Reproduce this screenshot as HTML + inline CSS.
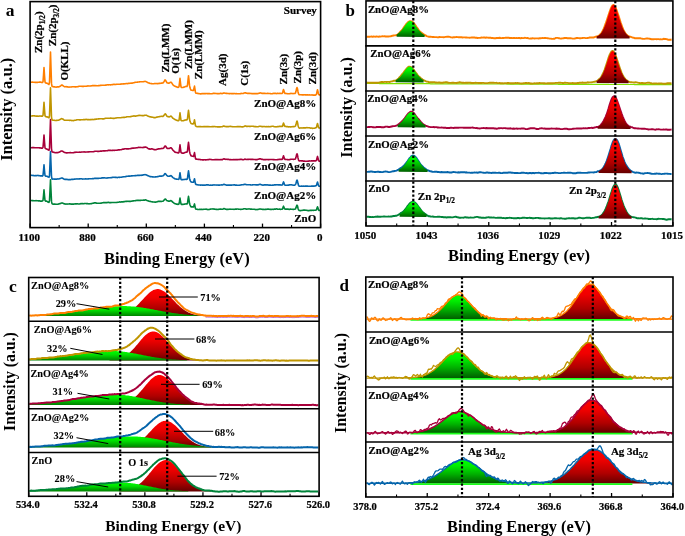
<!DOCTYPE html>
<html><head><meta charset="utf-8"><style>
html,body{margin:0;padding:0;background:#fff;}
svg{display:block;will-change:transform;}
text{font-family:"Liberation Serif", serif;font-weight:bold;fill:#000;}
</style></head><body>
<svg width="685" height="536" viewBox="0 0 685 536">
<rect width="685" height="536" fill="#fff"/>
<defs>
<linearGradient id="gG" x1="0" y1="0" x2="0" y2="1"><stop offset="0" stop-color="#00ff00"/><stop offset="0.25" stop-color="#00ee00"/><stop offset="0.6" stop-color="#00b000"/><stop offset="1" stop-color="#005c00"/></linearGradient>
<linearGradient id="gG2" x1="0" y1="0" x2="0" y2="1"><stop offset="0" stop-color="#00ff00"/><stop offset="0.4" stop-color="#00e000"/><stop offset="1" stop-color="#008000"/></linearGradient>
<linearGradient id="gR" x1="0" y1="0" x2="0" y2="1"><stop offset="0" stop-color="#ff0000"/><stop offset="0.3" stop-color="#f00000"/><stop offset="0.7" stop-color="#b00000"/><stop offset="1" stop-color="#640000"/></linearGradient>
</defs>
<path d="M30.5,200.4 L31.0,200.5 L31.5,200.5 L32.0,200.6 L32.5,200.6 L33.0,200.6 L33.5,200.7 L34.0,200.7 L34.5,200.7 L35.0,200.7 L35.5,200.7 L36.0,200.6 L36.5,200.8 L37.0,200.7 L37.5,200.7 L38.0,200.7 L38.5,200.9 L39.0,201.0 L39.5,200.8 L40.0,201.0 L40.5,201.1 L41.0,201.1 L41.5,201.1 L42.0,201.0 L42.5,201.0 L43.0,200.3 L43.5,195.5 L44.0,189.8 L44.5,195.5 L45.0,200.3 L45.5,201.1 L46.0,201.0 L46.5,201.1 L47.0,201.2 L47.5,201.7 L48.0,202.0 L48.5,202.3 L49.0,202.4 L49.5,200.6 L50.0,190.3 L50.5,179.8 L51.0,190.6 L51.5,201.4 L52.0,203.6 L52.5,204.0 L53.0,204.1 L53.5,204.2 L54.0,204.1 L54.5,204.1 L55.0,204.1 L55.5,204.2 L56.0,204.3 L56.5,204.2 L57.0,204.2 L57.5,204.2 L58.0,204.2 L58.5,204.0 L59.0,203.9 L59.5,203.8 L60.0,203.6 L60.5,203.5 L61.0,203.2 L61.5,203.0 L62.0,203.0 L62.5,203.0 L63.0,203.3 L63.5,203.5 L64.0,203.8 L64.5,203.9 L65.0,203.9 L65.5,204.1 L66.0,204.0 L66.5,204.0 L67.0,204.1 L67.5,204.0 L68.0,204.0 L68.5,204.0 L69.0,204.0 L69.5,203.9 L70.0,203.9 L70.5,204.0 L71.0,204.1 L71.5,204.0 L72.0,204.1 L72.5,204.1 L73.0,204.0 L73.5,204.1 L74.0,204.0 L74.5,204.0 L75.0,203.9 L75.5,203.9 L76.0,203.9 L76.5,203.9 L77.0,203.8 L77.5,203.8 L78.0,204.0 L78.5,204.0 L79.0,204.0 L79.5,204.0 L80.0,203.9 L80.5,203.8 L81.0,203.6 L81.5,203.7 L82.0,203.6 L82.5,203.6 L83.0,203.7 L83.5,203.7 L84.0,203.6 L84.5,203.5 L85.0,203.5 L85.5,203.5 L86.0,203.5 L86.5,203.6 L87.0,203.6 L87.5,203.6 L88.0,203.8 L88.5,203.8 L89.0,203.9 L89.5,203.8 L90.0,203.7 L90.5,203.7 L91.0,203.6 L91.5,203.6 L92.0,203.5 L92.5,203.3 L93.0,203.2 L93.5,203.1 L94.0,203.0 L94.5,202.9 L95.0,202.9 L95.5,202.8 L96.0,203.0 L96.5,203.1 L97.0,203.2 L97.5,203.2 L98.0,203.3 L98.5,203.3 L99.0,203.3 L99.5,203.3 L100.0,203.3 L100.5,203.2 L101.0,203.0 L101.5,203.1 L102.0,202.9 L102.5,202.8 L103.0,202.8 L103.5,202.6 L104.0,202.6 L104.5,202.6 L105.0,202.6 L105.5,202.7 L106.0,202.5 L106.5,202.6 L107.0,202.6 L107.5,202.5 L108.0,202.4 L108.5,202.4 L109.0,202.5 L109.5,202.6 L110.0,202.6 L110.5,202.6 L111.0,202.6 L111.5,202.5 L112.0,202.5 L112.5,202.5 L113.0,202.5 L113.5,202.5 L114.0,202.5 L114.5,202.5 L115.0,202.5 L115.5,202.5 L116.0,202.5 L116.5,202.5 L117.0,202.4 L117.5,202.2 L118.0,202.2 L118.5,202.2 L119.0,202.1 L119.5,201.9 L120.0,201.9 L120.5,202.1 L121.0,202.0 L121.5,201.8 L122.0,201.9 L122.5,201.8 L123.0,202.0 L123.5,201.7 L124.0,201.5 L124.5,201.6 L125.0,201.5 L125.5,201.5 L126.0,201.2 L126.5,201.2 L127.0,201.4 L127.5,201.2 L128.0,201.3 L128.5,201.2 L129.0,201.5 L129.5,201.4 L130.0,201.3 L130.5,201.4 L131.0,201.3 L131.5,201.3 L132.0,201.1 L132.5,201.0 L133.0,200.9 L133.5,200.9 L134.0,200.8 L134.5,200.8 L135.0,200.7 L135.5,200.6 L136.0,200.6 L136.5,200.4 L137.0,200.4 L137.5,200.4 L138.0,200.4 L138.5,200.4 L139.0,200.4 L139.5,200.5 L140.0,200.4 L140.5,200.4 L141.0,200.2 L141.5,200.3 L142.0,200.3 L142.5,200.2 L143.0,200.2 L143.5,200.1 L144.0,200.1 L144.5,200.1 L145.0,200.0 L145.5,199.9 L146.0,200.0 L146.5,200.3 L147.0,200.5 L147.5,200.7 L148.0,200.8 L148.5,201.0 L149.0,201.2 L149.5,201.3 L150.0,201.5 L150.5,201.4 L151.0,201.6 L151.5,201.7 L152.0,201.7 L152.5,201.9 L153.0,202.0 L153.5,202.0 L154.0,202.0 L154.5,202.0 L155.0,202.2 L155.5,202.1 L156.0,202.0 L156.5,202.0 L157.0,201.8 L157.5,201.7 L158.0,201.4 L158.5,201.3 L159.0,201.4 L159.5,201.3 L160.0,201.4 L160.5,201.4 L161.0,201.5 L161.5,201.5 L162.0,201.3 L162.5,201.2 L163.0,201.2 L163.5,200.8 L164.0,200.3 L164.5,199.5 L165.0,199.1 L165.5,199.1 L166.0,199.6 L166.5,200.3 L167.0,200.7 L167.5,200.8 L168.0,201.0 L168.5,201.1 L169.0,201.1 L169.5,201.1 L170.0,201.1 L170.5,200.8 L171.0,200.6 L171.5,200.9 L172.0,201.4 L172.5,202.0 L173.0,202.3 L173.5,202.8 L174.0,203.1 L174.5,203.4 L175.0,203.7 L175.5,203.8 L176.0,204.0 L176.5,204.1 L177.0,204.1 L177.5,204.2 L178.0,204.4 L178.5,204.3 L179.0,203.9 L179.5,201.2 L180.0,198.0 L180.5,201.3 L181.0,203.9 L181.5,204.4 L182.0,204.4 L182.5,204.4 L183.0,204.5 L183.5,204.3 L184.0,204.2 L184.5,204.1 L185.0,204.0 L185.5,204.0 L186.0,203.9 L186.5,203.9 L187.0,204.0 L187.5,203.1 L188.0,199.4 L188.5,196.4 L189.0,199.5 L189.5,203.3 L190.0,205.0 L190.5,206.0 L191.0,206.9 L191.5,206.9 L192.0,206.9 L192.5,206.9 L193.0,207.0 L193.5,207.0 L194.0,205.5 L194.5,203.9 L195.0,206.3 L195.5,208.6 L196.0,209.1 L196.5,209.2 L197.0,209.3 L197.5,209.4 L198.0,209.5 L198.5,209.5 L199.0,209.5 L199.5,209.4 L200.0,209.4 L200.5,209.5 L201.0,209.4 L201.5,209.4 L202.0,209.4 L202.5,209.5 L203.0,209.5 L203.5,209.3 L204.0,209.3 L204.5,209.3 L205.0,209.2 L205.5,209.2 L206.0,209.1 L206.5,209.3 L207.0,209.4 L207.5,209.5 L208.0,209.6 L208.5,209.5 L209.0,209.5 L209.5,209.4 L210.0,209.2 L210.5,209.1 L211.0,209.0 L211.5,209.0 L212.0,209.0 L212.5,209.0 L213.0,208.9 L213.5,209.0 L214.0,209.1 L214.5,209.1 L215.0,209.3 L215.5,209.3 L216.0,209.4 L216.5,209.3 L217.0,209.5 L217.5,209.5 L218.0,209.4 L218.5,209.4 L219.0,209.3 L219.5,209.3 L220.0,209.1 L220.5,209.1 L221.0,209.1 L221.5,209.2 L222.0,209.2 L222.5,209.2 L223.0,209.1 L223.5,208.8 L224.0,208.6 L224.5,208.8 L225.0,208.9 L225.5,209.2 L226.0,209.2 L226.5,209.4 L227.0,209.4 L227.5,209.4 L228.0,209.4 L228.5,209.2 L229.0,209.2 L229.5,209.2 L230.0,209.1 L230.5,209.2 L231.0,209.2 L231.5,209.3 L232.0,209.3 L232.5,209.3 L233.0,209.3 L233.5,209.3 L234.0,209.4 L234.5,209.3 L235.0,209.3 L235.5,209.1 L236.0,209.1 L236.5,209.1 L237.0,209.0 L237.5,209.0 L238.0,209.0 L238.5,209.2 L239.0,209.3 L239.5,209.2 L240.0,209.3 L240.5,209.4 L241.0,209.4 L241.5,209.3 L242.0,209.2 L242.5,209.2 L243.0,209.1 L243.5,208.9 L244.0,208.8 L244.5,208.7 L245.0,208.7 L245.5,208.9 L246.0,209.0 L246.5,209.1 L247.0,209.1 L247.5,209.0 L248.0,209.0 L248.5,209.0 L249.0,208.9 L249.5,209.0 L250.0,209.0 L250.5,209.1 L251.0,209.1 L251.5,209.1 L252.0,209.2 L252.5,209.2 L253.0,209.2 L253.5,209.3 L254.0,209.3 L254.5,209.3 L255.0,209.4 L255.5,209.6 L256.0,209.5 L256.5,209.5 L257.0,209.6 L257.5,209.5 L258.0,209.4 L258.5,209.2 L259.0,209.2 L259.5,209.0 L260.0,209.0 L260.5,209.0 L261.0,209.1 L261.5,209.2 L262.0,209.3 L262.5,209.4 L263.0,209.3 L263.5,209.4 L264.0,209.5 L264.5,209.5 L265.0,209.4 L265.5,209.3 L266.0,209.4 L266.5,209.2 L267.0,209.2 L267.5,209.1 L268.0,209.2 L268.5,209.1 L269.0,209.2 L269.5,209.3 L270.0,209.4 L270.5,209.3 L271.0,209.4 L271.5,209.5 L272.0,209.4 L272.5,209.3 L273.0,209.3 L273.5,209.4 L274.0,209.3 L274.5,209.1 L275.0,209.1 L275.5,209.1 L276.0,209.0 L276.5,208.9 L277.0,209.0 L277.5,209.1 L278.0,209.2 L278.5,209.2 L279.0,209.2 L279.5,209.1 L280.0,209.3 L280.5,209.4 L281.0,209.3 L281.5,209.3 L282.0,209.3 L282.5,208.9 L283.0,207.4 L283.5,206.2 L284.0,207.4 L284.5,208.7 L285.0,209.0 L285.5,209.1 L286.0,209.1 L286.5,209.1 L287.0,209.0 L287.5,209.1 L288.0,209.1 L288.5,209.3 L289.0,209.4 L289.5,209.4 L290.0,209.3 L290.5,209.1 L291.0,209.2 L291.5,209.2 L292.0,209.2 L292.5,209.3 L293.0,209.4 L293.5,209.4 L294.0,209.3 L294.5,209.3 L295.0,209.2 L295.5,208.8 L296.0,207.7 L296.5,206.1 L297.0,205.2 L297.5,206.0 L298.0,208.2 L298.5,209.7 L299.0,210.4 L299.5,210.5 L300.0,210.6 L300.5,210.6 L301.0,210.5 L301.5,210.5 L302.0,210.4 L302.5,210.2 L303.0,210.2 L303.5,210.1 L304.0,210.1 L304.5,210.1 L305.0,210.1 L305.5,210.2 L306.0,210.2 L306.5,210.3 L307.0,210.4 L307.5,210.5 L308.0,210.6 L308.5,210.5 L309.0,210.6 L309.5,210.5 L310.0,210.4 L310.5,210.4 L311.0,210.3 L311.5,210.4 L312.0,210.4 L312.5,210.3 L313.0,210.3 L313.5,210.4 L314.0,210.3 L314.5,210.2 L315.0,210.3 L315.5,210.2 L316.0,210.1 L316.5,209.7 L317.0,208.0 L317.5,206.8 L318.0,208.0 L318.5,209.9 L319.0,210.4 L319.5,210.4 L320.0,210.5" fill="none" stroke="#00843a" stroke-width="1.6" stroke-linejoin="round" />
<path d="M30.5,175.3 L31.0,175.3 L31.5,175.3 L32.0,175.5 L32.5,175.5 L33.0,175.4 L33.5,175.5 L34.0,175.7 L34.5,175.7 L35.0,175.6 L35.5,175.6 L36.0,175.7 L36.5,175.6 L37.0,175.5 L37.5,175.5 L38.0,175.4 L38.5,175.6 L39.0,175.6 L39.5,175.7 L40.0,175.8 L40.5,175.9 L41.0,176.0 L41.5,175.9 L42.0,175.9 L42.5,176.1 L43.0,175.4 L43.5,170.5 L44.0,164.9 L44.5,170.7 L45.0,175.5 L45.5,176.1 L46.0,176.1 L46.5,176.2 L47.0,176.2 L47.5,176.5 L48.0,176.9 L48.5,177.1 L49.0,177.3 L49.5,175.5 L50.0,163.6 L50.5,151.6 L51.0,164.1 L51.5,176.5 L52.0,179.0 L52.5,179.1 L53.0,179.0 L53.5,179.0 L54.0,179.1 L54.5,179.1 L55.0,179.1 L55.5,179.1 L56.0,179.2 L56.5,179.1 L57.0,179.1 L57.5,178.9 L58.0,179.0 L58.5,179.0 L59.0,178.9 L59.5,178.8 L60.0,178.6 L60.5,178.4 L61.0,178.2 L61.5,178.0 L62.0,178.0 L62.5,178.1 L63.0,178.5 L63.5,178.8 L64.0,179.1 L64.5,179.2 L65.0,179.4 L65.5,179.4 L66.0,179.3 L66.5,179.5 L67.0,179.4 L67.5,179.5 L68.0,179.6 L68.5,179.7 L69.0,179.6 L69.5,179.6 L70.0,179.5 L70.5,179.6 L71.0,179.5 L71.5,179.4 L72.0,179.4 L72.5,179.3 L73.0,179.4 L73.5,179.2 L74.0,179.2 L74.5,179.1 L75.0,179.1 L75.5,179.0 L76.0,179.0 L76.5,179.0 L77.0,178.9 L77.5,179.0 L78.0,179.0 L78.5,179.0 L79.0,178.9 L79.5,178.8 L80.0,178.9 L80.5,178.8 L81.0,178.8 L81.5,178.8 L82.0,178.9 L82.5,179.1 L83.0,179.0 L83.5,179.0 L84.0,179.0 L84.5,179.0 L85.0,179.0 L85.5,178.8 L86.0,178.9 L86.5,179.0 L87.0,179.0 L87.5,179.0 L88.0,178.9 L88.5,178.9 L89.0,178.8 L89.5,178.8 L90.0,178.7 L90.5,178.8 L91.0,178.7 L91.5,178.7 L92.0,178.7 L92.5,178.6 L93.0,178.7 L93.5,178.6 L94.0,178.5 L94.5,178.4 L95.0,178.3 L95.5,178.5 L96.0,178.3 L96.5,178.4 L97.0,178.4 L97.5,178.4 L98.0,178.4 L98.5,178.4 L99.0,178.3 L99.5,178.3 L100.0,178.3 L100.5,178.2 L101.0,178.2 L101.5,178.0 L102.0,177.9 L102.5,177.9 L103.0,177.9 L103.5,177.9 L104.0,177.8 L104.5,177.8 L105.0,178.0 L105.5,178.0 L106.0,178.0 L106.5,178.0 L107.0,178.1 L107.5,177.9 L108.0,177.9 L108.5,177.8 L109.0,177.7 L109.5,177.7 L110.0,177.7 L110.5,177.7 L111.0,177.6 L111.5,177.6 L112.0,177.5 L112.5,177.4 L113.0,177.4 L113.5,177.3 L114.0,177.3 L114.5,177.2 L115.0,177.4 L115.5,177.4 L116.0,177.4 L116.5,177.4 L117.0,177.6 L117.5,177.6 L118.0,177.4 L118.5,177.3 L119.0,177.3 L119.5,177.4 L120.0,177.2 L120.5,177.3 L121.0,177.2 L121.5,177.2 L122.0,177.0 L122.5,177.0 L123.0,176.9 L123.5,176.8 L124.0,176.8 L124.5,176.8 L125.0,176.8 L125.5,176.6 L126.0,176.5 L126.5,176.4 L127.0,176.3 L127.5,176.2 L128.0,176.2 L128.5,176.1 L129.0,176.1 L129.5,176.1 L130.0,176.1 L130.5,176.0 L131.0,176.0 L131.5,175.9 L132.0,176.0 L132.5,175.8 L133.0,175.7 L133.5,175.7 L134.0,175.7 L134.5,175.7 L135.0,175.6 L135.5,175.6 L136.0,175.6 L136.5,175.5 L137.0,175.5 L137.5,175.4 L138.0,175.4 L138.5,175.4 L139.0,175.4 L139.5,175.4 L140.0,175.3 L140.5,175.3 L141.0,175.4 L141.5,175.2 L142.0,175.1 L142.5,175.1 L143.0,175.1 L143.5,174.8 L144.0,174.7 L144.5,174.7 L145.0,174.6 L145.5,174.7 L146.0,174.7 L146.5,175.0 L147.0,175.2 L147.5,175.5 L148.0,175.8 L148.5,175.9 L149.0,176.1 L149.5,176.4 L150.0,176.6 L150.5,176.5 L151.0,176.6 L151.5,176.7 L152.0,176.8 L152.5,176.9 L153.0,176.9 L153.5,177.0 L154.0,177.0 L154.5,177.0 L155.0,177.0 L155.5,176.8 L156.0,176.9 L156.5,176.8 L157.0,176.7 L157.5,176.6 L158.0,176.6 L158.5,176.4 L159.0,176.2 L159.5,176.1 L160.0,176.2 L160.5,176.1 L161.0,176.0 L161.5,176.1 L162.0,176.0 L162.5,176.0 L163.0,175.8 L163.5,175.5 L164.0,175.0 L164.5,174.1 L165.0,173.6 L165.5,173.7 L166.0,174.4 L166.5,175.2 L167.0,175.6 L167.5,176.0 L168.0,176.2 L168.5,176.2 L169.0,176.2 L169.5,176.1 L170.0,176.0 L170.5,175.7 L171.0,175.6 L171.5,175.9 L172.0,176.5 L172.5,177.2 L173.0,177.6 L173.5,177.9 L174.0,178.2 L174.5,178.5 L175.0,178.9 L175.5,179.0 L176.0,179.0 L176.5,179.1 L177.0,179.3 L177.5,179.2 L178.0,179.3 L178.5,179.4 L179.0,179.1 L179.5,176.2 L180.0,172.7 L180.5,176.3 L181.0,179.4 L181.5,179.7 L182.0,179.7 L182.5,179.6 L183.0,179.6 L183.5,179.5 L184.0,179.5 L184.5,179.5 L185.0,179.4 L185.5,179.3 L186.0,179.2 L186.5,179.4 L187.0,179.3 L187.5,178.3 L188.0,174.2 L188.5,170.9 L189.0,174.2 L189.5,178.2 L190.0,180.1 L190.5,181.1 L191.0,181.9 L191.5,182.0 L192.0,182.2 L192.5,182.3 L193.0,182.3 L193.5,182.2 L194.0,180.5 L194.5,178.7 L195.0,181.3 L195.5,183.9 L196.0,184.4 L196.5,184.5 L197.0,184.8 L197.5,184.8 L198.0,184.9 L198.5,185.0 L199.0,185.0 L199.5,185.0 L200.0,185.0 L200.5,185.2 L201.0,185.0 L201.5,185.0 L202.0,185.1 L202.5,185.1 L203.0,185.2 L203.5,185.1 L204.0,185.2 L204.5,185.1 L205.0,185.2 L205.5,185.1 L206.0,184.9 L206.5,184.9 L207.0,184.8 L207.5,185.0 L208.0,184.9 L208.5,184.9 L209.0,185.1 L209.5,185.2 L210.0,185.2 L210.5,185.1 L211.0,185.2 L211.5,185.2 L212.0,185.1 L212.5,185.1 L213.0,185.0 L213.5,185.0 L214.0,184.9 L214.5,185.0 L215.0,185.0 L215.5,185.0 L216.0,185.0 L216.5,185.0 L217.0,185.1 L217.5,185.0 L218.0,185.0 L218.5,185.1 L219.0,185.1 L219.5,185.1 L220.0,185.0 L220.5,185.0 L221.0,185.0 L221.5,184.9 L222.0,185.0 L222.5,184.9 L223.0,184.7 L223.5,184.4 L224.0,184.2 L224.5,184.4 L225.0,184.7 L225.5,184.8 L226.0,185.0 L226.5,185.1 L227.0,185.2 L227.5,185.1 L228.0,185.1 L228.5,185.0 L229.0,185.1 L229.5,185.1 L230.0,185.1 L230.5,185.1 L231.0,185.1 L231.5,185.1 L232.0,185.0 L232.5,185.0 L233.0,185.0 L233.5,185.0 L234.0,184.8 L234.5,184.9 L235.0,185.0 L235.5,185.1 L236.0,185.1 L236.5,185.1 L237.0,185.2 L237.5,185.2 L238.0,185.2 L238.5,185.3 L239.0,185.2 L239.5,185.2 L240.0,185.1 L240.5,185.0 L241.0,185.0 L241.5,184.7 L242.0,184.8 L242.5,184.7 L243.0,184.7 L243.5,184.6 L244.0,184.5 L244.5,184.4 L245.0,184.3 L245.5,184.4 L246.0,184.6 L246.5,184.8 L247.0,184.8 L247.5,184.8 L248.0,184.8 L248.5,184.7 L249.0,184.8 L249.5,184.8 L250.0,184.8 L250.5,184.9 L251.0,185.0 L251.5,185.0 L252.0,185.0 L252.5,184.9 L253.0,184.8 L253.5,184.8 L254.0,184.7 L254.5,184.7 L255.0,184.8 L255.5,184.8 L256.0,185.0 L256.5,184.9 L257.0,185.0 L257.5,184.9 L258.0,185.0 L258.5,184.8 L259.0,184.6 L259.5,184.4 L260.0,184.3 L260.5,184.4 L261.0,184.6 L261.5,184.7 L262.0,184.9 L262.5,185.1 L263.0,185.1 L263.5,185.1 L264.0,184.9 L264.5,184.9 L265.0,185.0 L265.5,184.8 L266.0,184.9 L266.5,185.0 L267.0,184.9 L267.5,185.0 L268.0,184.9 L268.5,185.1 L269.0,185.1 L269.5,185.1 L270.0,185.0 L270.5,185.1 L271.0,185.2 L271.5,185.2 L272.0,185.2 L272.5,185.1 L273.0,185.2 L273.5,185.1 L274.0,184.9 L274.5,184.9 L275.0,184.8 L275.5,184.9 L276.0,184.8 L276.5,184.8 L277.0,184.9 L277.5,184.8 L278.0,184.8 L278.5,184.9 L279.0,184.9 L279.5,184.9 L280.0,184.8 L280.5,184.9 L281.0,185.1 L281.5,185.0 L282.0,185.0 L282.5,184.7 L283.0,183.3 L283.5,181.9 L284.0,183.1 L284.5,184.7 L285.0,185.1 L285.5,185.2 L286.0,185.2 L286.5,185.3 L287.0,185.2 L287.5,185.2 L288.0,185.1 L288.5,185.1 L289.0,185.0 L289.5,184.9 L290.0,184.9 L290.5,184.8 L291.0,184.7 L291.5,184.8 L292.0,185.0 L292.5,185.0 L293.0,185.1 L293.5,185.2 L294.0,185.2 L294.5,185.2 L295.0,184.9 L295.5,184.4 L296.0,183.2 L296.5,181.2 L297.0,180.1 L297.5,181.2 L298.0,183.6 L298.5,185.3 L299.0,186.1 L299.5,186.1 L300.0,186.2 L300.5,186.2 L301.0,186.2 L301.5,186.1 L302.0,186.1 L302.5,186.2 L303.0,186.2 L303.5,186.1 L304.0,186.2 L304.5,186.2 L305.0,186.1 L305.5,186.1 L306.0,186.0 L306.5,186.1 L307.0,186.1 L307.5,186.1 L308.0,186.2 L308.5,186.2 L309.0,186.2 L309.5,186.2 L310.0,186.2 L310.5,186.3 L311.0,186.2 L311.5,186.1 L312.0,186.1 L312.5,186.0 L313.0,186.1 L313.5,186.0 L314.0,186.1 L314.5,186.1 L315.0,185.9 L315.5,185.9 L316.0,185.8 L316.5,185.3 L317.0,183.5 L317.5,182.0 L318.0,183.8 L318.5,185.6 L319.0,186.2 L319.5,186.2 L320.0,186.1" fill="none" stroke="#0565ab" stroke-width="1.6" stroke-linejoin="round" />
<path d="M30.5,147.8 L31.0,147.7 L31.5,147.7 L32.0,147.6 L32.5,147.6 L33.0,147.6 L33.5,147.6 L34.0,147.6 L34.5,147.7 L35.0,147.8 L35.5,147.8 L36.0,147.8 L36.5,147.8 L37.0,147.7 L37.5,147.8 L38.0,147.7 L38.5,147.7 L39.0,147.8 L39.5,147.9 L40.0,147.9 L40.5,147.9 L41.0,148.1 L41.5,148.1 L42.0,148.1 L42.5,148.1 L43.0,147.4 L43.5,141.7 L44.0,135.0 L44.5,141.8 L45.0,147.8 L45.5,148.6 L46.0,148.8 L46.5,149.0 L47.0,149.1 L47.5,149.4 L48.0,149.7 L48.5,150.0 L49.0,150.2 L49.5,147.9 L50.0,133.8 L50.5,119.5 L51.0,134.4 L51.5,149.0 L52.0,151.8 L52.5,152.0 L53.0,152.1 L53.5,152.3 L54.0,152.4 L54.5,152.5 L55.0,152.6 L55.5,152.7 L56.0,152.7 L56.5,152.6 L57.0,152.7 L57.5,152.6 L58.0,152.5 L58.5,152.4 L59.0,152.2 L59.5,152.0 L60.0,151.7 L60.5,151.5 L61.0,151.1 L61.5,151.0 L62.0,151.0 L62.5,151.2 L63.0,151.4 L63.5,151.8 L64.0,152.2 L64.5,152.4 L65.0,152.5 L65.5,152.7 L66.0,152.8 L66.5,152.9 L67.0,153.0 L67.5,152.8 L68.0,152.8 L68.5,152.7 L69.0,152.7 L69.5,152.7 L70.0,152.6 L70.5,152.6 L71.0,152.7 L71.5,152.7 L72.0,152.7 L72.5,152.7 L73.0,152.7 L73.5,152.8 L74.0,152.5 L74.5,152.4 L75.0,152.4 L75.5,152.2 L76.0,152.1 L76.5,152.2 L77.0,152.3 L77.5,152.2 L78.0,152.3 L78.5,152.3 L79.0,152.2 L79.5,152.1 L80.0,152.2 L80.5,152.2 L81.0,152.1 L81.5,152.0 L82.0,152.0 L82.5,152.0 L83.0,152.0 L83.5,152.0 L84.0,151.9 L84.5,151.9 L85.0,152.1 L85.5,152.0 L86.0,152.0 L86.5,152.0 L87.0,152.0 L87.5,152.0 L88.0,151.9 L88.5,152.0 L89.0,151.9 L89.5,151.8 L90.0,151.8 L90.5,151.7 L91.0,151.7 L91.5,151.7 L92.0,151.7 L92.5,151.7 L93.0,151.8 L93.5,151.8 L94.0,151.6 L94.5,151.4 L95.0,151.3 L95.5,151.3 L96.0,151.2 L96.5,151.2 L97.0,151.3 L97.5,151.4 L98.0,151.5 L98.5,151.4 L99.0,151.4 L99.5,151.3 L100.0,151.3 L100.5,151.1 L101.0,151.0 L101.5,151.1 L102.0,151.0 L102.5,151.0 L103.0,150.9 L103.5,150.9 L104.0,150.9 L104.5,150.7 L105.0,150.9 L105.5,150.7 L106.0,150.8 L106.5,150.7 L107.0,150.7 L107.5,150.7 L108.0,150.4 L108.5,150.4 L109.0,150.4 L109.5,150.4 L110.0,150.4 L110.5,150.4 L111.0,150.4 L111.5,150.5 L112.0,150.5 L112.5,150.4 L113.0,150.4 L113.5,150.2 L114.0,150.3 L114.5,150.4 L115.0,150.3 L115.5,150.3 L116.0,150.3 L116.5,150.3 L117.0,150.3 L117.5,150.0 L118.0,150.0 L118.5,149.9 L119.0,149.9 L119.5,149.9 L120.0,149.8 L120.5,149.8 L121.0,149.7 L121.5,149.6 L122.0,149.4 L122.5,149.3 L123.0,149.1 L123.5,149.1 L124.0,149.0 L124.5,148.9 L125.0,148.7 L125.5,148.8 L126.0,148.8 L126.5,148.9 L127.0,148.9 L127.5,148.9 L128.0,148.9 L128.5,148.9 L129.0,148.8 L129.5,148.7 L130.0,148.7 L130.5,148.6 L131.0,148.4 L131.5,148.4 L132.0,148.4 L132.5,148.1 L133.0,148.0 L133.5,148.1 L134.0,148.1 L134.5,148.0 L135.0,148.0 L135.5,148.0 L136.0,147.9 L136.5,147.8 L137.0,147.8 L137.5,147.7 L138.0,147.5 L138.5,147.4 L139.0,147.5 L139.5,147.5 L140.0,147.3 L140.5,147.5 L141.0,147.5 L141.5,147.5 L142.0,147.5 L142.5,147.5 L143.0,147.6 L143.5,147.3 L144.0,147.4 L144.5,147.2 L145.0,147.0 L145.5,147.1 L146.0,147.1 L146.5,147.5 L147.0,147.6 L147.5,148.0 L148.0,148.5 L148.5,148.7 L149.0,148.9 L149.5,148.9 L150.0,149.2 L150.5,149.1 L151.0,148.9 L151.5,148.9 L152.0,148.9 L152.5,149.0 L153.0,149.1 L153.5,149.4 L154.0,149.6 L154.5,149.6 L155.0,149.8 L155.5,149.7 L156.0,149.6 L156.5,149.5 L157.0,149.3 L157.5,149.2 L158.0,148.9 L158.5,148.9 L159.0,149.0 L159.5,148.8 L160.0,148.8 L160.5,148.7 L161.0,148.6 L161.5,148.5 L162.0,148.4 L162.5,148.5 L163.0,148.5 L163.5,148.1 L164.0,147.6 L164.5,146.7 L165.0,146.0 L165.5,146.0 L166.0,146.7 L166.5,147.7 L167.0,148.2 L167.5,148.5 L168.0,148.4 L168.5,148.5 L169.0,148.5 L169.5,148.4 L170.0,148.1 L170.5,147.8 L171.0,147.8 L171.5,148.1 L172.0,148.8 L172.5,149.5 L173.0,150.2 L173.5,150.7 L174.0,151.2 L174.5,151.6 L175.0,152.2 L175.5,152.3 L176.0,152.5 L176.5,152.5 L177.0,152.5 L177.5,152.8 L178.0,152.9 L178.5,153.0 L179.0,152.5 L179.5,148.9 L180.0,144.9 L180.5,148.9 L181.0,152.4 L181.5,152.9 L182.0,153.0 L182.5,153.1 L183.0,153.1 L183.5,153.2 L184.0,153.0 L184.5,152.8 L185.0,152.6 L185.5,152.3 L186.0,152.2 L186.5,152.1 L187.0,152.1 L187.5,150.9 L188.0,146.2 L188.5,142.4 L189.0,146.3 L189.5,151.2 L190.0,153.5 L190.5,154.7 L191.0,155.8 L191.5,155.9 L192.0,156.1 L192.5,156.2 L193.0,156.3 L193.5,156.5 L194.0,154.6 L194.5,152.6 L195.0,155.7 L195.5,158.7 L196.0,159.2 L196.5,159.1 L197.0,159.2 L197.5,159.3 L198.0,159.4 L198.5,159.4 L199.0,159.5 L199.5,159.4 L200.0,159.6 L200.5,159.6 L201.0,159.7 L201.5,159.7 L202.0,159.8 L202.5,159.9 L203.0,159.9 L203.5,160.0 L204.0,159.8 L204.5,159.8 L205.0,159.8 L205.5,159.9 L206.0,159.9 L206.5,159.8 L207.0,159.8 L207.5,159.8 L208.0,159.6 L208.5,159.6 L209.0,159.5 L209.5,159.4 L210.0,159.5 L210.5,159.5 L211.0,159.4 L211.5,159.6 L212.0,159.7 L212.5,159.7 L213.0,159.7 L213.5,159.7 L214.0,159.8 L214.5,159.7 L215.0,159.5 L215.5,159.5 L216.0,159.7 L216.5,159.6 L217.0,159.6 L217.5,159.6 L218.0,159.7 L218.5,159.8 L219.0,159.5 L219.5,159.7 L220.0,159.7 L220.5,159.6 L221.0,159.6 L221.5,159.5 L222.0,159.6 L222.5,159.6 L223.0,159.2 L223.5,159.0 L224.0,158.8 L224.5,159.0 L225.0,159.3 L225.5,159.2 L226.0,159.4 L226.5,159.3 L227.0,159.3 L227.5,159.4 L228.0,159.3 L228.5,159.4 L229.0,159.5 L229.5,159.6 L230.0,159.7 L230.5,159.6 L231.0,159.6 L231.5,159.7 L232.0,159.7 L232.5,159.7 L233.0,159.6 L233.5,159.6 L234.0,159.7 L234.5,159.6 L235.0,159.7 L235.5,159.6 L236.0,159.6 L236.5,159.5 L237.0,159.6 L237.5,159.7 L238.0,159.5 L238.5,159.5 L239.0,159.6 L239.5,159.5 L240.0,159.4 L240.5,159.4 L241.0,159.4 L241.5,159.4 L242.0,159.5 L242.5,159.6 L243.0,159.7 L243.5,159.7 L244.0,159.5 L244.5,159.2 L245.0,159.1 L245.5,159.2 L246.0,159.4 L246.5,159.5 L247.0,159.5 L247.5,159.4 L248.0,159.4 L248.5,159.4 L249.0,159.4 L249.5,159.3 L250.0,159.3 L250.5,159.4 L251.0,159.4 L251.5,159.3 L252.0,159.4 L252.5,159.4 L253.0,159.4 L253.5,159.5 L254.0,159.5 L254.5,159.5 L255.0,159.5 L255.5,159.6 L256.0,159.6 L256.5,159.5 L257.0,159.6 L257.5,159.5 L258.0,159.3 L258.5,159.2 L259.0,159.0 L259.5,158.9 L260.0,158.7 L260.5,158.9 L261.0,159.0 L261.5,159.2 L262.0,159.4 L262.5,159.4 L263.0,159.5 L263.5,159.6 L264.0,159.7 L264.5,159.6 L265.0,159.6 L265.5,159.6 L266.0,159.6 L266.5,159.5 L267.0,159.5 L267.5,159.5 L268.0,159.6 L268.5,159.6 L269.0,159.6 L269.5,159.5 L270.0,159.5 L270.5,159.5 L271.0,159.5 L271.5,159.5 L272.0,159.5 L272.5,159.5 L273.0,159.6 L273.5,159.6 L274.0,159.5 L274.5,159.7 L275.0,159.7 L275.5,159.8 L276.0,159.8 L276.5,159.8 L277.0,159.7 L277.5,159.6 L278.0,159.6 L278.5,159.5 L279.0,159.4 L279.5,159.4 L280.0,159.4 L280.5,159.4 L281.0,159.4 L281.5,159.4 L282.0,159.5 L282.5,158.9 L283.0,157.2 L283.5,155.8 L284.0,157.2 L284.5,159.0 L285.0,159.4 L285.5,159.4 L286.0,159.5 L286.5,159.5 L287.0,159.5 L287.5,159.6 L288.0,159.6 L288.5,159.7 L289.0,159.7 L289.5,159.6 L290.0,159.5 L290.5,159.4 L291.0,159.3 L291.5,159.3 L292.0,159.2 L292.5,159.3 L293.0,159.3 L293.5,159.4 L294.0,159.3 L294.5,159.3 L295.0,159.2 L295.5,158.7 L296.0,157.3 L296.5,154.9 L297.0,153.8 L297.5,155.1 L298.0,157.9 L298.5,159.8 L299.0,160.8 L299.5,160.9 L300.0,160.9 L300.5,160.8 L301.0,160.8 L301.5,160.9 L302.0,160.9 L302.5,160.9 L303.0,161.0 L303.5,161.1 L304.0,161.1 L304.5,161.1 L305.0,161.3 L305.5,161.3 L306.0,161.2 L306.5,161.3 L307.0,161.3 L307.5,161.2 L308.0,161.1 L308.5,161.0 L309.0,161.1 L309.5,160.9 L310.0,161.0 L310.5,161.0 L311.0,161.0 L311.5,160.9 L312.0,160.9 L312.5,161.0 L313.0,160.9 L313.5,160.9 L314.0,160.7 L314.5,160.9 L315.0,160.9 L315.5,160.9 L316.0,160.8 L316.5,160.2 L317.0,158.2 L317.5,156.4 L318.0,158.2 L318.5,160.3 L319.0,161.1 L319.5,161.1 L320.0,161.1" fill="none" stroke="#a8003a" stroke-width="1.6" stroke-linejoin="round" />
<path d="M30.5,116.0 L31.0,116.0 L31.5,116.0 L32.0,116.0 L32.5,115.9 L33.0,115.9 L33.5,115.8 L34.0,115.8 L34.5,115.9 L35.0,116.0 L35.5,116.0 L36.0,116.1 L36.5,116.1 L37.0,116.1 L37.5,116.1 L38.0,116.2 L38.5,116.2 L39.0,116.1 L39.5,116.0 L40.0,116.0 L40.5,116.0 L41.0,116.1 L41.5,116.0 L42.0,116.1 L42.5,116.2 L43.0,115.4 L43.5,109.3 L44.0,102.2 L44.5,109.5 L45.0,115.6 L45.5,116.5 L46.0,116.6 L46.5,116.9 L47.0,116.8 L47.5,117.0 L48.0,117.3 L48.5,117.6 L49.0,117.9 L49.5,115.7 L50.0,101.9 L50.5,87.8 L51.0,102.6 L51.5,117.1 L52.0,119.9 L52.5,120.0 L53.0,120.2 L53.5,120.2 L54.0,120.2 L54.5,120.3 L55.0,120.5 L55.5,120.5 L56.0,120.5 L56.5,120.4 L57.0,120.4 L57.5,120.3 L58.0,120.2 L58.5,120.2 L59.0,120.0 L59.5,119.8 L60.0,119.6 L60.5,119.3 L61.0,118.9 L61.5,118.6 L62.0,118.7 L62.5,118.9 L63.0,119.1 L63.5,119.6 L64.0,120.0 L64.5,120.2 L65.0,120.2 L65.5,120.2 L66.0,120.2 L66.5,120.2 L67.0,120.2 L67.5,120.2 L68.0,120.2 L68.5,120.3 L69.0,120.3 L69.5,120.4 L70.0,120.3 L70.5,120.3 L71.0,120.4 L71.5,120.5 L72.0,120.6 L72.5,120.5 L73.0,120.5 L73.5,120.6 L74.0,120.5 L74.5,120.3 L75.0,120.2 L75.5,120.2 L76.0,120.1 L76.5,119.9 L77.0,119.8 L77.5,119.8 L78.0,119.8 L78.5,119.7 L79.0,119.8 L79.5,119.9 L80.0,119.9 L80.5,119.9 L81.0,119.8 L81.5,119.8 L82.0,119.7 L82.5,119.7 L83.0,119.7 L83.5,119.6 L84.0,119.6 L84.5,119.6 L85.0,119.7 L85.5,119.5 L86.0,119.4 L86.5,119.4 L87.0,119.6 L87.5,119.6 L88.0,119.5 L88.5,119.6 L89.0,119.8 L89.5,119.8 L90.0,119.6 L90.5,119.6 L91.0,119.6 L91.5,119.6 L92.0,119.4 L92.5,119.5 L93.0,119.6 L93.5,119.5 L94.0,119.5 L94.5,119.3 L95.0,119.4 L95.5,119.2 L96.0,119.1 L96.5,119.1 L97.0,119.0 L97.5,119.0 L98.0,119.0 L98.5,118.9 L99.0,118.9 L99.5,118.8 L100.0,118.7 L100.5,118.7 L101.0,118.7 L101.5,118.7 L102.0,118.8 L102.5,118.9 L103.0,118.9 L103.5,118.9 L104.0,118.7 L104.5,118.6 L105.0,118.5 L105.5,118.3 L106.0,118.2 L106.5,118.3 L107.0,118.2 L107.5,118.3 L108.0,118.3 L108.5,118.2 L109.0,118.3 L109.5,118.2 L110.0,118.2 L110.5,118.1 L111.0,118.1 L111.5,118.2 L112.0,118.3 L112.5,118.3 L113.0,118.4 L113.5,118.4 L114.0,118.5 L114.5,118.3 L115.0,118.2 L115.5,118.0 L116.0,118.0 L116.5,118.0 L117.0,117.8 L117.5,117.7 L118.0,117.7 L118.5,117.8 L119.0,117.8 L119.5,117.8 L120.0,117.8 L120.5,117.8 L121.0,117.7 L121.5,117.5 L122.0,117.5 L122.5,117.5 L123.0,117.4 L123.5,117.4 L124.0,117.4 L124.5,117.4 L125.0,117.2 L125.5,117.2 L126.0,117.1 L126.5,116.9 L127.0,116.8 L127.5,116.8 L128.0,116.8 L128.5,116.8 L129.0,116.8 L129.5,116.8 L130.0,116.7 L130.5,116.6 L131.0,116.6 L131.5,116.4 L132.0,116.3 L132.5,116.2 L133.0,116.1 L133.5,116.0 L134.0,115.9 L134.5,116.0 L135.0,116.1 L135.5,116.1 L136.0,116.0 L136.5,116.0 L137.0,115.8 L137.5,115.7 L138.0,115.6 L138.5,115.5 L139.0,115.4 L139.5,115.5 L140.0,115.4 L140.5,115.5 L141.0,115.5 L141.5,115.5 L142.0,115.6 L142.5,115.6 L143.0,115.6 L143.5,115.6 L144.0,115.5 L144.5,115.4 L145.0,115.3 L145.5,115.2 L146.0,115.2 L146.5,115.3 L147.0,115.6 L147.5,115.9 L148.0,116.1 L148.5,116.2 L149.0,116.4 L149.5,116.7 L150.0,116.8 L150.5,116.9 L151.0,116.9 L151.5,117.1 L152.0,117.1 L152.5,117.2 L153.0,117.3 L153.5,117.5 L154.0,117.6 L154.5,117.5 L155.0,117.6 L155.5,117.6 L156.0,117.4 L156.5,117.1 L157.0,117.1 L157.5,117.0 L158.0,116.9 L158.5,116.8 L159.0,116.7 L159.5,116.6 L160.0,116.5 L160.5,116.5 L161.0,116.4 L161.5,116.3 L162.0,116.3 L162.5,116.4 L163.0,116.4 L163.5,116.0 L164.0,115.3 L164.5,114.6 L165.0,114.0 L165.5,113.9 L166.0,114.6 L166.5,115.5 L167.0,116.2 L167.5,116.5 L168.0,116.6 L168.5,116.8 L169.0,116.9 L169.5,116.7 L170.0,116.6 L170.5,116.2 L171.0,116.1 L171.5,116.4 L172.0,117.1 L172.5,117.9 L173.0,118.3 L173.5,118.5 L174.0,118.9 L174.5,119.3 L175.0,119.6 L175.5,119.8 L176.0,120.0 L176.5,120.3 L177.0,120.4 L177.5,120.5 L178.0,120.8 L178.5,120.8 L179.0,120.3 L179.5,116.8 L180.0,112.9 L180.5,116.9 L181.0,120.3 L181.5,120.8 L182.0,120.8 L182.5,120.8 L183.0,120.7 L183.5,120.6 L184.0,120.5 L184.5,120.3 L185.0,120.1 L185.5,120.0 L186.0,119.9 L186.5,119.9 L187.0,119.8 L187.5,118.7 L188.0,114.1 L188.5,110.3 L189.0,114.1 L189.5,119.0 L190.0,121.3 L190.5,122.5 L191.0,123.5 L191.5,123.6 L192.0,123.8 L192.5,123.9 L193.0,123.9 L193.5,123.8 L194.0,121.9 L194.5,119.8 L195.0,122.8 L195.5,125.8 L196.0,126.2 L196.5,126.5 L197.0,126.6 L197.5,126.7 L198.0,126.7 L198.5,126.6 L199.0,126.6 L199.5,126.6 L200.0,126.6 L200.5,126.6 L201.0,126.6 L201.5,126.7 L202.0,126.8 L202.5,126.7 L203.0,126.6 L203.5,126.7 L204.0,126.6 L204.5,126.6 L205.0,126.6 L205.5,126.6 L206.0,126.7 L206.5,126.6 L207.0,126.6 L207.5,126.5 L208.0,126.6 L208.5,126.7 L209.0,126.6 L209.5,126.7 L210.0,126.8 L210.5,126.8 L211.0,126.7 L211.5,126.7 L212.0,126.6 L212.5,126.6 L213.0,126.6 L213.5,126.6 L214.0,126.5 L214.5,126.5 L215.0,126.6 L215.5,126.7 L216.0,126.7 L216.5,126.8 L217.0,126.8 L217.5,127.0 L218.0,126.9 L218.5,126.9 L219.0,126.8 L219.5,126.9 L220.0,127.0 L220.5,126.7 L221.0,126.7 L221.5,126.7 L222.0,126.7 L222.5,126.6 L223.0,126.3 L223.5,126.1 L224.0,126.1 L224.5,126.2 L225.0,126.5 L225.5,126.5 L226.0,126.6 L226.5,126.6 L227.0,126.6 L227.5,126.6 L228.0,126.5 L228.5,126.6 L229.0,126.5 L229.5,126.5 L230.0,126.4 L230.5,126.4 L231.0,126.5 L231.5,126.5 L232.0,126.6 L232.5,126.7 L233.0,126.8 L233.5,126.8 L234.0,126.8 L234.5,126.8 L235.0,126.8 L235.5,126.7 L236.0,126.7 L236.5,126.7 L237.0,126.6 L237.5,126.6 L238.0,126.6 L238.5,126.6 L239.0,126.6 L239.5,126.6 L240.0,126.7 L240.5,126.6 L241.0,126.7 L241.5,126.7 L242.0,126.9 L242.5,126.9 L243.0,126.8 L243.5,126.7 L244.0,126.4 L244.5,126.2 L245.0,125.9 L245.5,126.0 L246.0,126.2 L246.5,126.4 L247.0,126.3 L247.5,126.4 L248.0,126.3 L248.5,126.3 L249.0,126.4 L249.5,126.4 L250.0,126.5 L250.5,126.4 L251.0,126.3 L251.5,126.3 L252.0,126.2 L252.5,126.3 L253.0,126.3 L253.5,126.5 L254.0,126.4 L254.5,126.6 L255.0,126.6 L255.5,126.5 L256.0,126.6 L256.5,126.7 L257.0,126.8 L257.5,126.7 L258.0,126.7 L258.5,126.6 L259.0,126.4 L259.5,126.3 L260.0,126.2 L260.5,126.3 L261.0,126.4 L261.5,126.5 L262.0,126.6 L262.5,126.6 L263.0,126.6 L263.5,126.5 L264.0,126.5 L264.5,126.5 L265.0,126.6 L265.5,126.7 L266.0,126.7 L266.5,126.6 L267.0,126.7 L267.5,126.8 L268.0,126.6 L268.5,126.5 L269.0,126.6 L269.5,126.7 L270.0,126.7 L270.5,126.6 L271.0,126.5 L271.5,126.5 L272.0,126.3 L272.5,126.3 L273.0,126.3 L273.5,126.4 L274.0,126.6 L274.5,126.7 L275.0,126.8 L275.5,126.8 L276.0,126.9 L276.5,126.8 L277.0,126.7 L277.5,126.6 L278.0,126.5 L278.5,126.6 L279.0,126.4 L279.5,126.4 L280.0,126.4 L280.5,126.4 L281.0,126.5 L281.5,126.4 L282.0,126.5 L282.5,126.2 L283.0,124.4 L283.5,123.0 L284.0,124.3 L284.5,126.0 L285.0,126.5 L285.5,126.4 L286.0,126.5 L286.5,126.6 L287.0,126.6 L287.5,126.6 L288.0,126.7 L288.5,126.9 L289.0,126.8 L289.5,126.8 L290.0,126.9 L290.5,127.0 L291.0,126.9 L291.5,126.8 L292.0,126.8 L292.5,126.8 L293.0,126.6 L293.5,126.6 L294.0,126.6 L294.5,126.5 L295.0,126.4 L295.5,126.0 L296.0,124.6 L296.5,122.3 L297.0,121.1 L297.5,122.4 L298.0,125.2 L298.5,127.0 L299.0,128.0 L299.5,128.1 L300.0,128.0 L300.5,128.0 L301.0,127.9 L301.5,128.0 L302.0,128.0 L302.5,128.0 L303.0,127.9 L303.5,127.9 L304.0,127.9 L304.5,127.8 L305.0,127.9 L305.5,127.9 L306.0,127.8 L306.5,127.8 L307.0,127.6 L307.5,127.7 L308.0,127.7 L308.5,127.8 L309.0,127.8 L309.5,127.8 L310.0,128.0 L310.5,128.1 L311.0,128.0 L311.5,128.0 L312.0,128.2 L312.5,128.4 L313.0,128.3 L313.5,128.3 L314.0,128.3 L314.5,128.2 L315.0,128.0 L315.5,127.9 L316.0,127.8 L316.5,127.2 L317.0,125.1 L317.5,123.5 L318.0,125.3 L318.5,127.4 L319.0,128.0 L319.5,128.0 L320.0,128.0" fill="none" stroke="#bf9500" stroke-width="1.6" stroke-linejoin="round" />
<path d="M30.5,82.2 L31.0,82.2 L31.5,82.2 L32.0,82.1 L32.5,82.1 L33.0,82.2 L33.5,82.2 L34.0,82.3 L34.5,82.3 L35.0,82.4 L35.5,82.4 L36.0,82.3 L36.5,82.4 L37.0,82.5 L37.5,82.4 L38.0,82.3 L38.5,82.2 L39.0,82.2 L39.5,82.1 L40.0,82.1 L40.5,82.1 L41.0,82.2 L41.5,82.4 L42.0,82.5 L42.5,82.5 L43.0,81.7 L43.5,75.2 L44.0,67.6 L44.5,75.3 L45.0,81.9 L45.5,82.9 L46.0,83.0 L46.5,83.1 L47.0,83.1 L47.5,83.5 L48.0,83.9 L48.5,84.2 L49.0,84.4 L49.5,82.0 L50.0,67.2 L50.5,52.1 L51.0,67.8 L51.5,83.4 L52.0,86.3 L52.5,86.5 L53.0,86.6 L53.5,86.7 L54.0,86.9 L54.5,86.9 L55.0,87.0 L55.5,87.0 L56.0,87.1 L56.5,87.1 L57.0,86.9 L57.5,86.8 L58.0,86.9 L58.5,86.9 L59.0,86.7 L59.5,86.6 L60.0,86.3 L60.5,86.0 L61.0,85.6 L61.5,85.1 L62.0,85.1 L62.5,85.3 L63.0,85.7 L63.5,86.0 L64.0,86.4 L64.5,86.7 L65.0,86.7 L65.5,86.7 L66.0,86.6 L66.5,86.8 L67.0,86.9 L67.5,86.9 L68.0,87.0 L68.5,87.0 L69.0,87.1 L69.5,87.0 L70.0,87.0 L70.5,87.0 L71.0,87.0 L71.5,87.0 L72.0,86.8 L72.5,86.8 L73.0,86.8 L73.5,86.8 L74.0,86.8 L74.5,86.8 L75.0,86.9 L75.5,86.8 L76.0,86.9 L76.5,86.8 L77.0,86.8 L77.5,86.7 L78.0,86.6 L78.5,86.5 L79.0,86.3 L79.5,86.3 L80.0,86.2 L80.5,86.2 L81.0,86.3 L81.5,86.3 L82.0,86.4 L82.5,86.4 L83.0,86.4 L83.5,86.4 L84.0,86.2 L84.5,86.3 L85.0,86.3 L85.5,86.2 L86.0,86.2 L86.5,86.2 L87.0,86.1 L87.5,86.0 L88.0,85.9 L88.5,86.0 L89.0,86.0 L89.5,86.0 L90.0,86.0 L90.5,86.0 L91.0,85.9 L91.5,85.7 L92.0,85.7 L92.5,85.5 L93.0,85.6 L93.5,85.5 L94.0,85.6 L94.5,85.6 L95.0,85.6 L95.5,85.7 L96.0,85.6 L96.5,85.7 L97.0,85.7 L97.5,85.7 L98.0,85.7 L98.5,85.6 L99.0,85.6 L99.5,85.6 L100.0,85.4 L100.5,85.4 L101.0,85.4 L101.5,85.3 L102.0,85.2 L102.5,85.2 L103.0,85.2 L103.5,85.2 L104.0,85.3 L104.5,85.2 L105.0,85.2 L105.5,85.1 L106.0,85.1 L106.5,85.0 L107.0,84.9 L107.5,84.8 L108.0,84.8 L108.5,84.9 L109.0,84.8 L109.5,84.7 L110.0,84.7 L110.5,84.9 L111.0,84.8 L111.5,84.7 L112.0,84.6 L112.5,84.6 L113.0,84.5 L113.5,84.4 L114.0,84.5 L114.5,84.4 L115.0,84.5 L115.5,84.5 L116.0,84.4 L116.5,84.3 L117.0,84.2 L117.5,84.3 L118.0,84.2 L118.5,84.2 L119.0,84.2 L119.5,84.2 L120.0,84.2 L120.5,84.1 L121.0,84.1 L121.5,84.0 L122.0,83.9 L122.5,84.0 L123.0,84.0 L123.5,83.9 L124.0,83.9 L124.5,83.7 L125.0,83.7 L125.5,83.7 L126.0,83.6 L126.5,83.5 L127.0,83.5 L127.5,83.6 L128.0,83.5 L128.5,83.4 L129.0,83.5 L129.5,83.3 L130.0,83.2 L130.5,83.2 L131.0,83.1 L131.5,83.2 L132.0,83.1 L132.5,83.1 L133.0,82.9 L133.5,82.8 L134.0,82.7 L134.5,82.5 L135.0,82.4 L135.5,82.3 L136.0,82.3 L136.5,82.2 L137.0,82.2 L137.5,82.1 L138.0,82.0 L138.5,82.0 L139.0,82.0 L139.5,81.9 L140.0,81.8 L140.5,81.7 L141.0,81.7 L141.5,81.7 L142.0,81.8 L142.5,81.7 L143.0,81.7 L143.5,81.7 L144.0,81.5 L144.5,81.5 L145.0,81.4 L145.5,81.5 L146.0,81.5 L146.5,81.9 L147.0,82.1 L147.5,82.4 L148.0,82.7 L148.5,82.9 L149.0,83.0 L149.5,83.1 L150.0,83.5 L150.5,83.5 L151.0,83.5 L151.5,83.6 L152.0,83.8 L152.5,83.8 L153.0,83.7 L153.5,83.7 L154.0,83.7 L154.5,83.5 L155.0,83.5 L155.5,83.5 L156.0,83.6 L156.5,83.5 L157.0,83.5 L157.5,83.6 L158.0,83.6 L158.5,83.5 L159.0,83.4 L159.5,83.4 L160.0,83.4 L160.5,83.3 L161.0,83.2 L161.5,83.1 L162.0,83.1 L162.5,83.0 L163.0,82.9 L163.5,82.4 L164.0,81.7 L164.5,80.8 L165.0,79.9 L165.5,80.2 L166.0,81.0 L166.5,82.0 L167.0,82.7 L167.5,83.0 L168.0,83.0 L168.5,83.1 L169.0,83.1 L169.5,83.0 L170.0,82.6 L170.5,82.2 L171.0,82.2 L171.5,82.6 L172.0,83.3 L172.5,84.1 L173.0,84.9 L173.5,85.3 L174.0,85.7 L174.5,85.9 L175.0,86.3 L175.5,86.5 L176.0,86.6 L176.5,86.9 L177.0,87.0 L177.5,87.3 L178.0,87.4 L178.5,87.3 L179.0,86.7 L179.5,82.9 L180.0,78.4 L180.5,83.0 L181.0,86.9 L181.5,87.4 L182.0,87.5 L182.5,87.5 L183.0,87.5 L183.5,87.3 L184.0,87.1 L184.5,87.0 L185.0,86.8 L185.5,86.6 L186.0,86.4 L186.5,86.5 L187.0,86.5 L187.5,85.1 L188.0,80.0 L188.5,75.7 L189.0,80.1 L189.5,85.4 L190.0,87.8 L190.5,89.1 L191.0,90.1 L191.5,90.2 L192.0,90.3 L192.5,90.5 L193.0,90.5 L193.5,90.4 L194.0,88.3 L194.5,86.1 L195.0,89.3 L195.5,92.5 L196.0,93.2 L196.5,93.3 L197.0,93.2 L197.5,93.5 L198.0,93.4 L198.5,93.6 L199.0,93.6 L199.5,93.7 L200.0,93.8 L200.5,93.9 L201.0,93.9 L201.5,93.8 L202.0,93.6 L202.5,93.6 L203.0,93.7 L203.5,93.6 L204.0,93.6 L204.5,93.6 L205.0,93.6 L205.5,93.6 L206.0,93.5 L206.5,93.5 L207.0,93.6 L207.5,93.6 L208.0,93.6 L208.5,93.6 L209.0,93.6 L209.5,93.6 L210.0,93.7 L210.5,93.8 L211.0,93.8 L211.5,93.7 L212.0,93.7 L212.5,93.6 L213.0,93.4 L213.5,93.4 L214.0,93.4 L214.5,93.5 L215.0,93.4 L215.5,93.5 L216.0,93.5 L216.5,93.5 L217.0,93.6 L217.5,93.6 L218.0,93.7 L218.5,93.6 L219.0,93.7 L219.5,93.6 L220.0,93.4 L220.5,93.4 L221.0,93.4 L221.5,93.5 L222.0,93.6 L222.5,93.5 L223.0,93.3 L223.5,93.1 L224.0,93.0 L224.5,93.0 L225.0,93.2 L225.5,93.3 L226.0,93.4 L226.5,93.4 L227.0,93.4 L227.5,93.5 L228.0,93.5 L228.5,93.5 L229.0,93.6 L229.5,93.5 L230.0,93.6 L230.5,93.5 L231.0,93.5 L231.5,93.6 L232.0,93.6 L232.5,93.5 L233.0,93.6 L233.5,93.6 L234.0,93.5 L234.5,93.5 L235.0,93.6 L235.5,93.8 L236.0,93.7 L236.5,93.6 L237.0,93.7 L237.5,93.8 L238.0,93.7 L238.5,93.7 L239.0,93.7 L239.5,93.7 L240.0,93.7 L240.5,93.5 L241.0,93.6 L241.5,93.4 L242.0,93.5 L242.5,93.5 L243.0,93.5 L243.5,93.4 L244.0,93.1 L244.5,92.9 L245.0,92.7 L245.5,92.7 L246.0,93.1 L246.5,93.3 L247.0,93.3 L247.5,93.4 L248.0,93.4 L248.5,93.4 L249.0,93.4 L249.5,93.4 L250.0,93.5 L250.5,93.5 L251.0,93.4 L251.5,93.6 L252.0,93.6 L252.5,93.6 L253.0,93.7 L253.5,93.6 L254.0,93.6 L254.5,93.5 L255.0,93.6 L255.5,93.6 L256.0,93.6 L256.5,93.6 L257.0,93.6 L257.5,93.6 L258.0,93.5 L258.5,93.4 L259.0,93.2 L259.5,93.1 L260.0,93.0 L260.5,92.9 L261.0,93.1 L261.5,93.3 L262.0,93.4 L262.5,93.3 L263.0,93.4 L263.5,93.4 L264.0,93.4 L264.5,93.3 L265.0,93.4 L265.5,93.5 L266.0,93.5 L266.5,93.5 L267.0,93.5 L267.5,93.4 L268.0,93.4 L268.5,93.5 L269.0,93.5 L269.5,93.5 L270.0,93.5 L270.5,93.6 L271.0,93.7 L271.5,93.7 L272.0,93.7 L272.5,93.6 L273.0,93.5 L273.5,93.4 L274.0,93.5 L274.5,93.4 L275.0,93.4 L275.5,93.4 L276.0,93.5 L276.5,93.6 L277.0,93.4 L277.5,93.4 L278.0,93.4 L278.5,93.5 L279.0,93.5 L279.5,93.4 L280.0,93.5 L280.5,93.4 L281.0,93.5 L281.5,93.5 L282.0,93.5 L282.5,93.0 L283.0,91.1 L283.5,89.5 L284.0,91.0 L284.5,92.8 L285.0,93.4 L285.5,93.4 L286.0,93.5 L286.5,93.5 L287.0,93.6 L287.5,93.7 L288.0,93.7 L288.5,93.7 L289.0,93.7 L289.5,93.7 L290.0,93.6 L290.5,93.5 L291.0,93.4 L291.5,93.5 L292.0,93.5 L292.5,93.5 L293.0,93.6 L293.5,93.5 L294.0,93.5 L294.5,93.5 L295.0,93.4 L295.5,92.9 L296.0,91.3 L296.5,88.8 L297.0,87.5 L297.5,88.8 L298.0,91.7 L298.5,93.7 L299.0,94.6 L299.5,94.7 L300.0,94.8 L300.5,94.8 L301.0,94.8 L301.5,94.8 L302.0,94.9 L302.5,94.9 L303.0,94.8 L303.5,94.9 L304.0,94.8 L304.5,94.8 L305.0,94.9 L305.5,94.9 L306.0,94.9 L306.5,95.0 L307.0,94.9 L307.5,94.9 L308.0,94.9 L308.5,95.0 L309.0,95.0 L309.5,94.9 L310.0,95.0 L310.5,95.0 L311.0,95.0 L311.5,95.0 L312.0,94.9 L312.5,95.0 L313.0,95.1 L313.5,95.1 L314.0,95.1 L314.5,95.0 L315.0,95.1 L315.5,95.1 L316.0,94.8 L316.5,94.2 L317.0,91.7 L317.5,89.8 L318.0,91.6 L318.5,94.1 L319.0,94.8 L319.5,94.9 L320.0,94.9" fill="none" stroke="#ff7f00" stroke-width="1.6" stroke-linejoin="round" />
<rect x="30.10" y="1.60" width="290.50" height="226.00" fill="none" stroke="#000" stroke-width="1.6"/>
<line x1="30.10" y1="227.60" x2="30.10" y2="223.60" stroke="#000" stroke-width="1.3" />
<text x="29.30" y="241.00" font-size="11" text-anchor="middle"  stroke="#000" stroke-width="0.22">1100</text>
<line x1="59.15" y1="227.60" x2="59.15" y2="225.10" stroke="#000" stroke-width="1.1" />
<line x1="88.20" y1="227.60" x2="88.20" y2="223.60" stroke="#000" stroke-width="1.3" />
<text x="87.40" y="241.00" font-size="11" text-anchor="middle"  stroke="#000" stroke-width="0.22">880</text>
<line x1="117.25" y1="227.60" x2="117.25" y2="225.10" stroke="#000" stroke-width="1.1" />
<line x1="146.30" y1="227.60" x2="146.30" y2="223.60" stroke="#000" stroke-width="1.3" />
<text x="145.50" y="241.00" font-size="11" text-anchor="middle"  stroke="#000" stroke-width="0.22">660</text>
<line x1="175.35" y1="227.60" x2="175.35" y2="225.10" stroke="#000" stroke-width="1.1" />
<line x1="204.40" y1="227.60" x2="204.40" y2="223.60" stroke="#000" stroke-width="1.3" />
<text x="203.60" y="241.00" font-size="11" text-anchor="middle"  stroke="#000" stroke-width="0.22">440</text>
<line x1="233.45" y1="227.60" x2="233.45" y2="225.10" stroke="#000" stroke-width="1.1" />
<line x1="262.50" y1="227.60" x2="262.50" y2="223.60" stroke="#000" stroke-width="1.3" />
<text x="261.70" y="241.00" font-size="11" text-anchor="middle"  stroke="#000" stroke-width="0.22">220</text>
<line x1="291.55" y1="227.60" x2="291.55" y2="225.10" stroke="#000" stroke-width="1.1" />
<line x1="320.60" y1="227.60" x2="320.60" y2="223.60" stroke="#000" stroke-width="1.3" />
<text x="319.80" y="241.00" font-size="11" text-anchor="middle"  stroke="#000" stroke-width="0.22">0</text>
<text x="5.80" y="15.80" font-size="17.5" text-anchor="start" >a</text>
<text x="316.80" y="13.80" font-size="11" text-anchor="end"  stroke="#000" stroke-width="0.22">Survey</text>
<text transform="translate(41.90,53.00) rotate(-90)" font-size="11" text-anchor="start" stroke="#000" stroke-width="0.22">Zn(2p<tspan font-size="7.2" dy="3.2">1/2</tspan><tspan dy="-3.2">)</tspan></text>
<text transform="translate(55.80,46.20) rotate(-90)" font-size="11" text-anchor="start" stroke="#000" stroke-width="0.22">Zn(2p<tspan font-size="7.2" dy="3.2">3/2</tspan><tspan dy="-3.2">)</tspan></text>
<text transform="translate(68.00,80.60) rotate(-90)" font-size="11" text-anchor="start" stroke="#000" stroke-width="0.22">O(KLL)</text>
<text transform="translate(169.30,72.50) rotate(-90)" font-size="11" text-anchor="start" stroke="#000" stroke-width="0.22">Zn(LMM)</text>
<text transform="translate(179.00,73.80) rotate(-90)" font-size="11" text-anchor="start" stroke="#000" stroke-width="0.22">O(1s)</text>
<text transform="translate(192.00,69.00) rotate(-90)" font-size="11" text-anchor="start" stroke="#000" stroke-width="0.22">Zn(LMM)</text>
<text transform="translate(202.00,79.20) rotate(-90)" font-size="11" text-anchor="start" stroke="#000" stroke-width="0.22">Zn(LMM)</text>
<text transform="translate(226.10,85.90) rotate(-90)" font-size="11" text-anchor="start" stroke="#000" stroke-width="0.22">Ag(3d)</text>
<text transform="translate(248.40,85.80) rotate(-90)" font-size="11" text-anchor="start" stroke="#000" stroke-width="0.22">C(1s)</text>
<text transform="translate(286.50,84.40) rotate(-90)" font-size="11" text-anchor="start" stroke="#000" stroke-width="0.22">Zn(3s)</text>
<text transform="translate(301.00,83.40) rotate(-90)" font-size="11" text-anchor="start" stroke="#000" stroke-width="0.22">Zn(3p)</text>
<text transform="translate(315.70,84.40) rotate(-90)" font-size="11" text-anchor="start" stroke="#000" stroke-width="0.22">Zn(3d)</text>
<text x="316.30" y="106.90" font-size="11" text-anchor="end"  stroke="#000" stroke-width="0.22">ZnO@Ag8%</text>
<text x="316.30" y="139.50" font-size="11" text-anchor="end"  stroke="#000" stroke-width="0.22">ZnO@Ag6%</text>
<text x="316.30" y="169.90" font-size="11" text-anchor="end"  stroke="#000" stroke-width="0.22">ZnO@Ag4%</text>
<text x="316.30" y="199.00" font-size="11" text-anchor="end"  stroke="#000" stroke-width="0.22">ZnO@Ag2%</text>
<text x="316.30" y="221.80" font-size="11" text-anchor="end"  stroke="#000" stroke-width="0.22">ZnO</text>
<text x="176.90" y="264.20" font-size="16.5" text-anchor="middle" >Binding Energy (eV)</text>
<text transform="translate(11.60,109.30) rotate(-90)" font-size="16.5" text-anchor="middle">Intensity (a.u.)</text>
<path d="M366.6,36.8 L367.6,36.8 L368.6,36.7 L369.6,36.7 L370.6,36.6 L371.6,36.5 L372.6,36.8 L373.6,36.5 L374.6,36.6 L375.6,36.7 L376.6,36.4 L377.6,36.6 L378.6,36.7 L379.6,36.5 L380.6,36.6 L381.6,36.4 L382.6,36.3 L383.6,36.4 L384.6,36.3 L385.6,36.5 L386.6,36.4 L387.6,36.5 L388.6,36.5 L389.6,36.4 L390.6,36.3 L391.6,36.0 L392.6,35.7 L393.6,35.5 L394.6,35.4 L395.6,35.3 L396.6,35.1 L397.6,34.5 L398.6,33.6 L399.6,32.6 L400.6,31.4 L401.6,30.4 L402.6,29.3 L403.6,27.8 L404.6,26.4 L405.6,25.0 L406.6,23.6 L407.6,22.6 L408.6,21.9 L409.6,21.2 L410.6,21.1 L411.6,21.4 L412.6,21.8 L413.6,23.0 L414.6,24.1 L415.6,25.5 L416.6,27.0 L417.6,28.4 L418.6,29.8 L419.6,31.1 L420.6,32.0 L421.6,32.9 L422.6,33.5 L423.6,34.2 L424.6,35.0 L425.6,35.4 L426.6,36.1 L427.6,36.4 L428.6,36.7 L429.6,36.8 L430.6,36.7 L431.6,36.9 L432.6,37.0 L433.6,36.9 L434.6,37.1 L435.6,37.1 L436.6,37.1 L437.6,37.4 L438.6,37.2 L439.6,37.0 L440.6,37.1 L441.6,37.1 L442.6,37.1 L443.6,37.3 L444.6,37.1 L445.6,36.9 L446.6,36.8 L447.6,36.6 L448.6,36.7 L449.6,36.9 L450.6,37.2 L451.6,37.4 L452.6,37.5 L453.6,37.2 L454.6,37.3 L455.6,37.1 L456.6,37.0 L457.6,37.1 L458.6,37.2 L459.6,37.3 L460.6,37.2 L461.6,37.3 L462.6,37.5 L463.6,37.4 L464.6,37.4 L465.6,37.5 L466.6,37.4 L467.6,37.6 L468.6,37.6 L469.6,37.7 L470.6,37.6 L471.6,37.4 L472.6,37.5 L473.6,37.4 L474.6,37.5 L475.6,37.8 L476.6,37.8 L477.6,38.0 L478.6,37.9 L479.6,37.9 L480.6,37.8 L481.6,37.5 L482.6,37.6 L483.6,37.4 L484.6,37.5 L485.6,37.7 L486.6,37.5 L487.6,37.6 L488.6,37.8 L489.6,37.6 L490.6,37.7 L491.6,38.1 L492.6,37.9 L493.6,38.2 L494.6,38.2 L495.6,38.2 L496.6,38.0 L497.6,38.0 L498.6,38.0 L499.6,37.8 L500.6,38.0 L501.6,38.1 L502.6,38.0 L503.6,38.0 L504.6,37.9 L505.6,37.8 L506.6,37.8 L507.6,37.8 L508.6,37.7 L509.6,38.0 L510.6,38.0 L511.6,37.9 L512.6,38.1 L513.6,37.9 L514.6,38.0 L515.6,38.1 L516.6,38.0 L517.6,38.1 L518.6,38.0 L519.6,38.0 L520.6,38.3 L521.6,38.0 L522.6,38.1 L523.6,38.1 L524.6,37.8 L525.6,37.9 L526.6,38.1 L527.6,38.0 L528.6,38.4 L529.6,38.6 L530.6,38.4 L531.6,38.5 L532.6,38.3 L533.6,38.4 L534.6,38.5 L535.6,38.4 L536.6,38.4 L537.6,38.4 L538.6,38.5 L539.6,38.3 L540.6,38.3 L541.6,38.1 L542.6,38.0 L543.6,38.1 L544.6,38.0 L545.6,38.0 L546.6,38.1 L547.6,38.2 L548.6,38.4 L549.6,38.6 L550.6,38.6 L551.6,38.8 L552.6,38.9 L553.6,38.8 L554.6,38.7 L555.6,38.0 L556.6,37.9 L557.6,37.9 L558.6,38.2 L559.6,38.3 L560.6,38.6 L561.6,38.5 L562.6,38.4 L563.6,38.2 L564.6,38.0 L565.6,38.0 L566.6,38.0 L567.6,38.3 L568.6,38.2 L569.6,38.3 L570.6,38.3 L571.6,38.4 L572.6,38.6 L573.6,38.6 L574.6,38.5 L575.6,38.3 L576.6,38.0 L577.6,38.0 L578.6,38.1 L579.6,38.2 L580.6,38.3 L581.6,38.1 L582.6,38.0 L583.6,37.9 L584.6,37.9 L585.6,38.1 L586.6,38.1 L587.6,38.0 L588.6,37.9 L589.6,37.5 L590.6,37.4 L591.6,37.5 L592.6,37.5 L593.6,37.5 L594.6,37.1 L595.6,36.7 L596.6,36.5 L597.6,36.1 L598.6,35.9 L599.6,35.1 L600.6,34.0 L601.6,32.8 L602.6,30.9 L603.6,28.8 L604.6,26.4 L605.6,23.7 L606.6,20.8 L607.6,17.8 L608.6,14.8 L609.6,11.8 L610.6,9.0 L611.6,6.9 L612.6,5.4 L613.6,5.0 L614.6,5.8 L615.6,7.6 L616.6,10.1 L617.6,13.0 L618.6,15.9 L619.6,19.0 L620.6,22.2 L621.6,25.1 L622.6,28.0 L623.6,30.2 L624.6,32.1 L625.6,33.7 L626.6,34.8 L627.6,35.6 L628.6,36.2 L629.6,36.6 L630.6,36.8 L631.6,37.2 L632.6,37.6 L633.6,37.7 L634.6,38.2 L635.6,38.2 L636.6,38.2 L637.6,38.3 L638.6,38.1 L639.6,38.2 L640.6,38.3 L641.6,38.6 L642.6,38.8 L643.6,38.9 L644.6,38.9 L645.6,38.6 L646.6,38.5 L647.6,38.4 L648.6,38.6 L649.6,38.8 L650.6,39.0 L651.6,39.2 L652.6,39.2 L653.6,39.3 L654.6,39.1 L655.6,39.1 L656.6,39.2 L657.6,39.1 L658.6,39.1 L659.6,39.4 L660.6,39.3 L661.6,39.4 L662.6,39.2 L663.6,38.8 L664.6,39.0 L665.6,39.0 L666.6,39.1 L667.6,39.5 L668.6,39.7 L669.6,39.6 L670.6,39.7 L671.6,39.5" fill="none" stroke="#ff7f00" stroke-width="1.9" stroke-linejoin="round" />
<path d="M396.6,34.4 L397.6,33.9 L398.6,33.1 L399.6,32.3 L400.6,31.3 L401.6,30.2 L402.6,28.9 L403.6,27.6 L404.6,26.2 L405.6,24.8 L406.6,23.5 L407.6,22.4 L408.6,21.5 L409.6,21.1 L410.6,21.0 L411.6,21.3 L412.6,22.1 L413.6,23.1 L414.6,24.3 L415.6,25.7 L416.6,27.1 L417.6,28.5 L418.6,29.8 L419.6,31.0 L420.6,32.1 L421.6,33.0 L422.6,33.8 L423.6,34.4 L424.6,35.0 L424.6,37.0 L396.6,36.7 Z" fill="url(#gG)"/>
<path d="M596.6,36.5 L597.6,36.0 L598.6,35.4 L599.6,34.7 L600.6,33.7 L601.6,32.4 L602.6,30.8 L603.6,28.8 L604.6,26.5 L605.6,23.9 L606.6,21.0 L607.6,17.8 L608.6,14.6 L609.6,11.5 L610.6,8.7 L611.6,6.5 L612.6,5.2 L613.6,4.8 L614.6,5.6 L615.6,7.3 L616.6,9.8 L617.6,12.8 L618.6,16.0 L619.6,19.2 L620.6,22.3 L621.6,25.1 L622.6,27.7 L623.6,29.8 L624.6,31.6 L625.6,33.1 L626.6,34.3 L627.6,35.2 L628.6,35.9 L629.6,36.5 L629.6,38.6 L596.6,38.4 Z" fill="url(#gR)"/>
<path d="M366.6,83.5 L367.6,83.5 L368.6,83.5 L369.6,83.5 L370.6,83.5 L371.6,83.5 L372.6,83.5 L373.6,83.5 L374.6,83.5 L375.6,83.5 L376.6,83.5 L377.6,83.5 L378.6,83.5 L379.6,83.6 L380.6,83.6 L381.6,83.6 L382.6,83.6 L383.6,83.6 L384.6,83.6 L385.6,83.6 L386.6,83.6 L387.6,83.6 L388.6,83.6 L389.6,83.6 L390.6,83.6 L391.6,83.6 L392.6,83.6 L393.6,83.6 L394.6,83.6 L395.6,83.6 L396.6,83.6 L397.6,83.6 L398.6,83.6 L399.6,83.6 L400.6,83.6 L401.6,83.6 L402.6,83.6 L403.6,83.6 L404.6,83.7 L405.6,83.7 L406.6,83.7 L407.6,83.7 L408.6,83.7 L409.6,83.7 L410.6,83.7 L411.6,83.7 L412.6,83.7 L413.6,83.7 L414.6,83.7 L415.6,83.7 L416.6,83.7 L417.6,83.7 L418.6,83.7 L419.6,83.7 L420.6,83.7 L421.6,83.7 L422.6,83.7 L423.6,83.7 L424.6,83.7 L425.6,83.7 L426.6,83.7 L427.6,83.7 L428.6,83.7 L429.6,83.7 L430.6,83.8 L431.6,83.8 L432.6,83.8 L433.6,83.8 L434.6,83.8 L435.6,83.8 L436.6,83.8 L437.6,83.8 L438.6,83.8 L439.6,83.8 L440.6,83.8 L441.6,83.8 L442.6,83.8 L443.6,83.8 L444.6,83.8 L445.6,83.8 L446.6,83.8 L447.6,83.8 L448.6,83.8 L449.6,83.8 L450.6,83.8 L451.6,83.8 L452.6,83.8 L453.6,83.8 L454.6,83.8 L455.6,83.9 L456.6,83.9 L457.6,83.9 L458.6,83.9 L459.6,83.9 L460.6,83.9 L461.6,83.9 L462.6,83.9 L463.6,83.9 L464.6,83.9 L465.6,83.9 L466.6,83.9 L467.6,83.9 L468.6,83.9 L469.6,83.9 L470.6,83.9 L471.6,83.9 L472.6,83.9 L473.6,83.9 L474.6,83.9 L475.6,83.9 L476.6,83.9 L477.6,83.9 L478.6,83.9 L479.6,83.9 L480.6,83.9 L481.6,84.0 L482.6,84.0 L483.6,84.0 L484.6,84.0 L485.6,84.0 L486.6,84.0 L487.6,84.0 L488.6,84.0 L489.6,84.0 L490.6,84.0 L491.6,84.0 L492.6,84.0 L493.6,84.0 L494.6,84.0 L495.6,84.0 L496.6,84.0 L497.6,84.0 L498.6,84.0 L499.6,84.0 L500.6,84.0 L501.6,84.0 L502.6,84.0 L503.6,84.0 L504.6,84.0 L505.6,84.0 L506.6,84.0 L507.6,84.1 L508.6,84.1 L509.6,84.1 L510.6,84.1 L511.6,84.1 L512.6,84.1 L513.6,84.1 L514.6,84.1 L515.6,84.1 L516.6,84.1 L517.6,84.1 L518.6,84.1 L519.6,84.1 L520.6,84.1 L521.6,84.1 L522.6,84.1 L523.6,84.1 L524.6,84.1 L525.6,84.1 L526.6,84.1 L527.6,84.1 L528.6,84.1 L529.6,84.1 L530.6,84.1 L531.6,84.1 L532.6,84.2 L533.6,84.2 L534.6,84.2 L535.6,84.2 L536.6,84.2 L537.6,84.2 L538.6,84.2 L539.6,84.2 L540.6,84.2 L541.6,84.2 L542.6,84.2 L543.6,84.2 L544.6,84.2 L545.6,84.2 L546.6,84.2 L547.6,84.2 L548.6,84.2 L549.6,84.2 L550.6,84.2 L551.6,84.2 L552.6,84.2 L553.6,84.2 L554.6,84.2 L555.6,84.2 L556.6,84.2 L557.6,84.2 L558.6,84.3 L559.6,84.3 L560.6,84.3 L561.6,84.3 L562.6,84.3 L563.6,84.3 L564.6,84.3 L565.6,84.3 L566.6,84.3 L567.6,84.3 L568.6,84.3 L569.6,84.3 L570.6,84.3 L571.6,84.3 L572.6,84.3 L573.6,84.3 L574.6,84.3 L575.6,84.3 L576.6,84.3 L577.6,84.3 L578.6,84.3 L579.6,84.3 L580.6,84.3 L581.6,84.3 L582.6,84.3 L583.6,84.4 L584.6,84.4 L585.6,84.4 L586.6,84.4 L587.6,84.4 L588.6,84.4 L589.6,84.4 L590.6,84.4 L591.6,84.4 L592.6,84.4 L593.6,84.4 L594.6,84.4 L595.6,84.4 L596.6,84.4 L597.6,84.4 L598.6,84.4 L599.6,84.4 L600.6,84.4 L601.6,84.4 L602.6,84.4 L603.6,84.4 L604.6,84.4 L605.6,84.4 L606.6,84.4 L607.6,84.4 L608.6,84.4 L609.6,84.5 L610.6,84.5 L611.6,84.5 L612.6,84.5 L613.6,84.5 L614.6,84.5 L615.6,84.5 L616.6,84.5 L617.6,84.5 L618.6,84.5 L619.6,84.5 L620.6,84.5 L621.6,84.5 L622.6,84.5 L623.6,84.5 L624.6,84.5 L625.6,84.5 L626.6,84.5 L627.6,84.5 L628.6,84.5 L629.6,84.5 L630.6,84.5 L631.6,84.5 L632.6,84.5 L633.6,84.5 L634.6,84.6 L635.6,84.6 L636.6,84.6 L637.6,84.6 L638.6,84.6 L639.6,84.6 L640.6,84.6 L641.6,84.6 L642.6,84.6 L643.6,84.6 L644.6,84.6 L645.6,84.6 L646.6,84.6 L647.6,84.6 L648.6,84.6 L649.6,84.6 L650.6,84.6 L651.6,84.6 L652.6,84.6 L653.6,84.6 L654.6,84.6 L655.6,84.6 L656.6,84.6 L657.6,84.6 L658.6,84.6 L659.6,84.6 L660.6,84.7 L661.6,84.7 L662.6,84.7 L663.6,84.7 L664.6,84.7 L665.6,84.7 L666.6,84.7 L667.6,84.7 L668.6,84.7 L669.6,84.7 L670.6,84.7 L671.6,84.7" fill="none" stroke="#7fe000" stroke-width="1.2" stroke-linejoin="round" />
<path d="M366.6,82.5 L367.6,82.6 L368.6,82.6 L369.6,82.7 L370.6,82.7 L371.6,82.7 L372.6,82.8 L373.6,82.7 L374.6,82.7 L375.6,82.7 L376.6,82.7 L377.6,82.7 L378.6,82.6 L379.6,82.4 L380.6,82.2 L381.6,82.0 L382.6,82.0 L383.6,82.1 L384.6,81.9 L385.6,81.9 L386.6,82.0 L387.6,81.9 L388.6,81.9 L389.6,82.0 L390.6,81.7 L391.6,81.4 L392.6,81.2 L393.6,80.8 L394.6,80.7 L395.6,80.5 L396.6,80.1 L397.6,79.3 L398.6,78.4 L399.6,77.2 L400.6,76.1 L401.6,74.9 L402.6,73.7 L403.6,72.5 L404.6,71.1 L405.6,70.0 L406.6,68.7 L407.6,67.5 L408.6,66.8 L409.6,66.6 L410.6,66.9 L411.6,67.6 L412.6,68.6 L413.6,69.6 L414.6,71.0 L415.6,72.4 L416.6,73.6 L417.6,75.1 L418.6,76.1 L419.6,77.0 L420.6,77.9 L421.6,78.7 L422.6,79.5 L423.6,80.1 L424.6,80.7 L425.6,81.2 L426.6,81.5 L427.6,81.6 L428.6,82.0 L429.6,82.1 L430.6,82.3 L431.6,82.3 L432.6,82.2 L433.6,82.1 L434.6,82.1 L435.6,82.6 L436.6,82.5 L437.6,82.6 L438.6,82.5 L439.6,82.5 L440.6,82.7 L441.6,82.7 L442.6,82.8 L443.6,82.5 L444.6,82.4 L445.6,82.2 L446.6,82.2 L447.6,82.5 L448.6,82.8 L449.6,82.9 L450.6,82.9 L451.6,82.8 L452.6,82.6 L453.6,82.7 L454.6,82.9 L455.6,82.9 L456.6,83.0 L457.6,82.6 L458.6,82.5 L459.6,82.3 L460.6,82.4 L461.6,82.7 L462.6,82.7 L463.6,82.8 L464.6,82.9 L465.6,82.8 L466.6,82.8 L467.6,82.8 L468.6,82.6 L469.6,82.6 L470.6,82.8 L471.6,83.0 L472.6,82.9 L473.6,83.0 L474.6,82.9 L475.6,82.7 L476.6,82.9 L477.6,82.9 L478.6,83.0 L479.6,82.9 L480.6,83.0 L481.6,83.0 L482.6,82.9 L483.6,82.9 L484.6,83.1 L485.6,83.1 L486.6,83.1 L487.6,83.1 L488.6,82.9 L489.6,82.8 L490.6,82.7 L491.6,82.7 L492.6,82.7 L493.6,82.7 L494.6,82.9 L495.6,82.9 L496.6,82.8 L497.6,83.1 L498.6,83.1 L499.6,83.0 L500.6,83.3 L501.6,83.2 L502.6,83.1 L503.6,83.4 L504.6,83.1 L505.6,83.1 L506.6,83.3 L507.6,82.9 L508.6,83.0 L509.6,83.1 L510.6,83.3 L511.6,83.3 L512.6,83.3 L513.6,83.3 L514.6,83.1 L515.6,83.0 L516.6,83.1 L517.6,83.0 L518.6,83.1 L519.6,83.3 L520.6,83.4 L521.6,83.5 L522.6,83.4 L523.6,83.2 L524.6,83.1 L525.6,83.0 L526.6,83.0 L527.6,83.1 L528.6,83.0 L529.6,83.2 L530.6,83.5 L531.6,83.4 L532.6,83.6 L533.6,83.4 L534.6,83.3 L535.6,83.4 L536.6,83.3 L537.6,83.3 L538.6,83.2 L539.6,83.0 L540.6,83.1 L541.6,83.1 L542.6,83.1 L543.6,83.2 L544.6,83.3 L545.6,83.4 L546.6,83.4 L547.6,83.3 L548.6,83.2 L549.6,83.2 L550.6,83.1 L551.6,83.2 L552.6,83.3 L553.6,83.1 L554.6,83.1 L555.6,82.9 L556.6,82.9 L557.6,82.9 L558.6,82.8 L559.6,82.8 L560.6,82.8 L561.6,82.9 L562.6,83.0 L563.6,83.1 L564.6,82.7 L565.6,82.8 L566.6,82.9 L567.6,82.9 L568.6,83.2 L569.6,83.2 L570.6,83.1 L571.6,83.1 L572.6,83.0 L573.6,83.2 L574.6,83.3 L575.6,83.3 L576.6,83.2 L577.6,82.9 L578.6,83.0 L579.6,82.8 L580.6,82.7 L581.6,82.8 L582.6,82.5 L583.6,82.9 L584.6,82.7 L585.6,82.7 L586.6,82.7 L587.6,82.3 L588.6,82.5 L589.6,82.4 L590.6,82.4 L591.6,82.3 L592.6,82.1 L593.6,81.9 L594.6,81.7 L595.6,81.5 L596.6,81.0 L597.6,80.5 L598.6,79.6 L599.6,78.8 L600.6,77.9 L601.6,76.1 L602.6,74.3 L603.6,72.2 L604.6,69.8 L605.6,66.8 L606.6,63.8 L607.6,60.7 L608.6,57.5 L609.6,54.9 L610.6,52.9 L611.6,51.3 L612.6,50.9 L613.6,51.6 L614.6,53.1 L615.6,55.4 L616.6,58.2 L617.6,61.2 L618.6,64.3 L619.6,67.3 L620.6,70.2 L621.6,72.8 L622.6,74.9 L623.6,76.7 L624.6,78.1 L625.6,79.3 L626.6,80.3 L627.6,81.1 L628.6,81.7 L629.6,82.0 L630.6,82.2 L631.6,82.3 L632.6,82.4 L633.6,82.5 L634.6,82.5 L635.6,82.3 L636.6,82.4 L637.6,82.6 L638.6,82.9 L639.6,83.0 L640.6,83.1 L641.6,83.0 L642.6,83.0 L643.6,83.3 L644.6,83.1 L645.6,83.1 L646.6,82.9 L647.6,82.8 L648.6,82.7 L649.6,82.8 L650.6,83.1 L651.6,83.3 L652.6,83.6 L653.6,83.5 L654.6,83.5 L655.6,83.4 L656.6,83.4 L657.6,83.6 L658.6,83.4 L659.6,83.5 L660.6,83.4 L661.6,83.4 L662.6,83.6 L663.6,83.8 L664.6,83.8 L665.6,83.8 L666.6,83.4 L667.6,83.2 L668.6,83.2 L669.6,83.1 L670.6,83.3 L671.6,83.4" fill="none" stroke="#bf9500" stroke-width="1.9" stroke-linejoin="round" />
<path d="M395.6,80.3 L396.6,79.8 L397.6,79.1 L398.6,78.3 L399.6,77.4 L400.6,76.4 L401.6,75.2 L402.6,73.9 L403.6,72.5 L404.6,71.2 L405.6,69.8 L406.6,68.6 L407.6,67.6 L408.6,67.0 L409.6,66.7 L410.6,66.8 L411.6,67.3 L412.6,68.2 L413.6,69.4 L414.6,70.7 L415.6,72.0 L416.6,73.4 L417.6,74.7 L418.6,76.0 L419.6,77.1 L420.6,78.1 L421.6,78.9 L422.6,79.6 L423.6,80.2 L423.6,82.4 L395.6,82.3 Z" fill="url(#gG)"/>
<path d="M596.6,80.9 L597.6,80.4 L598.6,79.6 L599.6,78.7 L600.6,77.5 L601.6,76.0 L602.6,74.2 L603.6,72.0 L604.6,69.5 L605.6,66.7 L606.6,63.7 L607.6,60.6 L608.6,57.6 L609.6,54.9 L610.6,52.8 L611.6,51.4 L612.6,51.0 L613.6,51.6 L614.6,53.2 L615.6,55.5 L616.6,58.2 L617.6,61.3 L618.6,64.4 L619.6,67.3 L620.6,70.1 L621.6,72.5 L622.6,74.6 L623.6,76.4 L624.6,77.9 L625.6,79.0 L626.6,79.9 L627.6,80.6 L628.6,81.1 L628.6,83.2 L596.6,83.1 Z" fill="url(#gR)"/>
<line x1="365.20" y1="45.92" x2="672.90" y2="45.92" stroke="#000" stroke-width="1.6" />
<path d="M366.6,127.1 L367.6,127.1 L368.6,127.0 L369.6,127.0 L370.6,126.9 L371.6,126.9 L372.6,127.2 L373.6,127.1 L374.6,127.4 L375.6,127.4 L376.6,127.0 L377.6,127.0 L378.6,127.0 L379.6,126.9 L380.6,127.0 L381.6,127.2 L382.6,127.2 L383.6,127.2 L384.6,127.0 L385.6,126.6 L386.6,126.6 L387.6,126.8 L388.6,127.0 L389.6,127.0 L390.6,126.7 L391.6,126.5 L392.6,126.3 L393.6,126.1 L394.6,126.1 L395.6,125.8 L396.6,125.5 L397.6,125.0 L398.6,124.2 L399.6,123.4 L400.6,122.6 L401.6,121.7 L402.6,120.8 L403.6,119.5 L404.6,118.3 L405.6,117.0 L406.6,115.7 L407.6,114.4 L408.6,113.2 L409.6,112.4 L410.6,111.8 L411.6,111.7 L412.6,112.0 L413.6,112.9 L414.6,114.0 L415.6,115.5 L416.6,116.9 L417.6,118.1 L418.6,119.2 L419.6,120.3 L420.6,121.6 L421.6,122.7 L422.6,123.8 L423.6,124.7 L424.6,125.2 L425.6,125.7 L426.6,126.0 L427.6,126.3 L428.6,126.7 L429.6,126.9 L430.6,127.1 L431.6,127.1 L432.6,127.1 L433.6,127.0 L434.6,127.2 L435.6,127.1 L436.6,127.1 L437.6,127.5 L438.6,127.4 L439.6,127.6 L440.6,127.6 L441.6,127.5 L442.6,127.6 L443.6,127.8 L444.6,127.8 L445.6,127.7 L446.6,128.1 L447.6,128.0 L448.6,128.0 L449.6,128.0 L450.6,127.7 L451.6,127.8 L452.6,127.9 L453.6,128.0 L454.6,127.8 L455.6,127.8 L456.6,127.7 L457.6,127.7 L458.6,127.7 L459.6,127.6 L460.6,127.6 L461.6,127.6 L462.6,127.6 L463.6,127.7 L464.6,127.8 L465.6,127.7 L466.6,127.8 L467.6,127.7 L468.6,127.8 L469.6,127.7 L470.6,127.7 L471.6,127.6 L472.6,127.5 L473.6,127.9 L474.6,127.9 L475.6,128.1 L476.6,128.0 L477.6,128.2 L478.6,128.4 L479.6,128.5 L480.6,128.4 L481.6,128.1 L482.6,128.1 L483.6,128.0 L484.6,128.1 L485.6,128.3 L486.6,128.0 L487.6,128.2 L488.6,128.2 L489.6,128.2 L490.6,128.3 L491.6,128.3 L492.6,128.2 L493.6,128.3 L494.6,128.5 L495.6,128.5 L496.6,128.7 L497.6,128.6 L498.6,128.2 L499.6,128.2 L500.6,128.1 L501.6,128.1 L502.6,128.4 L503.6,128.1 L504.6,128.1 L505.6,128.2 L506.6,128.4 L507.6,128.5 L508.6,128.4 L509.6,128.5 L510.6,128.3 L511.6,128.6 L512.6,128.7 L513.6,128.5 L514.6,128.7 L515.6,128.6 L516.6,128.5 L517.6,128.8 L518.6,128.6 L519.6,128.6 L520.6,128.7 L521.6,128.4 L522.6,128.5 L523.6,128.4 L524.6,128.7 L525.6,129.1 L526.6,129.1 L527.6,129.0 L528.6,128.7 L529.6,128.5 L530.6,128.3 L531.6,128.3 L532.6,128.1 L533.6,128.2 L534.6,128.3 L535.6,128.6 L536.6,129.0 L537.6,128.9 L538.6,129.0 L539.6,128.5 L540.6,128.4 L541.6,128.3 L542.6,128.4 L543.6,128.6 L544.6,128.5 L545.6,128.7 L546.6,128.7 L547.6,128.7 L548.6,128.8 L549.6,128.8 L550.6,128.6 L551.6,128.5 L552.6,128.6 L553.6,128.6 L554.6,128.6 L555.6,128.7 L556.6,128.5 L557.6,128.7 L558.6,128.8 L559.6,128.8 L560.6,129.1 L561.6,129.1 L562.6,129.1 L563.6,128.9 L564.6,128.7 L565.6,128.7 L566.6,128.7 L567.6,129.0 L568.6,129.3 L569.6,129.3 L570.6,129.1 L571.6,129.1 L572.6,128.8 L573.6,128.8 L574.6,128.6 L575.6,128.6 L576.6,128.5 L577.6,128.5 L578.6,128.5 L579.6,128.5 L580.6,128.5 L581.6,128.5 L582.6,128.4 L583.6,128.2 L584.6,128.4 L585.6,128.2 L586.6,128.4 L587.6,128.3 L588.6,127.9 L589.6,128.0 L590.6,127.9 L591.6,127.8 L592.6,128.0 L593.6,127.8 L594.6,127.5 L595.6,127.4 L596.6,127.0 L597.6,127.0 L598.6,126.5 L599.6,126.0 L600.6,125.4 L601.6,123.9 L602.6,122.6 L603.6,120.9 L604.6,118.8 L605.6,116.8 L606.6,114.5 L607.6,111.5 L608.6,108.3 L609.6,104.8 L610.6,101.8 L611.6,99.1 L612.6,97.3 L613.6,96.5 L614.6,96.2 L615.6,97.4 L616.6,99.4 L617.6,102.0 L618.6,104.9 L619.6,107.8 L620.6,110.7 L621.6,113.6 L622.6,116.3 L623.6,118.7 L624.6,120.9 L625.6,122.7 L626.6,124.1 L627.6,125.3 L628.6,126.1 L629.6,126.4 L630.6,126.9 L631.6,127.1 L632.6,127.5 L633.6,128.0 L634.6,128.2 L635.6,128.3 L636.6,128.4 L637.6,128.5 L638.6,128.5 L639.6,128.6 L640.6,128.6 L641.6,128.7 L642.6,128.6 L643.6,128.8 L644.6,128.7 L645.6,128.9 L646.6,129.1 L647.6,129.2 L648.6,129.5 L649.6,129.4 L650.6,129.4 L651.6,129.1 L652.6,129.2 L653.6,129.4 L654.6,129.6 L655.6,129.7 L656.6,129.3 L657.6,129.4 L658.6,129.3 L659.6,129.4 L660.6,129.6 L661.6,129.6 L662.6,129.6 L663.6,129.4 L664.6,129.6 L665.6,129.5 L666.6,129.4 L667.6,129.8 L668.6,129.8 L669.6,129.8 L670.6,129.6 L671.6,129.5" fill="none" stroke="#a8003a" stroke-width="1.9" stroke-linejoin="round" />
<path d="M397.6,124.9 L398.6,124.4 L399.6,123.7 L400.6,122.8 L401.6,121.9 L402.6,120.8 L403.6,119.6 L404.6,118.3 L405.6,116.9 L406.6,115.6 L407.6,114.3 L408.6,113.3 L409.6,112.4 L410.6,112.0 L411.6,111.9 L412.6,112.2 L413.6,112.9 L414.6,113.9 L415.6,115.1 L416.6,116.5 L417.6,117.8 L418.6,119.2 L419.6,120.4 L420.6,121.6 L421.6,122.6 L422.6,123.5 L423.6,124.3 L424.6,124.9 L425.6,125.5 L425.6,127.4 L397.6,127.2 Z" fill="url(#gG)"/>
<path d="M597.6,126.8 L598.6,126.4 L599.6,125.8 L600.6,125.0 L601.6,124.0 L602.6,122.7 L603.6,121.1 L604.6,119.1 L605.6,116.8 L606.6,114.2 L607.6,111.3 L608.6,108.2 L609.6,105.1 L610.6,102.1 L611.6,99.5 L612.6,97.5 L613.6,96.4 L614.6,96.3 L615.6,97.2 L616.6,99.1 L617.6,101.6 L618.6,104.5 L619.6,107.7 L620.6,110.8 L621.6,113.7 L622.6,116.5 L623.6,118.8 L624.6,120.9 L625.6,122.6 L626.6,124.0 L627.6,125.0 L628.6,125.9 L629.6,126.5 L630.6,127.0 L630.6,129.1 L597.6,128.8 Z" fill="url(#gR)"/>
<line x1="365.20" y1="90.94" x2="672.90" y2="90.94" stroke="#000" stroke-width="1.6" />
<path d="M366.6,171.9 L367.6,171.9 L368.6,171.8 L369.6,171.7 L370.6,171.5 L371.6,171.5 L372.6,171.7 L373.6,171.9 L374.6,172.0 L375.6,172.0 L376.6,171.9 L377.6,171.7 L378.6,171.8 L379.6,172.0 L380.6,172.0 L381.6,172.1 L382.6,172.1 L383.6,171.8 L384.6,171.6 L385.6,171.4 L386.6,171.6 L387.6,171.8 L388.6,172.1 L389.6,172.1 L390.6,171.9 L391.6,171.6 L392.6,171.3 L393.6,171.2 L394.6,171.0 L395.6,170.9 L396.6,170.6 L397.6,170.0 L398.6,169.6 L399.6,168.8 L400.6,168.1 L401.6,167.6 L402.6,166.8 L403.6,165.9 L404.6,165.0 L405.6,163.7 L406.6,162.3 L407.6,161.0 L408.6,159.5 L409.6,158.1 L410.6,157.1 L411.6,156.0 L412.6,155.5 L413.6,155.6 L414.6,156.1 L415.6,157.0 L416.6,158.2 L417.6,159.7 L418.6,161.2 L419.6,162.8 L420.6,164.3 L421.6,165.5 L422.6,166.5 L423.6,167.5 L424.6,168.2 L425.6,168.9 L426.6,169.8 L427.6,170.2 L428.6,170.6 L429.6,171.0 L430.6,171.3 L431.6,171.5 L432.6,171.9 L433.6,171.9 L434.6,171.8 L435.6,171.7 L436.6,171.7 L437.6,172.0 L438.6,171.9 L439.6,172.2 L440.6,172.2 L441.6,172.0 L442.6,172.2 L443.6,172.2 L444.6,172.3 L445.6,172.2 L446.6,172.2 L447.6,172.0 L448.6,172.3 L449.6,172.5 L450.6,172.5 L451.6,172.5 L452.6,172.1 L453.6,172.0 L454.6,172.1 L455.6,172.3 L456.6,172.4 L457.6,172.5 L458.6,172.3 L459.6,172.5 L460.6,172.3 L461.6,172.2 L462.6,172.3 L463.6,172.1 L464.6,172.2 L465.6,172.5 L466.6,172.3 L467.6,172.6 L468.6,172.6 L469.6,172.6 L470.6,172.9 L471.6,172.7 L472.6,172.8 L473.6,172.6 L474.6,172.4 L475.6,172.6 L476.6,172.5 L477.6,172.7 L478.6,172.5 L479.6,172.3 L480.6,172.3 L481.6,172.4 L482.6,172.6 L483.6,172.7 L484.6,172.9 L485.6,172.8 L486.6,172.5 L487.6,172.5 L488.6,172.8 L489.6,172.7 L490.6,172.9 L491.6,173.0 L492.6,172.7 L493.6,172.7 L494.6,172.8 L495.6,172.8 L496.6,172.9 L497.6,172.9 L498.6,172.8 L499.6,172.8 L500.6,173.0 L501.6,173.1 L502.6,173.0 L503.6,172.7 L504.6,172.7 L505.6,172.7 L506.6,172.6 L507.6,172.7 L508.6,172.5 L509.6,172.5 L510.6,172.5 L511.6,172.7 L512.6,172.8 L513.6,172.9 L514.6,173.0 L515.6,173.0 L516.6,172.9 L517.6,173.0 L518.6,173.1 L519.6,173.1 L520.6,173.0 L521.6,172.8 L522.6,172.7 L523.6,172.7 L524.6,172.9 L525.6,173.1 L526.6,173.0 L527.6,173.2 L528.6,173.2 L529.6,173.0 L530.6,173.0 L531.6,173.2 L532.6,173.0 L533.6,173.0 L534.6,173.2 L535.6,172.9 L536.6,172.9 L537.6,172.9 L538.6,172.8 L539.6,172.9 L540.6,173.2 L541.6,173.3 L542.6,173.4 L543.6,173.2 L544.6,173.0 L545.6,173.0 L546.6,172.9 L547.6,173.1 L548.6,173.2 L549.6,173.2 L550.6,173.3 L551.6,173.1 L552.6,172.9 L553.6,173.0 L554.6,172.7 L555.6,172.8 L556.6,172.9 L557.6,172.9 L558.6,173.1 L559.6,173.1 L560.6,173.1 L561.6,172.9 L562.6,172.9 L563.6,172.8 L564.6,172.7 L565.6,172.9 L566.6,172.9 L567.6,172.8 L568.6,172.7 L569.6,172.7 L570.6,172.7 L571.6,172.9 L572.6,173.2 L573.6,173.3 L574.6,173.3 L575.6,173.3 L576.6,173.0 L577.6,172.8 L578.6,172.7 L579.6,172.7 L580.6,172.8 L581.6,172.9 L582.6,172.9 L583.6,172.9 L584.6,172.9 L585.6,172.9 L586.6,172.9 L587.6,172.7 L588.6,172.5 L589.6,172.5 L590.6,172.4 L591.6,172.4 L592.6,172.4 L593.6,172.5 L594.6,172.2 L595.6,172.1 L596.6,172.0 L597.6,171.3 L598.6,171.1 L599.6,170.9 L600.6,170.3 L601.6,169.7 L602.6,168.8 L603.6,167.2 L604.6,165.6 L605.6,163.5 L606.6,161.0 L607.6,158.2 L608.6,155.2 L609.6,152.0 L610.6,148.8 L611.6,145.3 L612.6,142.5 L613.6,140.4 L614.6,139.1 L615.6,139.0 L616.6,139.5 L617.6,141.1 L618.6,143.4 L619.6,146.5 L620.6,149.9 L621.6,153.3 L622.6,156.8 L623.6,159.4 L624.6,162.1 L625.6,164.2 L626.6,165.7 L627.6,167.4 L628.6,168.6 L629.6,169.7 L630.6,170.5 L631.6,171.2 L632.6,171.9 L633.6,172.1 L634.6,172.6 L635.6,172.7 L636.6,172.5 L637.6,172.6 L638.6,172.7 L639.6,172.9 L640.6,173.4 L641.6,173.4 L642.6,173.5 L643.6,173.7 L644.6,173.3 L645.6,173.1 L646.6,173.1 L647.6,172.9 L648.6,173.1 L649.6,173.3 L650.6,173.5 L651.6,173.8 L652.6,173.9 L653.6,173.9 L654.6,173.8 L655.6,173.7 L656.6,173.5 L657.6,173.6 L658.6,173.7 L659.6,173.6 L660.6,173.9 L661.6,174.1 L662.6,173.9 L663.6,173.9 L664.6,173.7 L665.6,173.6 L666.6,173.6 L667.6,173.7 L668.6,173.9 L669.6,173.9 L670.6,174.0 L671.6,173.9" fill="none" stroke="#0565ab" stroke-width="1.9" stroke-linejoin="round" />
<path d="M398.6,169.8 L399.6,169.3 L400.6,168.6 L401.6,167.9 L402.6,166.9 L403.6,165.9 L404.6,164.7 L405.6,163.4 L406.6,162.0 L407.6,160.5 L408.6,159.1 L409.6,157.9 L410.6,156.8 L411.6,156.0 L412.6,155.6 L413.6,155.7 L414.6,156.2 L415.6,157.0 L416.6,158.1 L417.6,159.5 L418.6,160.9 L419.6,162.3 L420.6,163.7 L421.6,165.0 L422.6,166.2 L423.6,167.3 L424.6,168.2 L425.6,168.9 L426.6,169.6 L427.6,170.1 L427.6,172.0 L398.6,171.8 Z" fill="url(#gG)"/>
<path d="M598.6,171.1 L599.6,170.7 L600.6,170.1 L601.6,169.3 L602.6,168.2 L603.6,166.9 L604.6,165.2 L605.6,163.2 L606.6,160.8 L607.6,158.1 L608.6,155.0 L609.6,151.8 L610.6,148.5 L611.6,145.2 L612.6,142.3 L613.6,140.1 L614.6,138.7 L615.6,138.3 L616.6,139.1 L617.6,140.9 L618.6,143.5 L619.6,146.5 L620.6,149.9 L621.6,153.2 L622.6,156.4 L623.6,159.3 L624.6,162.0 L625.6,164.2 L626.6,166.1 L627.6,167.6 L628.6,168.8 L629.6,169.8 L630.6,170.5 L631.6,171.1 L631.6,173.3 L598.6,173.1 Z" fill="url(#gR)"/>
<line x1="365.20" y1="135.96" x2="672.90" y2="135.96" stroke="#000" stroke-width="1.6" />
<path d="M366.6,216.7 L367.6,216.7 L368.6,216.8 L369.6,217.0 L370.6,216.9 L371.6,217.1 L372.6,217.0 L373.6,217.1 L374.6,216.9 L375.6,216.8 L376.6,216.7 L377.6,216.5 L378.6,216.7 L379.6,216.6 L380.6,216.8 L381.6,216.6 L382.6,216.6 L383.6,216.5 L384.6,216.4 L385.6,216.6 L386.6,216.6 L387.6,216.6 L388.6,216.5 L389.6,216.6 L390.6,216.5 L391.6,216.5 L392.6,216.2 L393.6,216.0 L394.6,216.0 L395.6,215.8 L396.6,215.8 L397.6,215.2 L398.6,214.6 L399.6,214.0 L400.6,213.2 L401.6,212.7 L402.6,212.0 L403.6,211.2 L404.6,210.2 L405.6,208.9 L406.6,207.5 L407.6,206.0 L408.6,204.9 L409.6,203.5 L410.6,202.6 L411.6,202.2 L412.6,201.7 L413.6,201.9 L414.6,202.4 L415.6,203.1 L416.6,204.2 L417.6,205.5 L418.6,206.9 L419.6,208.2 L420.6,209.5 L421.6,210.9 L422.6,211.9 L423.6,212.7 L424.6,213.5 L425.6,214.2 L426.6,215.0 L427.6,215.6 L428.6,216.2 L429.6,216.2 L430.6,216.5 L431.6,216.6 L432.6,216.5 L433.6,216.7 L434.6,216.9 L435.6,216.9 L436.6,216.9 L437.6,216.8 L438.6,216.7 L439.6,216.8 L440.6,216.9 L441.6,217.0 L442.6,217.0 L443.6,217.2 L444.6,217.1 L445.6,217.3 L446.6,217.5 L447.6,217.3 L448.6,217.2 L449.6,217.3 L450.6,217.2 L451.6,217.4 L452.6,217.4 L453.6,217.1 L454.6,216.9 L455.6,216.7 L456.6,217.0 L457.6,217.3 L458.6,217.5 L459.6,217.7 L460.6,217.7 L461.6,217.6 L462.6,217.6 L463.6,217.7 L464.6,217.3 L465.6,217.3 L466.6,217.5 L467.6,217.4 L468.6,217.7 L469.6,217.6 L470.6,217.4 L471.6,217.6 L472.6,217.6 L473.6,217.6 L474.6,217.3 L475.6,217.1 L476.6,216.9 L477.6,216.9 L478.6,217.3 L479.6,217.5 L480.6,217.5 L481.6,217.8 L482.6,217.8 L483.6,217.6 L484.6,217.9 L485.6,217.7 L486.6,217.5 L487.6,217.4 L488.6,217.2 L489.6,217.5 L490.6,217.5 L491.6,217.5 L492.6,217.6 L493.6,217.5 L494.6,217.6 L495.6,217.9 L496.6,217.9 L497.6,217.7 L498.6,217.7 L499.6,217.7 L500.6,217.6 L501.6,217.8 L502.6,218.1 L503.6,218.0 L504.6,218.1 L505.6,218.3 L506.6,218.0 L507.6,218.0 L508.6,217.9 L509.6,217.8 L510.6,217.9 L511.6,218.0 L512.6,218.1 L513.6,218.2 L514.6,218.3 L515.6,218.2 L516.6,218.2 L517.6,218.0 L518.6,218.0 L519.6,218.2 L520.6,218.1 L521.6,218.0 L522.6,217.8 L523.6,217.8 L524.6,217.8 L525.6,217.9 L526.6,218.0 L527.6,218.0 L528.6,217.9 L529.6,217.8 L530.6,218.0 L531.6,218.0 L532.6,218.2 L533.6,218.2 L534.6,218.1 L535.6,218.0 L536.6,217.9 L537.6,217.9 L538.6,218.0 L539.6,218.2 L540.6,218.3 L541.6,218.4 L542.6,218.4 L543.6,218.4 L544.6,218.5 L545.6,218.4 L546.6,218.4 L547.6,218.4 L548.6,218.2 L549.6,218.3 L550.6,218.5 L551.6,218.5 L552.6,218.5 L553.6,218.4 L554.6,218.2 L555.6,218.1 L556.6,218.3 L557.6,218.4 L558.6,218.4 L559.6,218.5 L560.6,218.3 L561.6,218.3 L562.6,218.6 L563.6,218.6 L564.6,218.8 L565.6,218.8 L566.6,218.5 L567.6,218.4 L568.6,218.3 L569.6,218.3 L570.6,218.4 L571.6,218.3 L572.6,218.3 L573.6,218.3 L574.6,218.5 L575.6,218.5 L576.6,218.4 L577.6,218.2 L578.6,217.8 L579.6,217.7 L580.6,217.9 L581.6,218.1 L582.6,218.2 L583.6,218.3 L584.6,218.1 L585.6,217.9 L586.6,217.7 L587.6,217.6 L588.6,217.8 L589.6,217.7 L590.6,218.0 L591.6,218.1 L592.6,217.9 L593.6,217.9 L594.6,217.6 L595.6,217.3 L596.6,217.2 L597.6,217.0 L598.6,216.8 L599.6,216.5 L600.6,215.9 L601.6,215.2 L602.6,214.0 L603.6,212.7 L604.6,210.9 L605.6,209.0 L606.6,206.7 L607.6,203.9 L608.6,201.3 L609.6,198.0 L610.6,194.6 L611.6,191.6 L612.6,188.3 L613.6,186.2 L614.6,184.7 L615.6,184.3 L616.6,185.2 L617.6,187.1 L618.6,189.9 L619.6,193.1 L620.6,196.4 L621.6,199.7 L622.6,202.7 L623.6,205.6 L624.6,207.9 L625.6,210.0 L626.6,212.0 L627.6,213.5 L628.6,214.7 L629.6,215.8 L630.6,216.5 L631.6,216.8 L632.6,217.1 L633.6,217.2 L634.6,217.4 L635.6,217.6 L636.6,218.0 L637.6,218.3 L638.6,218.3 L639.6,218.4 L640.6,218.2 L641.6,218.2 L642.6,218.5 L643.6,218.6 L644.6,218.5 L645.6,218.5 L646.6,218.6 L647.6,218.6 L648.6,219.0 L649.6,218.9 L650.6,219.0 L651.6,218.9 L652.6,218.8 L653.6,219.1 L654.6,219.1 L655.6,219.1 L656.6,219.2 L657.6,219.0 L658.6,218.8 L659.6,218.9 L660.6,218.9 L661.6,218.9 L662.6,219.0 L663.6,219.0 L664.6,219.2 L665.6,219.5 L666.6,219.7 L667.6,219.5 L668.6,219.3 L669.6,219.3 L670.6,219.2 L671.6,219.5" fill="none" stroke="#00843a" stroke-width="1.9" stroke-linejoin="round" />
<path d="M399.6,214.4 L400.6,213.8 L401.6,213.0 L402.6,212.2 L403.6,211.2 L404.6,210.1 L405.6,208.8 L406.6,207.5 L407.6,206.2 L408.6,204.9 L409.6,203.7 L410.6,202.7 L411.6,202.0 L412.6,201.7 L413.6,201.7 L414.6,202.2 L415.6,203.0 L416.6,204.0 L417.6,205.3 L418.6,206.6 L419.6,207.9 L420.6,209.2 L421.6,210.5 L422.6,211.6 L423.6,212.6 L424.6,213.4 L425.6,214.1 L426.6,214.7 L426.6,217.0 L399.6,216.7 Z" fill="url(#gG)"/>
<path d="M598.6,216.6 L599.6,216.1 L600.6,215.6 L601.6,214.8 L602.6,213.8 L603.6,212.5 L604.6,210.9 L605.6,208.9 L606.6,206.6 L607.6,204.0 L608.6,201.0 L609.6,197.8 L610.6,194.6 L611.6,191.5 L612.6,188.7 L613.6,186.5 L614.6,185.1 L615.6,184.8 L616.6,185.6 L617.6,187.3 L618.6,189.8 L619.6,192.8 L620.6,196.0 L621.6,199.2 L622.6,202.3 L623.6,205.2 L624.6,207.8 L625.6,209.9 L626.6,211.8 L627.6,213.3 L628.6,214.5 L629.6,215.4 L630.6,216.1 L631.6,216.6 L631.6,218.8 L598.6,218.5 Z" fill="url(#gR)"/>
<line x1="365.20" y1="180.98" x2="672.90" y2="180.98" stroke="#000" stroke-width="1.6" />
<line x1="413.30" y1="0.90" x2="413.30" y2="226.00" stroke="#000" stroke-width="2.2" stroke-dasharray="2.3 2.0"/>
<line x1="615.30" y1="0.90" x2="615.30" y2="226.00" stroke="#000" stroke-width="2.2" stroke-dasharray="2.3 2.0"/>
<rect x="366.00" y="0.90" width="306.90" height="225.10" fill="none" stroke="#000" stroke-width="1.6"/>
<line x1="366.00" y1="226.00" x2="366.00" y2="222.00" stroke="#000" stroke-width="1.3" />
<text x="365.20" y="238.60" font-size="11" text-anchor="middle"  stroke="#000" stroke-width="0.22">1050</text>
<line x1="396.69" y1="226.00" x2="396.69" y2="223.50" stroke="#000" stroke-width="1.1" />
<line x1="427.38" y1="226.00" x2="427.38" y2="222.00" stroke="#000" stroke-width="1.3" />
<text x="426.58" y="238.60" font-size="11" text-anchor="middle"  stroke="#000" stroke-width="0.22">1043</text>
<line x1="458.07" y1="226.00" x2="458.07" y2="223.50" stroke="#000" stroke-width="1.1" />
<line x1="488.76" y1="226.00" x2="488.76" y2="222.00" stroke="#000" stroke-width="1.3" />
<text x="487.96" y="238.60" font-size="11" text-anchor="middle"  stroke="#000" stroke-width="0.22">1036</text>
<line x1="519.45" y1="226.00" x2="519.45" y2="223.50" stroke="#000" stroke-width="1.1" />
<line x1="550.14" y1="226.00" x2="550.14" y2="222.00" stroke="#000" stroke-width="1.3" />
<text x="549.34" y="238.60" font-size="11" text-anchor="middle"  stroke="#000" stroke-width="0.22">1029</text>
<line x1="580.83" y1="226.00" x2="580.83" y2="223.50" stroke="#000" stroke-width="1.1" />
<line x1="611.52" y1="226.00" x2="611.52" y2="222.00" stroke="#000" stroke-width="1.3" />
<text x="610.72" y="238.60" font-size="11" text-anchor="middle"  stroke="#000" stroke-width="0.22">1022</text>
<line x1="642.21" y1="226.00" x2="642.21" y2="223.50" stroke="#000" stroke-width="1.1" />
<line x1="672.90" y1="226.00" x2="672.90" y2="222.00" stroke="#000" stroke-width="1.3" />
<text x="672.10" y="238.60" font-size="11" text-anchor="middle"  stroke="#000" stroke-width="0.22">1015</text>
<text x="345.50" y="15.60" font-size="17" text-anchor="start" >b</text>
<text x="367.90" y="12.60" font-size="10.8" text-anchor="start"  stroke="#000" stroke-width="0.22">ZnO@Ag8%</text>
<text x="370.30" y="56.60" font-size="10.8" text-anchor="start"  stroke="#000" stroke-width="0.22">ZnO@Ag6%</text>
<text x="367.30" y="101.80" font-size="10.8" text-anchor="start"  stroke="#000" stroke-width="0.22">ZnO@Ag4%</text>
<text x="368.00" y="148.20" font-size="10.8" text-anchor="start"  stroke="#000" stroke-width="0.22">ZnO@Ag2%</text>
<text x="368.30" y="191.60" font-size="10.8" text-anchor="start"  stroke="#000" stroke-width="0.22">ZnO</text>
<text x="417.80" y="199.60" font-size="11" text-anchor="start"  stroke="#000" stroke-width="0.22">Zn 2p<tspan font-size="7.2" dy="3.4">1/2</tspan></text>
<text x="569.00" y="194.10" font-size="11" text-anchor="start"  stroke="#000" stroke-width="0.22">Zn 2p<tspan font-size="7.2" dy="3.4">3/2</tspan></text>
<text x="519.00" y="261.00" font-size="16.5" text-anchor="middle" >Binding Energy (ev)</text>
<text transform="translate(352.00,107.50) rotate(-90)" font-size="16.1" text-anchor="middle">Intensity (a.u.)</text>
<path d="M113.3,315.7 L114.3,315.7 L115.3,315.6 L116.3,315.5 L117.3,315.4 L118.3,315.2 L119.3,315.0 L120.3,314.9 L121.3,314.6 L122.3,314.4 L123.3,314.1 L124.3,313.8 L125.3,313.4 L126.3,313.0 L127.3,312.5 L128.3,312.0 L129.3,311.5 L130.3,310.9 L131.3,310.2 L132.3,309.5 L133.3,308.8 L134.3,307.9 L135.3,307.1 L136.3,306.2 L137.3,305.2 L138.3,304.2 L139.3,303.2 L140.3,302.1 L141.3,301.0 L142.3,299.9 L143.3,298.9 L144.3,297.8 L145.3,296.7 L146.3,295.7 L147.3,294.7 L148.3,293.7 L149.3,292.8 L150.3,292.0 L151.3,291.3 L152.3,290.7 L153.3,290.1 L154.3,289.7 L155.3,289.4 L156.3,289.2 L157.3,289.1 L158.3,289.1 L159.3,289.3 L160.3,289.5 L161.3,289.9 L162.3,290.4 L163.3,290.9 L164.3,291.6 L165.3,292.3 L166.3,293.1 L167.3,294.0 L168.3,294.9 L169.3,295.9 L170.3,296.9 L171.3,297.9 L172.3,299.0 L173.3,300.0 L174.3,301.1 L175.3,302.1 L176.3,303.2 L177.3,304.2 L178.3,305.1 L179.3,306.1 L180.3,306.9 L181.3,307.8 L182.3,308.6 L183.3,309.3 L184.3,310.0 L185.3,310.7 L186.3,311.3 L187.3,311.8 L188.3,312.4 L189.3,312.8 L190.3,313.2 L191.3,313.6 L192.3,313.9 L193.3,314.2 L194.3,314.5 L195.3,314.7 L196.3,314.9 L197.3,315.1 L198.3,315.3 L199.3,315.4 L200.3,315.5 L201.3,315.6 L202.3,315.7 L203.3,315.8 L203.3,316.1 L113.3,316.1 Z" fill="url(#gR)"/>
<path d="M29.3,315.5 L30.3,315.5 L31.3,315.4 L32.3,315.4 L33.3,315.3 L34.3,315.3 L35.3,315.2 L36.3,315.2 L37.3,315.1 L38.3,315.1 L39.3,315.0 L40.3,315.0 L41.3,314.9 L42.3,314.9 L43.3,314.8 L44.3,314.7 L45.3,314.7 L46.3,314.6 L47.3,314.5 L48.3,314.4 L49.3,314.4 L50.3,314.3 L51.3,314.2 L52.3,314.1 L53.3,314.0 L54.3,313.9 L55.3,313.8 L56.3,313.7 L57.3,313.6 L58.3,313.5 L59.3,313.4 L60.3,313.3 L61.3,313.2 L62.3,313.1 L63.3,312.9 L64.3,312.8 L65.3,312.7 L66.3,312.6 L67.3,312.4 L68.3,312.3 L69.3,312.2 L70.3,312.0 L71.3,311.9 L72.3,311.8 L73.3,311.6 L74.3,311.5 L75.3,311.3 L76.3,311.2 L77.3,311.0 L78.3,310.9 L79.3,310.7 L80.3,310.6 L81.3,310.4 L82.3,310.3 L83.3,310.1 L84.3,310.0 L85.3,309.8 L86.3,309.7 L87.3,309.5 L88.3,309.4 L89.3,309.2 L90.3,309.1 L91.3,308.9 L92.3,308.8 L93.3,308.7 L94.3,308.5 L95.3,308.4 L96.3,308.2 L97.3,308.1 L98.3,308.0 L99.3,307.8 L100.3,307.7 L101.3,307.6 L102.3,307.5 L103.3,307.4 L104.3,307.2 L105.3,307.1 L106.3,307.0 L107.3,306.9 L108.3,306.8 L109.3,306.8 L110.3,306.7 L111.3,306.6 L112.3,306.5 L113.3,306.5 L114.3,306.4 L115.3,306.3 L116.3,306.3 L117.3,306.2 L118.3,306.2 L119.3,306.2 L120.3,306.1 L121.3,306.1 L122.3,306.1 L123.3,306.1 L124.3,306.1 L125.3,306.1 L126.3,306.1 L127.3,306.2 L128.3,306.2 L129.3,306.2 L130.3,306.3 L131.3,306.4 L132.3,306.4 L133.3,306.5 L134.3,306.6 L135.3,306.7 L136.3,306.8 L137.3,306.9 L138.3,307.1 L139.3,307.2 L140.3,307.3 L141.3,307.5 L142.3,307.6 L143.3,307.8 L144.3,307.9 L145.3,308.1 L146.3,308.3 L147.3,308.4 L148.3,308.6 L149.3,308.8 L150.3,309.0 L151.3,309.2 L152.3,309.3 L153.3,309.5 L154.3,309.7 L155.3,309.9 L156.3,310.1 L157.3,310.3 L158.3,310.5 L159.3,310.7 L160.3,310.8 L161.3,311.0 L162.3,311.2 L163.3,311.4 L164.3,311.6 L165.3,311.8 L166.3,311.9 L167.3,312.1 L168.3,312.3 L169.3,312.4 L170.3,312.6 L171.3,312.7 L172.3,312.9 L173.3,313.0 L174.3,313.2 L175.3,313.3 L176.3,313.5 L177.3,313.6 L178.3,313.7 L179.3,313.9 L180.3,314.0 L181.3,314.1 L182.3,314.2 L183.3,314.3 L184.3,314.4 L185.3,314.5 L186.3,314.6 L187.3,314.7 L188.3,314.8 L189.3,314.9 L190.3,314.9 L191.3,315.0 L192.3,315.1 L193.3,315.1 L194.3,315.2 L195.3,315.3 L196.3,315.3 L197.3,315.4 L198.3,315.4 L199.3,315.5 L200.3,315.5 L201.3,315.6 L202.3,315.6 L203.3,315.6 L204.3,315.7 L205.3,315.7 L206.3,315.7 L207.3,315.8 L208.3,315.8 L208.3,316.1 L29.3,316.1 Z" fill="url(#gG2)"/>
<path d="M205.3,316.8 L206.3,317.1 L207.3,317.0 L208.3,317.1 L209.3,317.1 L210.3,317.1 L211.3,317.1 L212.3,317.2 L213.3,317.1 L214.3,317.2 L215.3,317.3 L216.3,317.3 L217.3,317.5 L218.3,317.3 L219.3,317.3 L220.3,317.4 L221.3,317.2 L222.3,317.3 L223.3,317.4 L224.3,317.3 L225.3,317.3 L226.3,317.4 L227.3,317.3 L228.3,317.1 L229.3,317.2 L230.3,317.1 L231.3,317.1 L232.3,317.2 L233.3,317.1 L234.3,317.2 L235.3,317.3 L236.3,317.3 L237.3,317.4 L238.3,317.3 L239.3,317.2 L240.3,317.1 L241.3,317.3 L242.3,317.4 L243.3,317.5 L244.3,317.6 L245.3,317.4 L246.3,317.4 L247.3,317.4 L248.3,317.4 L249.3,317.5 L250.3,317.4 L251.3,317.5 L252.3,317.4 L253.3,317.3 L254.3,317.4 L255.3,317.7 L256.3,317.8 L257.3,317.8 L258.3,317.7 L259.3,317.4 L260.3,317.3 L261.3,317.2 L262.3,317.3 L263.3,317.1 L264.3,317.4 L265.3,317.5 L266.3,317.5 L267.3,317.5 L268.3,317.3 L269.3,317.1 L270.3,317.2 L271.3,317.3 L272.3,317.4 L273.3,317.5 L274.3,317.4 L275.3,317.4 L276.3,317.3 L277.3,317.3 L278.3,317.4 L279.3,317.5 L280.3,317.6 L281.3,317.5 L282.3,317.5 L283.3,317.6 L284.3,317.5 L285.3,317.5 L286.3,317.4 L287.3,317.4 L288.3,317.4 L289.3,317.5 L290.3,317.4 L291.3,317.5 L292.3,317.6 L293.3,317.6 L294.3,317.6 L295.3,317.5 L296.3,317.5 L297.3,317.4 L298.3,317.5 L299.3,317.3 L300.3,317.2 L301.3,317.1 L302.3,317.0 L303.3,317.1 L304.3,317.1 L305.3,317.2 L306.3,317.4 L307.3,317.4 L308.3,317.4 L309.3,317.4 L310.3,317.2 L311.3,317.1 L312.3,317.2 L313.3,317.2 L314.3,317.4 L315.3,317.5 L316.3,317.4 L317.3,317.3 L318.3,317.2" fill="none" stroke="#b44cc8" stroke-width="1.0" stroke-linejoin="round" />
<path d="M29.3,315.5 L30.3,315.6 L31.3,315.7 L32.3,315.6 L33.3,315.5 L34.3,315.5 L35.3,315.3 L36.3,315.3 L37.3,315.5 L38.3,315.2 L39.3,315.2 L40.3,315.0 L41.3,314.9 L42.3,314.9 L43.3,315.0 L44.3,315.0 L45.3,314.9 L46.3,314.8 L47.3,314.6 L48.3,314.5 L49.3,314.5 L50.3,314.3 L51.3,314.2 L52.3,314.1 L53.3,313.8 L54.3,313.6 L55.3,313.6 L56.3,313.5 L57.3,313.4 L58.3,313.4 L59.3,313.2 L60.3,313.0 L61.3,313.0 L62.3,313.1 L63.3,313.1 L64.3,313.1 L65.3,312.9 L66.3,312.5 L67.3,312.3 L68.3,312.1 L69.3,312.1 L70.3,312.0 L71.3,311.9 L72.3,311.7 L73.3,311.4 L74.3,311.3 L75.3,311.1 L76.3,310.9 L77.3,310.9 L78.3,310.6 L79.3,310.6 L80.3,310.6 L81.3,310.5 L82.3,310.4 L83.3,310.2 L84.3,310.1 L85.3,309.8 L86.3,309.6 L87.3,309.4 L88.3,309.1 L89.3,309.1 L90.3,308.9 L91.3,308.8 L92.3,308.9 L93.3,308.6 L94.3,308.4 L95.3,308.4 L96.3,308.2 L97.3,308.4 L98.3,308.3 L99.3,307.9 L100.3,307.6 L101.3,307.4 L102.3,307.4 L103.3,307.3 L104.3,307.2 L105.3,307.1 L106.3,306.7 L107.3,306.7 L108.3,306.7 L109.3,306.7 L110.3,306.7 L111.3,306.8 L112.3,306.5 L113.3,306.1 L114.3,305.8 L115.3,305.6 L116.3,305.5 L117.3,305.5 L118.3,305.5 L119.3,305.3 L120.3,305.0 L121.3,304.7 L122.3,304.3 L123.3,304.0 L124.3,303.7 L125.3,303.3 L126.3,303.0 L127.3,302.5 L128.3,302.2 L129.3,301.7 L130.3,301.1 L131.3,300.6 L132.3,300.1 L133.3,299.3 L134.3,298.5 L135.3,297.7 L136.3,296.6 L137.3,295.7 L138.3,294.9 L139.3,294.1 L140.3,293.3 L141.3,292.4 L142.3,291.3 L143.3,290.3 L144.3,289.5 L145.3,288.6 L146.3,287.8 L147.3,287.1 L148.3,286.4 L149.3,285.6 L150.3,285.1 L151.3,284.4 L152.3,283.7 L153.3,283.4 L154.3,283.1 L155.3,283.1 L156.3,283.2 L157.3,283.2 L158.3,283.5 L159.3,283.9 L160.3,284.4 L161.3,284.9 L162.3,285.5 L163.3,286.2 L164.3,287.1 L165.3,288.2 L166.3,289.2 L167.3,290.2 L168.3,291.3 L169.3,292.3 L170.3,293.2 L171.3,294.4 L172.3,295.5 L173.3,296.9 L174.3,298.1 L175.3,299.5 L176.3,300.5 L177.3,301.6 L178.3,302.8 L179.3,303.6 L180.3,304.7 L181.3,305.8 L182.3,306.6 L183.3,307.7 L184.3,308.5 L185.3,309.2 L186.3,309.9 L187.3,310.2 L188.3,310.8 L189.3,311.3 L190.3,311.8 L191.3,312.4 L192.3,312.7 L193.3,313.0 L194.3,313.2 L195.3,313.6 L196.3,314.0 L197.3,314.2 L198.3,314.5 L199.3,314.6 L200.3,314.8 L201.3,315.0 L202.3,315.1 L203.3,315.2 L204.3,315.4 L205.3,315.5 L206.3,315.8 L207.3,315.7 L208.3,315.8 L209.3,315.8 L210.3,315.8 L211.3,315.8 L212.3,315.9 L213.3,315.8 L214.3,315.9 L215.3,316.0 L216.3,316.0 L217.3,316.2 L218.3,316.0 L219.3,316.0 L220.3,316.1 L221.3,315.9 L222.3,316.0 L223.3,316.1 L224.3,316.0 L225.3,316.0 L226.3,316.1 L227.3,316.0 L228.3,315.8 L229.3,315.9 L230.3,315.8 L231.3,315.8 L232.3,315.9 L233.3,315.8 L234.3,315.9 L235.3,316.0 L236.3,316.0 L237.3,316.1 L238.3,316.0 L239.3,315.9 L240.3,315.8 L241.3,316.0 L242.3,316.1 L243.3,316.2 L244.3,316.3 L245.3,316.1 L246.3,316.1 L247.3,316.1 L248.3,316.1 L249.3,316.2 L250.3,316.1 L251.3,316.2 L252.3,316.1 L253.3,316.0 L254.3,316.1 L255.3,316.4 L256.3,316.5 L257.3,316.5 L258.3,316.4 L259.3,316.1 L260.3,316.0 L261.3,315.9 L262.3,316.0 L263.3,315.8 L264.3,316.1 L265.3,316.2 L266.3,316.2 L267.3,316.2 L268.3,316.0 L269.3,315.8 L270.3,315.9 L271.3,316.0 L272.3,316.1 L273.3,316.2 L274.3,316.1 L275.3,316.1 L276.3,316.0 L277.3,316.0 L278.3,316.1 L279.3,316.2 L280.3,316.3 L281.3,316.2 L282.3,316.2 L283.3,316.3 L284.3,316.2 L285.3,316.2 L286.3,316.1 L287.3,316.1 L288.3,316.1 L289.3,316.2 L290.3,316.1 L291.3,316.2 L292.3,316.3 L293.3,316.3 L294.3,316.3 L295.3,316.2 L296.3,316.2 L297.3,316.1 L298.3,316.2 L299.3,316.0 L300.3,315.9 L301.3,315.8 L302.3,315.7 L303.3,315.8 L304.3,315.8 L305.3,315.9 L306.3,316.1 L307.3,316.1 L308.3,316.1 L309.3,316.1 L310.3,315.9 L311.3,315.8 L312.3,315.9 L313.3,315.9 L314.3,316.1 L315.3,316.2 L316.3,316.1 L317.3,316.0 L318.3,315.9" fill="none" stroke="#ff7f00" stroke-width="2.0" stroke-linejoin="round" />
<path d="M109.3,360.2 L110.3,360.1 L111.3,360.0 L112.3,359.9 L113.3,359.8 L114.3,359.7 L115.3,359.5 L116.3,359.3 L117.3,359.1 L118.3,358.8 L119.3,358.6 L120.3,358.2 L121.3,357.8 L122.3,357.4 L123.3,356.9 L124.3,356.4 L125.3,355.8 L126.3,355.2 L127.3,354.5 L128.3,353.7 L129.3,352.9 L130.3,352.0 L131.3,351.0 L132.3,350.0 L133.3,349.0 L134.3,347.9 L135.3,346.7 L136.3,345.6 L137.3,344.4 L138.3,343.2 L139.3,341.9 L140.3,340.7 L141.3,339.6 L142.3,338.4 L143.3,337.3 L144.3,336.3 L145.3,335.3 L146.3,334.4 L147.3,333.7 L148.3,333.0 L149.3,332.4 L150.3,332.0 L151.3,331.7 L152.3,331.5 L153.3,331.5 L154.3,331.6 L155.3,331.8 L156.3,332.1 L157.3,332.6 L158.3,333.1 L159.3,333.8 L160.3,334.5 L161.3,335.4 L162.3,336.3 L163.3,337.2 L164.3,338.3 L165.3,339.3 L166.3,340.4 L167.3,341.6 L168.3,342.7 L169.3,343.8 L170.3,344.9 L171.3,346.1 L172.3,347.1 L173.3,348.2 L174.3,349.2 L175.3,350.2 L176.3,351.1 L177.3,352.0 L178.3,352.8 L179.3,353.6 L180.3,354.4 L181.3,355.0 L182.3,355.6 L183.3,356.2 L184.3,356.7 L185.3,357.2 L186.3,357.6 L187.3,358.0 L188.3,358.3 L189.3,358.6 L190.3,358.9 L191.3,359.1 L192.3,359.3 L193.3,359.5 L194.3,359.7 L195.3,359.8 L196.3,359.9 L197.3,360.0 L198.3,360.1 L199.3,360.2 L199.3,360.5 L109.3,360.5 Z" fill="url(#gR)"/>
<path d="M29.3,359.4 L30.3,359.3 L31.3,359.3 L32.3,359.2 L33.3,359.1 L34.3,359.1 L35.3,359.0 L36.3,358.9 L37.3,358.8 L38.3,358.8 L39.3,358.7 L40.3,358.6 L41.3,358.5 L42.3,358.4 L43.3,358.3 L44.3,358.2 L45.3,358.1 L46.3,358.0 L47.3,357.9 L48.3,357.8 L49.3,357.7 L50.3,357.6 L51.3,357.5 L52.3,357.4 L53.3,357.3 L54.3,357.1 L55.3,357.0 L56.3,356.9 L57.3,356.8 L58.3,356.6 L59.3,356.5 L60.3,356.4 L61.3,356.2 L62.3,356.1 L63.3,356.0 L64.3,355.8 L65.3,355.7 L66.3,355.6 L67.3,355.4 L68.3,355.3 L69.3,355.1 L70.3,355.0 L71.3,354.8 L72.3,354.7 L73.3,354.6 L74.3,354.4 L75.3,354.3 L76.3,354.1 L77.3,354.0 L78.3,353.8 L79.3,353.7 L80.3,353.6 L81.3,353.4 L82.3,353.3 L83.3,353.2 L84.3,353.0 L85.3,352.9 L86.3,352.8 L87.3,352.6 L88.3,352.5 L89.3,352.4 L90.3,352.3 L91.3,352.2 L92.3,352.1 L93.3,352.0 L94.3,351.9 L95.3,351.8 L96.3,351.7 L97.3,351.6 L98.3,351.5 L99.3,351.5 L100.3,351.4 L101.3,351.3 L102.3,351.3 L103.3,351.2 L104.3,351.2 L105.3,351.1 L106.3,351.1 L107.3,351.1 L108.3,351.0 L109.3,351.0 L110.3,351.0 L111.3,351.0 L112.3,351.0 L113.3,351.0 L114.3,351.0 L115.3,351.1 L116.3,351.1 L117.3,351.2 L118.3,351.2 L119.3,351.3 L120.3,351.4 L121.3,351.5 L122.3,351.6 L123.3,351.7 L124.3,351.8 L125.3,351.9 L126.3,352.1 L127.3,352.2 L128.3,352.4 L129.3,352.5 L130.3,352.7 L131.3,352.9 L132.3,353.1 L133.3,353.2 L134.3,353.4 L135.3,353.6 L136.3,353.8 L137.3,354.0 L138.3,354.2 L139.3,354.4 L140.3,354.6 L141.3,354.8 L142.3,355.0 L143.3,355.2 L144.3,355.4 L145.3,355.6 L146.3,355.8 L147.3,356.0 L148.3,356.2 L149.3,356.3 L150.3,356.5 L151.3,356.7 L152.3,356.9 L153.3,357.1 L154.3,357.2 L155.3,357.4 L156.3,357.5 L157.3,357.7 L158.3,357.8 L159.3,358.0 L160.3,358.1 L161.3,358.3 L162.3,358.4 L163.3,358.5 L164.3,358.6 L165.3,358.7 L166.3,358.9 L167.3,359.0 L168.3,359.1 L169.3,359.2 L170.3,359.2 L171.3,359.3 L172.3,359.4 L173.3,359.5 L174.3,359.6 L175.3,359.6 L176.3,359.7 L177.3,359.7 L178.3,359.8 L179.3,359.9 L180.3,359.9 L181.3,360.0 L182.3,360.0 L183.3,360.0 L184.3,360.1 L185.3,360.1 L186.3,360.1 L187.3,360.2 L187.3,360.5 L29.3,360.5 Z" fill="url(#gG2)"/>
<path d="M29.3,359.4 L30.3,359.2 L31.3,359.1 L32.3,358.9 L33.3,358.9 L34.3,359.0 L35.3,358.9 L36.3,358.8 L37.3,358.6 L38.3,358.6 L39.3,358.5 L40.3,358.5 L41.3,358.3 L42.3,358.0 L43.3,358.1 L44.3,358.1 L45.3,358.0 L46.3,358.0 L47.3,357.9 L48.3,357.7 L49.3,357.6 L50.3,357.6 L51.3,357.5 L52.3,357.5 L53.3,357.4 L54.3,357.2 L55.3,357.1 L56.3,356.9 L57.3,356.6 L58.3,356.4 L59.3,356.4 L60.3,356.1 L61.3,356.2 L62.3,356.1 L63.3,355.9 L64.3,355.9 L65.3,355.8 L66.3,355.7 L67.3,355.5 L68.3,355.3 L69.3,355.1 L70.3,355.0 L71.3,355.0 L72.3,354.8 L73.3,354.7 L74.3,354.3 L75.3,354.1 L76.3,354.0 L77.3,354.1 L78.3,353.9 L79.3,353.8 L80.3,353.7 L81.3,353.3 L82.3,353.3 L83.3,353.1 L84.3,352.9 L85.3,352.9 L86.3,352.7 L87.3,352.7 L88.3,352.5 L89.3,352.5 L90.3,352.5 L91.3,352.4 L92.3,352.3 L93.3,352.2 L94.3,352.1 L95.3,351.8 L96.3,351.8 L97.3,351.6 L98.3,351.7 L99.3,351.5 L100.3,351.4 L101.3,351.3 L102.3,351.0 L103.3,351.1 L104.3,351.2 L105.3,351.1 L106.3,351.1 L107.3,351.2 L108.3,351.0 L109.3,350.9 L110.3,350.9 L111.3,350.7 L112.3,350.5 L113.3,350.3 L114.3,350.2 L115.3,350.0 L116.3,350.1 L117.3,349.9 L118.3,349.5 L119.3,349.2 L120.3,348.9 L121.3,348.7 L122.3,348.5 L123.3,348.1 L124.3,347.8 L125.3,347.3 L126.3,346.8 L127.3,346.3 L128.3,345.5 L129.3,345.0 L130.3,344.0 L131.3,343.2 L132.3,342.5 L133.3,341.5 L134.3,340.8 L135.3,339.9 L136.3,338.9 L137.3,338.0 L138.3,337.0 L139.3,335.9 L140.3,334.9 L141.3,333.7 L142.3,332.8 L143.3,332.0 L144.3,331.2 L145.3,330.4 L146.3,329.8 L147.3,329.0 L148.3,328.5 L149.3,328.1 L150.3,327.8 L151.3,327.8 L152.3,327.8 L153.3,327.9 L154.3,328.4 L155.3,328.8 L156.3,329.4 L157.3,330.1 L158.3,330.7 L159.3,331.5 L160.3,332.4 L161.3,333.5 L162.3,334.5 L163.3,335.5 L164.3,336.6 L165.3,337.3 L166.3,338.4 L167.3,339.6 L168.3,340.9 L169.3,342.4 L170.3,343.8 L171.3,345.1 L172.3,346.2 L173.3,347.4 L174.3,348.6 L175.3,349.6 L176.3,350.5 L177.3,351.5 L178.3,352.2 L179.3,353.0 L180.3,353.8 L181.3,354.4 L182.3,355.2 L183.3,355.9 L184.3,356.5 L185.3,357.1 L186.3,357.4 L187.3,357.7 L188.3,358.1 L189.3,358.3 L190.3,358.9 L191.3,359.1 L192.3,359.3 L193.3,359.6 L194.3,359.6 L195.3,359.7 L196.3,359.9 L197.3,360.0 L198.3,360.1 L199.3,360.2 L200.3,360.3 L201.3,360.3 L202.3,360.4 L203.3,360.4 L204.3,360.2 L205.3,360.2 L206.3,360.1 L207.3,360.0 L208.3,360.3 L209.3,360.4 L210.3,360.5 L211.3,360.6 L212.3,360.6 L213.3,360.6 L214.3,360.5 L215.3,360.6 L216.3,360.7 L217.3,360.6 L218.3,360.5 L219.3,360.5 L220.3,360.4 L221.3,360.3 L222.3,360.6 L223.3,360.6 L224.3,360.6 L225.3,360.7 L226.3,360.6 L227.3,360.6 L228.3,360.6 L229.3,360.6 L230.3,360.5 L231.3,360.5 L232.3,360.5 L233.3,360.4 L234.3,360.3 L235.3,360.4 L236.3,360.4 L237.3,360.5 L238.3,360.6 L239.3,360.5 L240.3,360.5 L241.3,360.5 L242.3,360.4 L243.3,360.5 L244.3,360.5 L245.3,360.5 L246.3,360.5 L247.3,360.3 L248.3,360.4 L249.3,360.3 L250.3,360.4 L251.3,360.5 L252.3,360.4 L253.3,360.4 L254.3,360.3 L255.3,360.2 L256.3,360.3 L257.3,360.3 L258.3,360.5 L259.3,360.5 L260.3,360.7 L261.3,360.6 L262.3,360.4 L263.3,360.2 L264.3,360.2 L265.3,360.3 L266.3,360.4 L267.3,360.5 L268.3,360.3 L269.3,360.4 L270.3,360.5 L271.3,360.6 L272.3,360.7 L273.3,360.4 L274.3,360.5 L275.3,360.3 L276.3,360.3 L277.3,360.6 L278.3,360.6 L279.3,360.7 L280.3,360.7 L281.3,360.5 L282.3,360.6 L283.3,360.4 L284.3,360.5 L285.3,360.7 L286.3,360.6 L287.3,360.7 L288.3,360.7 L289.3,360.6 L290.3,360.6 L291.3,360.6 L292.3,360.6 L293.3,360.5 L294.3,360.5 L295.3,360.5 L296.3,360.4 L297.3,360.4 L298.3,360.4 L299.3,360.4 L300.3,360.4 L301.3,360.5 L302.3,360.6 L303.3,360.6 L304.3,360.6 L305.3,360.5 L306.3,360.5 L307.3,360.4 L308.3,360.7 L309.3,360.7 L310.3,360.6 L311.3,360.6 L312.3,360.5 L313.3,360.5 L314.3,360.4 L315.3,360.5 L316.3,360.6 L317.3,360.6 L318.3,360.6" fill="none" stroke="#bf9500" stroke-width="2.0" stroke-linejoin="round" />
<line x1="28.70" y1="321.26" x2="319.10" y2="321.26" stroke="#000" stroke-width="1.6" />
<path d="M114.3,404.6 L115.3,404.5 L116.3,404.4 L117.3,404.3 L118.3,404.2 L119.3,404.1 L120.3,403.9 L121.3,403.7 L122.3,403.5 L123.3,403.3 L124.3,403.0 L125.3,402.7 L126.3,402.3 L127.3,401.9 L128.3,401.5 L129.3,401.0 L130.3,400.4 L131.3,399.8 L132.3,399.1 L133.3,398.4 L134.3,397.6 L135.3,396.8 L136.3,395.9 L137.3,394.9 L138.3,393.9 L139.3,392.8 L140.3,391.7 L141.3,390.6 L142.3,389.4 L143.3,388.2 L144.3,387.0 L145.3,385.8 L146.3,384.6 L147.3,383.4 L148.3,382.3 L149.3,381.2 L150.3,380.1 L151.3,379.1 L152.3,378.3 L153.3,377.4 L154.3,376.7 L155.3,376.1 L156.3,375.7 L157.3,375.3 L158.3,375.1 L159.3,375.0 L160.3,375.0 L161.3,375.2 L162.3,375.5 L163.3,375.9 L164.3,376.4 L165.3,377.0 L166.3,377.7 L167.3,378.6 L168.3,379.5 L169.3,380.4 L170.3,381.4 L171.3,382.5 L172.3,383.6 L173.3,384.8 L174.3,385.9 L175.3,387.1 L176.3,388.3 L177.3,389.4 L178.3,390.6 L179.3,391.7 L180.3,392.7 L181.3,393.8 L182.3,394.8 L183.3,395.7 L184.3,396.6 L185.3,397.4 L186.3,398.2 L187.3,398.9 L188.3,399.6 L189.3,400.2 L190.3,400.7 L191.3,401.3 L192.3,401.7 L193.3,402.1 L194.3,402.5 L195.3,402.8 L196.3,403.1 L197.3,403.4 L198.3,403.6 L199.3,403.8 L200.3,404.0 L201.3,404.1 L202.3,404.2 L203.3,404.3 L204.3,404.4 L205.3,404.5 L206.3,404.6 L206.3,404.9 L114.3,404.9 Z" fill="url(#gR)"/>
<path d="M29.3,403.9 L30.3,403.9 L31.3,403.8 L32.3,403.8 L33.3,403.7 L34.3,403.6 L35.3,403.6 L36.3,403.5 L37.3,403.4 L38.3,403.4 L39.3,403.3 L40.3,403.2 L41.3,403.1 L42.3,403.0 L43.3,402.9 L44.3,402.9 L45.3,402.8 L46.3,402.7 L47.3,402.6 L48.3,402.5 L49.3,402.4 L50.3,402.3 L51.3,402.1 L52.3,402.0 L53.3,401.9 L54.3,401.8 L55.3,401.7 L56.3,401.6 L57.3,401.4 L58.3,401.3 L59.3,401.2 L60.3,401.0 L61.3,400.9 L62.3,400.8 L63.3,400.6 L64.3,400.5 L65.3,400.3 L66.3,400.2 L67.3,400.0 L68.3,399.9 L69.3,399.7 L70.3,399.6 L71.3,399.4 L72.3,399.3 L73.3,399.1 L74.3,399.0 L75.3,398.8 L76.3,398.7 L77.3,398.5 L78.3,398.4 L79.3,398.2 L80.3,398.1 L81.3,397.9 L82.3,397.7 L83.3,397.6 L84.3,397.4 L85.3,397.3 L86.3,397.2 L87.3,397.0 L88.3,396.9 L89.3,396.7 L90.3,396.6 L91.3,396.5 L92.3,396.3 L93.3,396.2 L94.3,396.1 L95.3,396.0 L96.3,395.9 L97.3,395.8 L98.3,395.7 L99.3,395.6 L100.3,395.5 L101.3,395.4 L102.3,395.3 L103.3,395.2 L104.3,395.1 L105.3,395.1 L106.3,395.0 L107.3,394.9 L108.3,394.9 L109.3,394.8 L110.3,394.8 L111.3,394.8 L112.3,394.7 L113.3,394.7 L114.3,394.7 L115.3,394.7 L116.3,394.7 L117.3,394.7 L118.3,394.7 L119.3,394.8 L120.3,394.8 L121.3,394.9 L122.3,395.0 L123.3,395.0 L124.3,395.1 L125.3,395.2 L126.3,395.4 L127.3,395.5 L128.3,395.6 L129.3,395.8 L130.3,395.9 L131.3,396.1 L132.3,396.3 L133.3,396.4 L134.3,396.6 L135.3,396.8 L136.3,397.0 L137.3,397.2 L138.3,397.4 L139.3,397.6 L140.3,397.9 L141.3,398.1 L142.3,398.3 L143.3,398.5 L144.3,398.7 L145.3,399.0 L146.3,399.2 L147.3,399.4 L148.3,399.6 L149.3,399.8 L150.3,400.0 L151.3,400.2 L152.3,400.4 L153.3,400.6 L154.3,400.8 L155.3,401.0 L156.3,401.2 L157.3,401.4 L158.3,401.6 L159.3,401.8 L160.3,401.9 L161.3,402.1 L162.3,402.2 L163.3,402.4 L164.3,402.5 L165.3,402.7 L166.3,402.8 L167.3,403.0 L168.3,403.1 L169.3,403.2 L170.3,403.3 L171.3,403.4 L172.3,403.5 L173.3,403.6 L174.3,403.7 L175.3,403.8 L176.3,403.9 L177.3,403.9 L178.3,404.0 L179.3,404.1 L180.3,404.1 L181.3,404.2 L182.3,404.3 L183.3,404.3 L184.3,404.4 L185.3,404.4 L186.3,404.4 L187.3,404.5 L188.3,404.5 L189.3,404.6 L190.3,404.6 L190.3,404.9 L29.3,404.9 Z" fill="url(#gG2)"/>
<path d="M29.3,404.0 L30.3,403.8 L31.3,403.7 L32.3,403.6 L33.3,403.4 L34.3,403.5 L35.3,403.5 L36.3,403.4 L37.3,403.4 L38.3,403.3 L39.3,403.2 L40.3,403.2 L41.3,402.9 L42.3,403.0 L43.3,403.0 L44.3,402.8 L45.3,402.8 L46.3,402.6 L47.3,402.5 L48.3,402.6 L49.3,402.5 L50.3,402.4 L51.3,402.4 L52.3,402.1 L53.3,402.1 L54.3,402.0 L55.3,401.9 L56.3,401.7 L57.3,401.6 L58.3,401.4 L59.3,401.2 L60.3,401.3 L61.3,401.1 L62.3,400.9 L63.3,400.8 L64.3,400.6 L65.3,400.5 L66.3,400.4 L67.3,400.3 L68.3,400.2 L69.3,399.9 L70.3,399.7 L71.3,399.4 L72.3,399.1 L73.3,399.1 L74.3,399.1 L75.3,398.9 L76.3,398.7 L77.3,398.5 L78.3,398.3 L79.3,398.2 L80.3,398.1 L81.3,397.7 L82.3,397.7 L83.3,397.6 L84.3,397.4 L85.3,397.4 L86.3,397.1 L87.3,396.9 L88.3,396.7 L89.3,396.7 L90.3,396.6 L91.3,396.6 L92.3,396.6 L93.3,396.4 L94.3,396.2 L95.3,396.1 L96.3,395.9 L97.3,395.9 L98.3,396.0 L99.3,395.7 L100.3,395.6 L101.3,395.4 L102.3,395.1 L103.3,395.0 L104.3,394.9 L105.3,394.9 L106.3,394.9 L107.3,394.9 L108.3,394.8 L109.3,394.6 L110.3,394.6 L111.3,394.4 L112.3,394.3 L113.3,394.4 L114.3,394.1 L115.3,394.3 L116.3,394.3 L117.3,394.1 L118.3,394.1 L119.3,393.9 L120.3,393.7 L121.3,393.7 L122.3,393.6 L123.3,393.6 L124.3,393.4 L125.3,393.3 L126.3,393.1 L127.3,392.6 L128.3,392.3 L129.3,391.9 L130.3,391.3 L131.3,391.0 L132.3,390.5 L133.3,390.0 L134.3,389.4 L135.3,388.7 L136.3,388.0 L137.3,387.2 L138.3,386.4 L139.3,385.4 L140.3,384.6 L141.3,383.6 L142.3,382.5 L143.3,381.6 L144.3,380.5 L145.3,379.6 L146.3,378.7 L147.3,377.8 L148.3,376.9 L149.3,376.1 L150.3,375.4 L151.3,374.8 L152.3,374.1 L153.3,373.4 L154.3,372.7 L155.3,372.2 L156.3,372.1 L157.3,371.7 L158.3,371.7 L159.3,371.6 L160.3,371.7 L161.3,372.1 L162.3,372.5 L163.3,373.0 L164.3,373.8 L165.3,374.7 L166.3,375.5 L167.3,376.5 L168.3,377.5 L169.3,378.6 L170.3,379.7 L171.3,381.0 L172.3,382.3 L173.3,383.6 L174.3,384.9 L175.3,386.2 L176.3,387.6 L177.3,388.7 L178.3,389.9 L179.3,391.0 L180.3,392.0 L181.3,393.1 L182.3,394.2 L183.3,395.0 L184.3,396.0 L185.3,396.7 L186.3,397.5 L187.3,398.2 L188.3,399.1 L189.3,399.9 L190.3,400.7 L191.3,401.4 L192.3,401.8 L193.3,402.2 L194.3,402.6 L195.3,402.9 L196.3,403.1 L197.3,403.3 L198.3,403.4 L199.3,403.5 L200.3,403.7 L201.3,403.8 L202.3,404.1 L203.3,404.2 L204.3,404.5 L205.3,404.7 L206.3,404.6 L207.3,404.8 L208.3,404.7 L209.3,404.7 L210.3,404.7 L211.3,404.7 L212.3,404.8 L213.3,404.6 L214.3,404.6 L215.3,404.8 L216.3,404.8 L217.3,405.0 L218.3,405.1 L219.3,405.0 L220.3,405.0 L221.3,404.9 L222.3,404.9 L223.3,404.8 L224.3,404.9 L225.3,405.1 L226.3,405.1 L227.3,405.1 L228.3,404.9 L229.3,404.8 L230.3,404.9 L231.3,405.0 L232.3,405.0 L233.3,405.0 L234.3,404.9 L235.3,404.9 L236.3,404.9 L237.3,405.0 L238.3,405.1 L239.3,405.0 L240.3,405.1 L241.3,405.2 L242.3,405.1 L243.3,405.2 L244.3,405.1 L245.3,404.9 L246.3,404.9 L247.3,404.7 L248.3,404.8 L249.3,404.9 L250.3,404.9 L251.3,405.0 L252.3,404.8 L253.3,404.8 L254.3,404.6 L255.3,404.6 L256.3,404.7 L257.3,404.7 L258.3,405.0 L259.3,404.8 L260.3,404.9 L261.3,404.9 L262.3,404.6 L263.3,404.8 L264.3,404.8 L265.3,404.8 L266.3,404.9 L267.3,405.1 L268.3,405.0 L269.3,404.9 L270.3,404.9 L271.3,404.6 L272.3,404.6 L273.3,404.8 L274.3,404.8 L275.3,404.8 L276.3,404.8 L277.3,404.7 L278.3,404.7 L279.3,404.7 L280.3,404.8 L281.3,404.9 L282.3,404.9 L283.3,405.0 L284.3,404.9 L285.3,405.0 L286.3,405.0 L287.3,405.1 L288.3,405.1 L289.3,404.9 L290.3,404.9 L291.3,404.9 L292.3,404.8 L293.3,404.9 L294.3,405.0 L295.3,405.1 L296.3,405.1 L297.3,405.1 L298.3,405.2 L299.3,405.0 L300.3,405.0 L301.3,405.1 L302.3,404.9 L303.3,405.0 L304.3,405.0 L305.3,405.0 L306.3,405.1 L307.3,405.0 L308.3,405.1 L309.3,405.0 L310.3,404.9 L311.3,404.9 L312.3,404.8 L313.3,404.8 L314.3,405.0 L315.3,405.1 L316.3,405.3 L317.3,405.2 L318.3,405.1" fill="none" stroke="#a8003a" stroke-width="2.0" stroke-linejoin="round" />
<line x1="28.70" y1="365.02" x2="319.10" y2="365.02" stroke="#000" stroke-width="1.6" />
<path d="M121.3,447.1 L122.3,447.0 L123.3,446.9 L124.3,446.8 L125.3,446.7 L126.3,446.5 L127.3,446.4 L128.3,446.2 L129.3,446.0 L130.3,445.7 L131.3,445.4 L132.3,445.1 L133.3,444.7 L134.3,444.3 L135.3,443.9 L136.3,443.4 L137.3,442.9 L138.3,442.3 L139.3,441.6 L140.3,440.9 L141.3,440.2 L142.3,439.4 L143.3,438.5 L144.3,437.6 L145.3,436.7 L146.3,435.7 L147.3,434.7 L148.3,433.6 L149.3,432.6 L150.3,431.5 L151.3,430.4 L152.3,429.3 L153.3,428.3 L154.3,427.3 L155.3,426.3 L156.3,425.4 L157.3,424.5 L158.3,423.7 L159.3,423.0 L160.3,422.4 L161.3,421.8 L162.3,421.4 L163.3,421.1 L164.3,420.9 L165.3,420.8 L166.3,420.8 L167.3,421.0 L168.3,421.2 L169.3,421.6 L170.3,422.0 L171.3,422.6 L172.3,423.2 L173.3,424.0 L174.3,424.8 L175.3,425.6 L176.3,426.5 L177.3,427.5 L178.3,428.5 L179.3,429.5 L180.3,430.5 L181.3,431.6 L182.3,432.6 L183.3,433.6 L184.3,434.7 L185.3,435.6 L186.3,436.6 L187.3,437.5 L188.3,438.4 L189.3,439.2 L190.3,440.0 L191.3,440.7 L192.3,441.4 L193.3,442.1 L194.3,442.7 L195.3,443.2 L196.3,443.7 L197.3,444.2 L198.3,444.6 L199.3,444.9 L200.3,445.3 L201.3,445.6 L202.3,445.8 L203.3,446.0 L204.3,446.2 L205.3,446.4 L206.3,446.6 L207.3,446.7 L208.3,446.8 L209.3,446.9 L210.3,447.0 L211.3,447.1 L211.3,447.4 L121.3,447.4 Z" fill="url(#gR)"/>
<path d="M29.3,446.8 L30.3,446.8 L31.3,446.7 L32.3,446.7 L33.3,446.7 L34.3,446.6 L35.3,446.6 L36.3,446.5 L37.3,446.5 L38.3,446.4 L39.3,446.4 L40.3,446.3 L41.3,446.3 L42.3,446.2 L43.3,446.2 L44.3,446.1 L45.3,446.0 L46.3,446.0 L47.3,445.9 L48.3,445.8 L49.3,445.7 L50.3,445.7 L51.3,445.6 L52.3,445.5 L53.3,445.4 L54.3,445.3 L55.3,445.2 L56.3,445.1 L57.3,445.0 L58.3,444.9 L59.3,444.8 L60.3,444.7 L61.3,444.6 L62.3,444.5 L63.3,444.4 L64.3,444.3 L65.3,444.2 L66.3,444.0 L67.3,443.9 L68.3,443.8 L69.3,443.7 L70.3,443.5 L71.3,443.4 L72.3,443.3 L73.3,443.1 L74.3,443.0 L75.3,442.8 L76.3,442.7 L77.3,442.5 L78.3,442.4 L79.3,442.2 L80.3,442.1 L81.3,441.9 L82.3,441.8 L83.3,441.6 L84.3,441.5 L85.3,441.3 L86.3,441.2 L87.3,441.0 L88.3,440.8 L89.3,440.7 L90.3,440.5 L91.3,440.4 L92.3,440.2 L93.3,440.0 L94.3,439.9 L95.3,439.7 L96.3,439.6 L97.3,439.4 L98.3,439.3 L99.3,439.1 L100.3,439.0 L101.3,438.8 L102.3,438.7 L103.3,438.6 L104.3,438.4 L105.3,438.3 L106.3,438.1 L107.3,438.0 L108.3,437.9 L109.3,437.8 L110.3,437.7 L111.3,437.5 L112.3,437.4 L113.3,437.3 L114.3,437.2 L115.3,437.1 L116.3,437.1 L117.3,437.0 L118.3,436.9 L119.3,436.8 L120.3,436.8 L121.3,436.7 L122.3,436.6 L123.3,436.6 L124.3,436.5 L125.3,436.5 L126.3,436.5 L127.3,436.4 L128.3,436.4 L129.3,436.4 L130.3,436.4 L131.3,436.4 L132.3,436.4 L133.3,436.4 L134.3,436.5 L135.3,436.5 L136.3,436.5 L137.3,436.6 L138.3,436.7 L139.3,436.7 L140.3,436.8 L141.3,436.9 L142.3,437.0 L143.3,437.1 L144.3,437.2 L145.3,437.4 L146.3,437.5 L147.3,437.6 L148.3,437.8 L149.3,437.9 L150.3,438.1 L151.3,438.2 L152.3,438.4 L153.3,438.6 L154.3,438.8 L155.3,438.9 L156.3,439.1 L157.3,439.3 L158.3,439.5 L159.3,439.7 L160.3,439.9 L161.3,440.1 L162.3,440.3 L163.3,440.5 L164.3,440.7 L165.3,440.9 L166.3,441.1 L167.3,441.3 L168.3,441.5 L169.3,441.7 L170.3,441.8 L171.3,442.0 L172.3,442.2 L173.3,442.4 L174.3,442.6 L175.3,442.8 L176.3,443.0 L177.3,443.1 L178.3,443.3 L179.3,443.5 L180.3,443.7 L181.3,443.8 L182.3,444.0 L183.3,444.1 L184.3,444.3 L185.3,444.4 L186.3,444.6 L187.3,444.7 L188.3,444.8 L189.3,445.0 L190.3,445.1 L191.3,445.2 L192.3,445.3 L193.3,445.4 L194.3,445.5 L195.3,445.6 L196.3,445.7 L197.3,445.8 L198.3,445.9 L199.3,446.0 L200.3,446.1 L201.3,446.2 L202.3,446.2 L203.3,446.3 L204.3,446.4 L205.3,446.4 L206.3,446.5 L207.3,446.6 L208.3,446.6 L209.3,446.7 L210.3,446.7 L211.3,446.8 L212.3,446.8 L213.3,446.9 L214.3,446.9 L215.3,446.9 L216.3,447.0 L217.3,447.0 L218.3,447.0 L219.3,447.1 L220.3,447.1 L220.3,447.4 L29.3,447.4 Z" fill="url(#gG2)"/>
<path d="M29.3,446.9 L30.3,446.8 L31.3,446.9 L32.3,446.7 L33.3,446.8 L34.3,446.8 L35.3,446.6 L36.3,446.5 L37.3,446.5 L38.3,446.4 L39.3,446.4 L40.3,446.5 L41.3,446.3 L42.3,446.2 L43.3,446.1 L44.3,445.8 L45.3,445.8 L46.3,445.8 L47.3,445.7 L48.3,445.6 L49.3,445.6 L50.3,445.5 L51.3,445.4 L52.3,445.3 L53.3,445.4 L54.3,445.4 L55.3,445.3 L56.3,445.1 L57.3,444.9 L58.3,444.7 L59.3,444.7 L60.3,444.6 L61.3,444.5 L62.3,444.3 L63.3,444.1 L64.3,443.9 L65.3,443.8 L66.3,443.8 L67.3,443.8 L68.3,443.8 L69.3,443.6 L70.3,443.5 L71.3,443.4 L72.3,443.3 L73.3,443.2 L74.3,443.1 L75.3,443.0 L76.3,442.8 L77.3,442.6 L78.3,442.3 L79.3,442.2 L80.3,442.0 L81.3,441.8 L82.3,441.8 L83.3,441.7 L84.3,441.6 L85.3,441.4 L86.3,441.2 L87.3,440.9 L88.3,440.7 L89.3,440.6 L90.3,440.4 L91.3,440.4 L92.3,440.2 L93.3,440.1 L94.3,439.8 L95.3,439.6 L96.3,439.6 L97.3,439.4 L98.3,439.1 L99.3,439.0 L100.3,438.7 L101.3,438.7 L102.3,438.7 L103.3,438.8 L104.3,438.6 L105.3,438.4 L106.3,438.1 L107.3,437.8 L108.3,437.8 L109.3,437.7 L110.3,437.8 L111.3,437.6 L112.3,437.6 L113.3,437.5 L114.3,437.2 L115.3,437.1 L116.3,436.7 L117.3,436.4 L118.3,436.4 L119.3,436.4 L120.3,436.6 L121.3,436.6 L122.3,436.4 L123.3,436.1 L124.3,435.9 L125.3,435.8 L126.3,435.6 L127.3,435.5 L128.3,435.3 L129.3,434.9 L130.3,434.7 L131.3,434.4 L132.3,434.0 L133.3,433.8 L134.3,433.5 L135.3,433.2 L136.3,432.9 L137.3,432.3 L138.3,431.6 L139.3,431.0 L140.3,430.2 L141.3,429.5 L142.3,428.7 L143.3,428.1 L144.3,427.5 L145.3,426.7 L146.3,426.0 L147.3,425.0 L148.3,424.0 L149.3,423.1 L150.3,422.1 L151.3,421.3 L152.3,420.4 L153.3,419.4 L154.3,418.7 L155.3,417.8 L156.3,417.1 L157.3,416.5 L158.3,415.6 L159.3,415.1 L160.3,414.6 L161.3,414.4 L162.3,414.2 L163.3,413.9 L164.3,414.0 L165.3,414.1 L166.3,414.4 L167.3,414.8 L168.3,415.3 L169.3,415.7 L170.3,416.3 L171.3,417.1 L172.3,417.8 L173.3,418.9 L174.3,419.9 L175.3,421.0 L176.3,422.2 L177.3,423.2 L178.3,424.3 L179.3,425.4 L180.3,426.5 L181.3,427.9 L182.3,429.0 L183.3,430.3 L184.3,431.5 L185.3,432.6 L186.3,433.7 L187.3,434.7 L188.3,435.7 L189.3,436.7 L190.3,437.7 L191.3,438.6 L192.3,439.4 L193.3,440.2 L194.3,440.8 L195.3,441.3 L196.3,441.9 L197.3,442.3 L198.3,443.0 L199.3,443.4 L200.3,443.8 L201.3,444.2 L202.3,444.5 L203.3,444.9 L204.3,445.1 L205.3,445.4 L206.3,445.8 L207.3,446.0 L208.3,446.1 L209.3,446.3 L210.3,446.4 L211.3,446.6 L212.3,446.9 L213.3,446.8 L214.3,446.9 L215.3,447.0 L216.3,446.9 L217.3,447.1 L218.3,446.8 L219.3,446.7 L220.3,446.9 L221.3,446.8 L222.3,447.0 L223.3,447.1 L224.3,447.0 L225.3,447.3 L226.3,447.2 L227.3,447.2 L228.3,447.3 L229.3,447.1 L230.3,447.2 L231.3,447.4 L232.3,447.4 L233.3,447.6 L234.3,447.4 L235.3,447.2 L236.3,447.2 L237.3,447.1 L238.3,447.3 L239.3,447.6 L240.3,447.5 L241.3,447.5 L242.3,447.5 L243.3,447.3 L244.3,447.3 L245.3,447.3 L246.3,447.4 L247.3,447.4 L248.3,447.4 L249.3,447.4 L250.3,447.3 L251.3,447.3 L252.3,447.5 L253.3,447.5 L254.3,447.4 L255.3,447.5 L256.3,447.5 L257.3,447.6 L258.3,447.7 L259.3,447.7 L260.3,447.5 L261.3,447.3 L262.3,447.3 L263.3,447.3 L264.3,447.4 L265.3,447.5 L266.3,447.5 L267.3,447.4 L268.3,447.4 L269.3,447.5 L270.3,447.5 L271.3,447.6 L272.3,447.4 L273.3,447.3 L274.3,447.4 L275.3,447.4 L276.3,447.6 L277.3,447.7 L278.3,447.4 L279.3,447.3 L280.3,447.4 L281.3,447.3 L282.3,447.4 L283.3,447.4 L284.3,447.4 L285.3,447.4 L286.3,447.4 L287.3,447.3 L288.3,447.4 L289.3,447.4 L290.3,447.3 L291.3,447.5 L292.3,447.5 L293.3,447.5 L294.3,447.7 L295.3,447.5 L296.3,447.5 L297.3,447.6 L298.3,447.3 L299.3,447.4 L300.3,447.4 L301.3,447.3 L302.3,447.4 L303.3,447.3 L304.3,447.3 L305.3,447.2 L306.3,447.2 L307.3,447.1 L308.3,447.3 L309.3,447.3 L310.3,447.3 L311.3,447.3 L312.3,447.2 L313.3,447.4 L314.3,447.5 L315.3,447.5 L316.3,447.5 L317.3,447.4 L318.3,447.4" fill="none" stroke="#0565ab" stroke-width="2.0" stroke-linejoin="round" />
<line x1="28.70" y1="408.78" x2="319.10" y2="408.78" stroke="#000" stroke-width="1.6" />
<path d="M119.3,491.1 L120.3,491.0 L121.3,490.9 L122.3,490.8 L123.3,490.7 L124.3,490.5 L125.3,490.4 L126.3,490.2 L127.3,490.0 L128.3,489.7 L129.3,489.4 L130.3,489.1 L131.3,488.8 L132.3,488.4 L133.3,487.9 L134.3,487.4 L135.3,486.9 L136.3,486.3 L137.3,485.6 L138.3,484.9 L139.3,484.1 L140.3,483.3 L141.3,482.4 L142.3,481.5 L143.3,480.5 L144.3,479.4 L145.3,478.3 L146.3,477.2 L147.3,476.0 L148.3,474.9 L149.3,473.6 L150.3,472.4 L151.3,471.2 L152.3,470.0 L153.3,468.8 L154.3,467.6 L155.3,466.5 L156.3,465.5 L157.3,464.5 L158.3,463.6 L159.3,462.7 L160.3,462.0 L161.3,461.4 L162.3,460.9 L163.3,460.5 L164.3,460.2 L165.3,460.1 L166.3,460.1 L167.3,460.3 L168.3,460.5 L169.3,460.9 L170.3,461.5 L171.3,462.1 L172.3,462.9 L173.3,463.8 L174.3,464.7 L175.3,465.8 L176.3,466.9 L177.3,468.1 L178.3,469.3 L179.3,470.5 L180.3,471.8 L181.3,473.0 L182.3,474.3 L183.3,475.6 L184.3,476.8 L185.3,478.0 L186.3,479.1 L187.3,480.2 L188.3,481.2 L189.3,482.2 L190.3,483.2 L191.3,484.0 L192.3,484.8 L193.3,485.6 L194.3,486.3 L195.3,486.9 L196.3,487.4 L197.3,487.9 L198.3,488.4 L199.3,488.8 L200.3,489.2 L201.3,489.5 L202.3,489.8 L203.3,490.0 L204.3,490.2 L205.3,490.4 L206.3,490.6 L207.3,490.7 L208.3,490.8 L209.3,490.9 L210.3,491.0 L211.3,491.1 L211.3,491.4 L119.3,491.4 Z" fill="url(#gR)"/>
<path d="M29.3,490.8 L30.3,490.8 L31.3,490.7 L32.3,490.7 L33.3,490.6 L34.3,490.6 L35.3,490.6 L36.3,490.5 L37.3,490.5 L38.3,490.4 L39.3,490.4 L40.3,490.3 L41.3,490.3 L42.3,490.2 L43.3,490.1 L44.3,490.1 L45.3,490.0 L46.3,489.9 L47.3,489.9 L48.3,489.8 L49.3,489.7 L50.3,489.6 L51.3,489.6 L52.3,489.5 L53.3,489.4 L54.3,489.3 L55.3,489.2 L56.3,489.1 L57.3,489.0 L58.3,488.9 L59.3,488.8 L60.3,488.7 L61.3,488.6 L62.3,488.5 L63.3,488.4 L64.3,488.3 L65.3,488.2 L66.3,488.1 L67.3,487.9 L68.3,487.8 L69.3,487.7 L70.3,487.6 L71.3,487.5 L72.3,487.3 L73.3,487.2 L74.3,487.1 L75.3,486.9 L76.3,486.8 L77.3,486.7 L78.3,486.6 L79.3,486.4 L80.3,486.3 L81.3,486.2 L82.3,486.0 L83.3,485.9 L84.3,485.8 L85.3,485.6 L86.3,485.5 L87.3,485.4 L88.3,485.2 L89.3,485.1 L90.3,485.0 L91.3,484.8 L92.3,484.7 L93.3,484.6 L94.3,484.5 L95.3,484.4 L96.3,484.2 L97.3,484.1 L98.3,484.0 L99.3,483.9 L100.3,483.8 L101.3,483.7 L102.3,483.6 L103.3,483.5 L104.3,483.4 L105.3,483.3 L106.3,483.3 L107.3,483.2 L108.3,483.1 L109.3,483.0 L110.3,483.0 L111.3,482.9 L112.3,482.9 L113.3,482.8 L114.3,482.8 L115.3,482.7 L116.3,482.7 L117.3,482.7 L118.3,482.6 L119.3,482.6 L120.3,482.6 L121.3,482.6 L122.3,482.6 L123.3,482.6 L124.3,482.6 L125.3,482.7 L126.3,482.7 L127.3,482.8 L128.3,482.9 L129.3,483.0 L130.3,483.1 L131.3,483.2 L132.3,483.3 L133.3,483.4 L134.3,483.6 L135.3,483.7 L136.3,483.9 L137.3,484.0 L138.3,484.2 L139.3,484.4 L140.3,484.6 L141.3,484.8 L142.3,485.0 L143.3,485.2 L144.3,485.4 L145.3,485.6 L146.3,485.8 L147.3,486.0 L148.3,486.2 L149.3,486.4 L150.3,486.6 L151.3,486.8 L152.3,487.0 L153.3,487.2 L154.3,487.4 L155.3,487.6 L156.3,487.8 L157.3,488.0 L158.3,488.2 L159.3,488.4 L160.3,488.5 L161.3,488.7 L162.3,488.9 L163.3,489.0 L164.3,489.2 L165.3,489.3 L166.3,489.4 L167.3,489.6 L168.3,489.7 L169.3,489.8 L170.3,489.9 L171.3,490.0 L172.3,490.1 L173.3,490.2 L174.3,490.3 L175.3,490.4 L176.3,490.5 L177.3,490.5 L178.3,490.6 L179.3,490.7 L180.3,490.7 L181.3,490.8 L182.3,490.9 L183.3,490.9 L184.3,490.9 L185.3,491.0 L186.3,491.0 L187.3,491.1 L188.3,491.1 L188.3,491.4 L29.3,491.4 Z" fill="url(#gG2)"/>
<path d="M29.3,490.9 L30.3,490.8 L31.3,490.6 L32.3,490.7 L33.3,490.7 L34.3,490.7 L35.3,490.8 L36.3,490.6 L37.3,490.4 L38.3,490.3 L39.3,490.2 L40.3,490.1 L41.3,490.1 L42.3,490.0 L43.3,490.0 L44.3,489.9 L45.3,490.0 L46.3,489.8 L47.3,489.7 L48.3,489.6 L49.3,489.4 L50.3,489.4 L51.3,489.4 L52.3,489.2 L53.3,489.3 L54.3,489.3 L55.3,489.2 L56.3,489.1 L57.3,488.9 L58.3,488.8 L59.3,488.7 L60.3,488.6 L61.3,488.6 L62.3,488.5 L63.3,488.5 L64.3,488.4 L65.3,488.4 L66.3,488.3 L67.3,488.2 L68.3,488.1 L69.3,487.9 L70.3,487.8 L71.3,487.6 L72.3,487.4 L73.3,487.4 L74.3,487.3 L75.3,487.1 L76.3,487.0 L77.3,486.6 L78.3,486.5 L79.3,486.3 L80.3,486.1 L81.3,486.0 L82.3,485.7 L83.3,485.7 L84.3,485.7 L85.3,485.6 L86.3,485.7 L87.3,485.6 L88.3,485.4 L89.3,485.1 L90.3,484.8 L91.3,484.7 L92.3,484.4 L93.3,484.4 L94.3,484.3 L95.3,484.3 L96.3,484.3 L97.3,484.2 L98.3,484.0 L99.3,483.8 L100.3,483.6 L101.3,483.5 L102.3,483.6 L103.3,483.5 L104.3,483.6 L105.3,483.4 L106.3,483.3 L107.3,483.2 L108.3,483.1 L109.3,483.1 L110.3,482.9 L111.3,482.9 L112.3,482.8 L113.3,482.7 L114.3,482.8 L115.3,482.6 L116.3,482.5 L117.3,482.5 L118.3,482.3 L119.3,482.3 L120.3,482.1 L121.3,481.9 L122.3,481.8 L123.3,481.6 L124.3,481.6 L125.3,481.6 L126.3,481.4 L127.3,481.3 L128.3,481.0 L129.3,480.6 L130.3,480.5 L131.3,480.1 L132.3,479.8 L133.3,479.6 L134.3,479.3 L135.3,479.1 L136.3,478.7 L137.3,478.4 L138.3,477.8 L139.3,477.2 L140.3,476.7 L141.3,475.9 L142.3,475.1 L143.3,474.5 L144.3,473.5 L145.3,472.7 L146.3,471.8 L147.3,470.6 L148.3,469.7 L149.3,468.7 L150.3,467.6 L151.3,466.6 L152.3,465.6 L153.3,464.5 L154.3,463.7 L155.3,462.8 L156.3,461.9 L157.3,461.0 L158.3,460.3 L159.3,459.7 L160.3,459.2 L161.3,459.0 L162.3,458.6 L163.3,458.4 L164.3,458.3 L165.3,458.2 L166.3,458.4 L167.3,458.8 L168.3,459.1 L169.3,459.8 L170.3,460.4 L171.3,461.0 L172.3,461.8 L173.3,462.7 L174.3,463.7 L175.3,464.9 L176.3,466.1 L177.3,467.4 L178.3,468.6 L179.3,469.9 L180.3,471.2 L181.3,472.4 L182.3,473.8 L183.3,475.0 L184.3,476.2 L185.3,477.5 L186.3,478.8 L187.3,480.1 L188.3,481.3 L189.3,482.3 L190.3,483.3 L191.3,484.1 L192.3,484.9 L193.3,485.6 L194.3,486.2 L195.3,486.8 L196.3,487.3 L197.3,487.8 L198.3,488.2 L199.3,488.5 L200.3,489.0 L201.3,489.3 L202.3,489.7 L203.3,490.0 L204.3,490.3 L205.3,490.4 L206.3,490.6 L207.3,490.6 L208.3,490.5 L209.3,490.5 L210.3,490.7 L211.3,490.7 L212.3,491.0 L213.3,491.3 L214.3,491.2 L215.3,491.5 L216.3,491.6 L217.3,491.6 L218.3,491.8 L219.3,491.8 L220.3,491.6 L221.3,491.6 L222.3,491.4 L223.3,491.2 L224.3,491.2 L225.3,491.3 L226.3,491.3 L227.3,491.4 L228.3,491.5 L229.3,491.3 L230.3,491.3 L231.3,491.3 L232.3,491.3 L233.3,491.2 L234.3,491.1 L235.3,491.2 L236.3,491.4 L237.3,491.6 L238.3,491.8 L239.3,491.8 L240.3,491.6 L241.3,491.5 L242.3,491.3 L243.3,491.1 L244.3,491.1 L245.3,491.3 L246.3,491.4 L247.3,491.6 L248.3,491.6 L249.3,491.4 L250.3,491.3 L251.3,491.2 L252.3,491.3 L253.3,491.6 L254.3,491.6 L255.3,491.6 L256.3,491.5 L257.3,491.3 L258.3,491.2 L259.3,491.3 L260.3,491.3 L261.3,491.4 L262.3,491.4 L263.3,491.4 L264.3,491.2 L265.3,491.2 L266.3,491.3 L267.3,491.2 L268.3,491.3 L269.3,491.2 L270.3,491.2 L271.3,491.1 L272.3,491.3 L273.3,491.3 L274.3,491.4 L275.3,491.7 L276.3,491.6 L277.3,491.6 L278.3,491.6 L279.3,491.5 L280.3,491.6 L281.3,491.6 L282.3,491.5 L283.3,491.5 L284.3,491.5 L285.3,491.3 L286.3,491.4 L287.3,491.3 L288.3,491.2 L289.3,491.2 L290.3,491.3 L291.3,491.2 L292.3,491.2 L293.3,491.3 L294.3,491.2 L295.3,491.2 L296.3,491.1 L297.3,491.0 L298.3,491.1 L299.3,491.2 L300.3,491.3 L301.3,491.4 L302.3,491.6 L303.3,491.6 L304.3,491.5 L305.3,491.5 L306.3,491.3 L307.3,491.2 L308.3,491.3 L309.3,491.2 L310.3,491.4 L311.3,491.4 L312.3,491.4 L313.3,491.5 L314.3,491.4 L315.3,491.5 L316.3,491.5 L317.3,491.6 L318.3,491.6" fill="none" stroke="#00843a" stroke-width="2.0" stroke-linejoin="round" />
<line x1="28.70" y1="452.54" x2="319.10" y2="452.54" stroke="#000" stroke-width="1.6" />
<line x1="120.20" y1="277.50" x2="120.20" y2="496.30" stroke="#000" stroke-width="2.2" stroke-dasharray="2.3 2.0"/>
<line x1="167.20" y1="277.50" x2="167.20" y2="496.30" stroke="#000" stroke-width="2.2" stroke-dasharray="2.3 2.0"/>
<rect x="28.70" y="277.50" width="290.40" height="218.80" fill="none" stroke="#000" stroke-width="1.6"/>
<line x1="28.70" y1="496.30" x2="28.70" y2="492.30" stroke="#000" stroke-width="1.3" />
<text x="27.90" y="508.40" font-size="10.5" text-anchor="middle"  stroke="#000" stroke-width="0.22">534.0</text>
<line x1="57.74" y1="496.30" x2="57.74" y2="493.80" stroke="#000" stroke-width="1.1" />
<line x1="86.78" y1="496.30" x2="86.78" y2="492.30" stroke="#000" stroke-width="1.3" />
<text x="85.98" y="508.40" font-size="10.5" text-anchor="middle"  stroke="#000" stroke-width="0.22">532.4</text>
<line x1="115.82" y1="496.30" x2="115.82" y2="493.80" stroke="#000" stroke-width="1.1" />
<line x1="144.86" y1="496.30" x2="144.86" y2="492.30" stroke="#000" stroke-width="1.3" />
<text x="144.06" y="508.40" font-size="10.5" text-anchor="middle"  stroke="#000" stroke-width="0.22">530.8</text>
<line x1="173.90" y1="496.30" x2="173.90" y2="493.80" stroke="#000" stroke-width="1.1" />
<line x1="202.94" y1="496.30" x2="202.94" y2="492.30" stroke="#000" stroke-width="1.3" />
<text x="202.14" y="508.40" font-size="10.5" text-anchor="middle"  stroke="#000" stroke-width="0.22">529.2</text>
<line x1="231.98" y1="496.30" x2="231.98" y2="493.80" stroke="#000" stroke-width="1.1" />
<line x1="261.02" y1="496.30" x2="261.02" y2="492.30" stroke="#000" stroke-width="1.3" />
<text x="260.22" y="508.40" font-size="10.5" text-anchor="middle"  stroke="#000" stroke-width="0.22">527.6</text>
<line x1="290.06" y1="496.30" x2="290.06" y2="493.80" stroke="#000" stroke-width="1.1" />
<line x1="319.10" y1="496.30" x2="319.10" y2="492.30" stroke="#000" stroke-width="1.3" />
<text x="318.30" y="508.40" font-size="10.5" text-anchor="middle"  stroke="#000" stroke-width="0.22">526.0</text>
<text x="8.90" y="291.80" font-size="17.5" text-anchor="start" >c</text>
<text x="31.10" y="289.40" font-size="10.3" text-anchor="start"  stroke="#000" stroke-width="0.08">ZnO@Ag8%</text>
<text x="33.80" y="332.60" font-size="10.3" text-anchor="start"  stroke="#000" stroke-width="0.08">ZnO@Ag6%</text>
<text x="30.50" y="376.90" font-size="10.3" text-anchor="start"  stroke="#000" stroke-width="0.08">ZnO@Ag4%</text>
<text x="31.10" y="421.20" font-size="10.3" text-anchor="start"  stroke="#000" stroke-width="0.08">ZnO@Ag2%</text>
<text x="31.60" y="464.40" font-size="10.3" text-anchor="start"  stroke="#000" stroke-width="0.08">ZnO</text>
<text x="128.30" y="466.20" font-size="10.3" text-anchor="start"  stroke="#000" stroke-width="0.08">O 1s</text>
<text x="55.70" y="306.80" font-size="10.3" text-anchor="start"  stroke="#000" stroke-width="0.08">29%</text>
<text x="200.30" y="300.60" font-size="10.3" text-anchor="start"  stroke="#000" stroke-width="0.08">71%</text>
<text x="47.00" y="352.20" font-size="10.3" text-anchor="start"  stroke="#000" stroke-width="0.08">32%</text>
<text x="196.00" y="343.40" font-size="10.3" text-anchor="start"  stroke="#000" stroke-width="0.08">68%</text>
<text x="52.40" y="395.40" font-size="10.3" text-anchor="start"  stroke="#000" stroke-width="0.08">31%</text>
<text x="202.20" y="387.80" font-size="10.3" text-anchor="start"  stroke="#000" stroke-width="0.08">69%</text>
<text x="53.50" y="439.20" font-size="10.3" text-anchor="start"  stroke="#000" stroke-width="0.08">32%</text>
<text x="214.80" y="436.10" font-size="10.3" text-anchor="start"  stroke="#000" stroke-width="0.08">68%</text>
<text x="54.60" y="482.40" font-size="10.3" text-anchor="start"  stroke="#000" stroke-width="0.08">28%</text>
<text x="219.20" y="479.70" font-size="10.3" text-anchor="start"  stroke="#000" stroke-width="0.08">72%</text>
<line x1="76.50" y1="303.70" x2="109.30" y2="309.20" stroke="#000" stroke-width="1.0" />
<line x1="159.00" y1="297.00" x2="197.80" y2="297.00" stroke="#000" stroke-width="1.0" />
<line x1="70.30" y1="348.30" x2="102.50" y2="354.50" stroke="#000" stroke-width="1.0" />
<line x1="155.00" y1="339.00" x2="194.40" y2="339.00" stroke="#000" stroke-width="1.0" />
<line x1="77.50" y1="393.30" x2="109.30" y2="399.00" stroke="#000" stroke-width="1.0" />
<line x1="161.00" y1="384.30" x2="199.60" y2="384.30" stroke="#000" stroke-width="1.0" />
<line x1="76.50" y1="437.70" x2="108.20" y2="443.60" stroke="#000" stroke-width="1.0" />
<line x1="174.00" y1="431.30" x2="213.20" y2="431.30" stroke="#000" stroke-width="1.0" />
<line x1="76.50" y1="481.60" x2="108.20" y2="487.00" stroke="#000" stroke-width="1.0" />
<line x1="177.40" y1="476.20" x2="216.60" y2="476.20" stroke="#000" stroke-width="1.0" />
<text x="173.30" y="530.60" font-size="15.4" text-anchor="middle" >Binding Energy (eV)</text>
<text transform="translate(15.20,381.50) rotate(-90)" font-size="15.8" text-anchor="middle">Intensity (a.u.)</text>
<path d="M414.4,318.9 L415.4,318.8 L416.4,318.8 L417.4,318.8 L418.4,318.7 L419.4,318.6 L420.4,318.6 L421.4,318.5 L422.4,318.4 L423.4,318.2 L424.4,318.1 L425.4,317.9 L426.4,317.7 L427.4,317.5 L428.4,317.2 L429.4,316.9 L430.4,316.5 L431.4,316.1 L432.4,315.6 L433.4,315.1 L434.4,314.5 L435.4,313.9 L436.4,313.1 L437.4,312.4 L438.4,311.5 L439.4,310.6 L440.4,309.7 L441.4,308.7 L442.4,307.6 L443.4,306.5 L444.4,305.4 L445.4,304.3 L446.4,303.2 L447.4,302.1 L448.4,301.0 L449.4,299.9 L450.4,298.9 L451.4,298.0 L452.4,297.2 L453.4,296.5 L454.4,295.9 L455.4,295.4 L456.4,295.1 L457.4,294.9 L458.4,294.9 L459.4,295.1 L460.4,295.3 L461.4,295.8 L462.4,296.3 L463.4,297.0 L464.4,297.8 L465.4,298.7 L466.4,299.7 L467.4,300.7 L468.4,301.8 L469.4,302.9 L470.4,304.1 L471.4,305.2 L472.4,306.3 L473.4,307.4 L474.4,308.5 L475.4,309.5 L476.4,310.4 L477.4,311.4 L478.4,312.2 L479.4,313.0 L480.4,313.7 L481.4,314.4 L482.4,315.0 L483.4,315.5 L484.4,316.0 L485.4,316.4 L486.4,316.8 L487.4,317.1 L488.4,317.4 L489.4,317.7 L490.4,317.9 L491.4,318.1 L492.4,318.2 L493.4,318.3 L494.4,318.5 L495.4,318.6 L496.4,318.6 L497.4,318.7 L498.4,318.8 L499.4,318.8 L500.4,318.8 L501.4,318.9 L502.4,318.9 L502.4,319.2 L414.4,319.2 Z" fill="url(#gG)"/>
<path d="M537.4,318.9 L538.4,318.9 L539.4,318.9 L540.4,318.8 L541.4,318.8 L542.4,318.8 L543.4,318.8 L544.4,318.7 L545.4,318.7 L546.4,318.6 L547.4,318.6 L548.4,318.5 L549.4,318.4 L550.4,318.3 L551.4,318.2 L552.4,318.1 L553.4,317.9 L554.4,317.7 L555.4,317.5 L556.4,317.2 L557.4,316.9 L558.4,316.5 L559.4,316.1 L560.4,315.7 L561.4,315.2 L562.4,314.6 L563.4,313.9 L564.4,313.2 L565.4,312.3 L566.4,311.4 L567.4,310.5 L568.4,309.4 L569.4,308.2 L570.4,307.0 L571.4,305.7 L572.4,304.3 L573.4,302.9 L574.4,301.4 L575.4,299.9 L576.4,298.4 L577.4,296.8 L578.4,295.3 L579.4,293.8 L580.4,292.3 L581.4,290.9 L582.4,289.5 L583.4,288.3 L584.4,287.2 L585.4,286.3 L586.4,285.5 L587.4,284.9 L588.4,284.5 L589.4,284.2 L590.4,284.2 L591.4,284.4 L592.4,284.8 L593.4,285.4 L594.4,286.1 L595.4,287.0 L596.4,288.1 L597.4,289.3 L598.4,290.6 L599.4,292.0 L600.4,293.5 L601.4,295.0 L602.4,296.5 L603.4,298.1 L604.4,299.6 L605.4,301.1 L606.4,302.6 L607.4,304.1 L608.4,305.4 L609.4,306.8 L610.4,308.0 L611.4,309.2 L612.4,310.2 L613.4,311.2 L614.4,312.2 L615.4,313.0 L616.4,313.8 L617.4,314.4 L618.4,315.0 L619.4,315.6 L620.4,316.1 L621.4,316.5 L622.4,316.8 L623.4,317.2 L624.4,317.4 L625.4,317.7 L626.4,317.9 L627.4,318.0 L628.4,318.2 L629.4,318.3 L630.4,318.4 L631.4,318.5 L632.4,318.6 L633.4,318.6 L634.4,318.7 L635.4,318.7 L636.4,318.8 L637.4,318.8 L638.4,318.8 L639.4,318.8 L640.4,318.9 L641.4,318.9 L642.4,318.9 L642.4,319.2 L537.4,319.2 Z" fill="url(#gR)"/>
<path d="M410.4,319.8 L411.4,319.8 L412.4,319.8 L413.4,319.8 L414.4,319.8 L415.4,319.8 L416.4,319.8 L417.4,319.8 L418.4,319.8 L419.4,319.8 L420.4,319.8 L421.4,319.8 L422.4,319.8 L423.4,319.8 L424.4,319.8 L425.4,319.8 L426.4,319.8 L427.4,319.8 L428.4,319.8 L429.4,319.8 L430.4,319.8 L431.4,319.8 L432.4,319.8 L433.4,319.8 L434.4,319.8 L435.4,319.8 L436.4,319.8 L437.4,319.8 L438.4,319.8 L439.4,319.8 L440.4,319.8 L441.4,319.8 L442.4,319.8 L443.4,319.8 L444.4,319.8 L445.4,319.8 L446.4,319.8 L447.4,319.8 L448.4,319.8 L449.4,319.8 L450.4,319.8 L451.4,319.8 L452.4,319.8 L453.4,319.8 L454.4,319.8 L455.4,319.8 L456.4,319.8 L457.4,319.8 L458.4,319.8 L459.4,319.8 L460.4,319.8 L461.4,319.8 L462.4,319.8 L463.4,319.8 L464.4,319.8 L465.4,319.8 L466.4,319.8 L467.4,319.8 L468.4,319.8 L469.4,319.8 L470.4,319.8 L471.4,319.8 L472.4,319.8 L473.4,319.8 L474.4,319.8 L475.4,319.8 L476.4,319.8 L477.4,319.8 L478.4,319.8 L479.4,319.8 L480.4,319.8 L481.4,319.8 L482.4,319.8 L483.4,319.8 L484.4,319.8 L485.4,319.8 L486.4,319.8 L487.4,319.8 L488.4,319.8 L489.4,319.8 L490.4,319.8 L491.4,319.8 L492.4,319.8 L493.4,319.8 L494.4,319.8 L495.4,319.8 L496.4,319.8 L497.4,319.8 L498.4,319.8 L499.4,319.8 L500.4,319.8 L501.4,319.8 L502.4,319.8 L503.4,319.8 L504.4,319.8 L505.4,319.8 L506.4,319.8 L507.4,319.8 L508.4,319.8 L509.4,319.8 L510.4,319.8 L511.4,319.8 L512.4,319.8 L513.4,319.8 L514.4,319.8 L515.4,319.8 L516.4,319.8 L517.4,319.8 L518.4,319.8 L519.4,319.8 L520.4,319.8 L521.4,319.8 L522.4,319.8 L523.4,319.8 L524.4,319.8 L525.4,319.8 L526.4,319.8 L527.4,319.8 L528.4,319.8 L529.4,319.8 L530.4,319.8 L531.4,319.8 L532.4,319.8 L533.4,319.8 L534.4,319.8 L535.4,319.8 L536.4,319.8 L537.4,319.8 L538.4,319.8 L539.4,319.8 L540.4,319.8 L541.4,319.8 L542.4,319.8 L543.4,319.8 L544.4,319.8 L545.4,319.8 L546.4,319.8 L547.4,319.8 L548.4,319.8 L549.4,319.8 L550.4,319.8 L551.4,319.8 L552.4,319.8 L553.4,319.8 L554.4,319.8 L555.4,319.8 L556.4,319.8 L557.4,319.8 L558.4,319.8 L559.4,319.8 L560.4,319.8 L561.4,319.8 L562.4,319.8 L563.4,319.8 L564.4,319.8 L565.4,319.8 L566.4,319.8 L567.4,319.8 L568.4,319.8 L569.4,319.8 L570.4,319.8 L571.4,319.8 L572.4,319.8 L573.4,319.8 L574.4,319.8 L575.4,319.8 L576.4,319.8 L577.4,319.8 L578.4,319.8 L579.4,319.8 L580.4,319.8 L581.4,319.8 L582.4,319.8 L583.4,319.8 L584.4,319.8 L585.4,319.8 L586.4,319.8 L587.4,319.8 L588.4,319.8 L589.4,319.8 L590.4,319.8 L591.4,319.8 L592.4,319.8 L593.4,319.8 L594.4,319.8 L595.4,319.8 L596.4,319.8 L597.4,319.8 L598.4,319.8 L599.4,319.8 L600.4,319.8 L601.4,319.8 L602.4,319.8 L603.4,319.8 L604.4,319.8 L605.4,319.8 L606.4,319.8 L607.4,319.8 L608.4,319.8 L609.4,319.8 L610.4,319.8 L611.4,319.8 L612.4,319.8 L613.4,319.8 L614.4,319.8 L615.4,319.8 L616.4,319.8 L617.4,319.8 L618.4,319.8 L619.4,319.8 L620.4,319.8 L621.4,319.8 L622.4,319.8 L623.4,319.8 L624.4,319.8 L625.4,319.8 L626.4,319.8 L627.4,319.8 L628.4,319.8 L629.4,319.8 L630.4,319.8 L631.4,319.8 L632.4,319.8" fill="none" stroke="#1aff1a" stroke-width="1.8" stroke-linejoin="round" />
<path d="M366.4,319.1 L367.4,319.1 L368.4,319.1 L369.4,319.1 L370.4,319.1 L371.4,319.1 L372.4,319.1 L373.4,319.1 L374.4,319.1 L375.4,319.1 L376.4,319.1 L377.4,319.1 L378.4,319.1 L379.4,319.1 L380.4,319.1 L381.4,319.1 L382.4,319.1 L383.4,319.1 L384.4,319.1 L385.4,319.1 L386.4,319.1 L387.4,319.1 L388.4,319.1 L389.4,319.1 L390.4,319.1 L391.4,319.1 L392.4,319.1 L393.4,319.1 L394.4,319.0 L395.4,319.0 L396.4,319.0 L397.4,319.0 L398.4,319.0 L399.4,319.0 L400.4,319.0 L401.4,319.0 L402.4,319.0 L403.4,319.0 L404.4,319.0 L405.4,319.0 L406.4,319.0 L407.4,319.0 L408.4,319.0 L409.4,318.9 L410.4,318.9 L411.4,318.9 L412.4,318.9 L413.4,318.9 L414.4,318.8 L415.4,318.8 L416.4,318.8 L417.4,318.7 L418.4,318.7 L419.4,318.6 L420.4,318.5 L421.4,318.5 L422.4,318.3 L423.4,318.2 L424.4,318.1 L425.4,317.9 L426.4,317.7 L427.4,317.4 L428.4,317.2 L429.4,316.8 L430.4,316.5 L431.4,316.1 L432.4,315.6 L433.4,315.1 L434.4,314.5 L435.4,313.8 L436.4,313.1 L437.4,312.3 L438.4,311.5 L439.4,310.6 L440.4,309.6 L441.4,308.6 L442.4,307.6 L443.4,306.5 L444.4,305.4 L445.4,304.3 L446.4,303.1 L447.4,302.0 L448.4,300.9 L449.4,299.9 L450.4,298.9 L451.4,298.0 L452.4,297.1 L453.4,296.4 L454.4,295.8 L455.4,295.4 L456.4,295.0 L457.4,294.9 L458.4,294.9 L459.4,295.0 L460.4,295.3 L461.4,295.7 L462.4,296.3 L463.4,297.0 L464.4,297.8 L465.4,298.7 L466.4,299.7 L467.4,300.7 L468.4,301.8 L469.4,302.9 L470.4,304.0 L471.4,305.1 L472.4,306.3 L473.4,307.3 L474.4,308.4 L475.4,309.4 L476.4,310.4 L477.4,311.3 L478.4,312.1 L479.4,312.9 L480.4,313.6 L481.4,314.3 L482.4,314.9 L483.4,315.4 L484.4,315.9 L485.4,316.3 L486.4,316.7 L487.4,317.0 L488.4,317.3 L489.4,317.6 L490.4,317.8 L491.4,318.0 L492.4,318.1 L493.4,318.3 L494.4,318.4 L495.4,318.5 L496.4,318.5 L497.4,318.6 L498.4,318.7 L499.4,318.7 L500.4,318.7 L501.4,318.8 L502.4,318.8 L503.4,318.8 L504.4,318.8 L505.4,318.8 L506.4,318.8 L507.4,318.9 L508.4,318.9 L509.4,318.9 L510.4,318.9 L511.4,318.9 L512.4,318.9 L513.4,318.9 L514.4,318.9 L515.4,318.9 L516.4,318.9 L517.4,318.9 L518.4,318.9 L519.4,318.9 L520.4,318.9 L521.4,318.9 L522.4,318.9 L523.4,318.9 L524.4,318.9 L525.4,318.9 L526.4,318.9 L527.4,318.9 L528.4,318.9 L529.4,318.9 L530.4,318.9 L531.4,318.9 L532.4,318.9 L533.4,318.9 L534.4,318.8 L535.4,318.8 L536.4,318.8 L537.4,318.8 L538.4,318.8 L539.4,318.8 L540.4,318.8 L541.4,318.7 L542.4,318.7 L543.4,318.7 L544.4,318.7 L545.4,318.6 L546.4,318.6 L547.4,318.5 L548.4,318.4 L549.4,318.4 L550.4,318.3 L551.4,318.1 L552.4,318.0 L553.4,317.8 L554.4,317.6 L555.4,317.4 L556.4,317.2 L557.4,316.8 L558.4,316.5 L559.4,316.1 L560.4,315.6 L561.4,315.1 L562.4,314.5 L563.4,313.8 L564.4,313.1 L565.4,312.3 L566.4,311.4 L567.4,310.4 L568.4,309.3 L569.4,308.2 L570.4,307.0 L571.4,305.7 L572.4,304.3 L573.4,302.9 L574.4,301.4 L575.4,299.9 L576.4,298.3 L577.4,296.8 L578.4,295.2 L579.4,293.7 L580.4,292.2 L581.4,290.8 L582.4,289.5 L583.4,288.3 L584.4,287.2 L585.4,286.2 L586.4,285.5 L587.4,284.8 L588.4,284.4 L589.4,284.2 L590.4,284.2 L591.4,284.4 L592.4,284.8 L593.4,285.3 L594.4,286.1 L595.4,287.0 L596.4,288.1 L597.4,289.3 L598.4,290.6 L599.4,292.0 L600.4,293.4 L601.4,294.9 L602.4,296.5 L603.4,298.0 L604.4,299.6 L605.4,301.1 L606.4,302.6 L607.4,304.0 L608.4,305.4 L609.4,306.7 L610.4,308.0 L611.4,309.1 L612.4,310.2 L613.4,311.2 L614.4,312.1 L615.4,313.0 L616.4,313.7 L617.4,314.4 L618.4,315.0 L619.4,315.6 L620.4,316.0 L621.4,316.5 L622.4,316.8 L623.4,317.1 L624.4,317.4 L625.4,317.6 L626.4,317.8 L627.4,318.0 L628.4,318.2 L629.4,318.3 L630.4,318.4 L631.4,318.5 L632.4,318.5 L633.4,318.6 L634.4,318.7 L635.4,318.7 L636.4,318.7 L637.4,318.8 L638.4,318.8 L639.4,318.8 L640.4,318.8 L641.4,318.9 L642.4,318.9 L643.4,318.9 L644.4,318.9 L645.4,318.9 L646.4,318.9 L647.4,318.9 L648.4,318.9 L649.4,319.0 L650.4,319.0 L651.4,319.0 L652.4,319.0 L653.4,319.0 L654.4,319.0 L655.4,319.0 L656.4,319.0 L657.4,319.0 L658.4,319.0 L659.4,319.0 L660.4,319.0 L661.4,319.0 L662.4,319.0 L663.4,319.0 L664.4,319.0 L665.4,319.0 L666.4,319.0 L667.4,319.0 L668.4,319.1 L669.4,319.1 L670.4,319.1 L671.4,319.1 L672.4,319.1" fill="none" stroke="#ff7f00" stroke-width="1.4" stroke-linejoin="round" />
<path d="M366.4,316.8 L367.4,317.1 L368.4,320.2 L369.4,321.4 L370.4,320.7 L371.4,317.9 L372.4,318.3 L373.4,319.2 L374.4,317.4 L375.4,317.3 L376.4,319.5 L377.4,320.8 L378.4,320.6 L379.4,318.9 L380.4,320.2 L381.4,320.2 L382.4,318.2 L383.4,318.0 L384.4,319.0 L385.4,320.5 L386.4,320.1 L387.4,319.9 L388.4,319.1 L389.4,319.2 L390.4,317.8 L391.4,318.4 L392.4,320.5 L393.4,319.5 L394.4,318.8 L395.4,319.3 L396.4,320.5 L397.4,320.6 L398.4,319.4 L399.4,318.7 L400.4,317.6 L401.4,317.5 L402.4,318.7 L403.4,318.9 L404.4,318.9 L405.4,319.7 L406.4,319.9 L407.4,319.6 L408.4,319.7 L409.4,319.6 L410.4,319.1 L411.4,319.3 L412.4,318.0 L413.4,318.6 L414.4,318.9 L415.4,318.5 L416.4,319.4 L417.4,319.6 L418.4,319.5 L419.4,317.8 L420.4,318.5 L421.4,319.1 L422.4,318.1 L423.4,317.8 L424.4,318.1 L425.4,318.2 L426.4,317.1 L427.4,314.8 L428.4,313.7 L429.4,314.3 L430.4,315.3 L431.4,314.9 L432.4,312.8 L433.4,312.8 L434.4,312.2 L435.4,310.7 L436.4,310.3 L437.4,308.7 L438.4,308.9 L439.4,309.0 L440.4,307.9 L441.4,306.6 L442.4,306.1 L443.4,306.2 L444.4,305.0 L445.4,303.1 L446.4,302.6 L447.4,301.3 L448.4,299.4 L449.4,298.8 L450.4,298.4 L451.4,297.6 L452.4,296.8 L453.4,296.4 L454.4,295.9 L455.4,295.0 L456.4,294.2 L457.4,293.5 L458.4,292.4 L459.4,291.8 L460.4,292.6 L461.4,293.0 L462.4,294.1 L463.4,296.4 L464.4,297.8 L465.4,298.2 L466.4,299.6 L467.4,301.4 L468.4,301.7 L469.4,302.8 L470.4,304.0 L471.4,304.8 L472.4,306.2 L473.4,307.4 L474.4,307.7 L475.4,308.7 L476.4,310.1 L477.4,310.9 L478.4,312.4 L479.4,313.1 L480.4,314.2 L481.4,316.4 L482.4,315.0 L483.4,314.9 L484.4,317.0 L485.4,317.2 L486.4,315.8 L487.4,316.3 L488.4,319.0 L489.4,318.1 L490.4,317.2 L491.4,318.5 L492.4,318.1 L493.4,318.0 L494.4,317.9 L495.4,319.1 L496.4,319.9 L497.4,318.4 L498.4,319.2 L499.4,319.0 L500.4,318.4 L501.4,319.5 L502.4,319.9 L503.4,320.1 L504.4,320.0 L505.4,319.7 L506.4,319.7 L507.4,320.0 L508.4,320.8 L509.4,320.1 L510.4,319.4 L511.4,320.2 L512.4,319.5 L513.4,318.7 L514.4,318.9 L515.4,318.2 L516.4,316.9 L517.4,318.5 L518.4,318.4 L519.4,318.9 L520.4,319.9 L521.4,319.0 L522.4,319.2 L523.4,319.4 L524.4,319.1 L525.4,318.5 L526.4,318.6 L527.4,319.7 L528.4,320.6 L529.4,320.8 L530.4,320.2 L531.4,319.1 L532.4,317.6 L533.4,318.2 L534.4,320.1 L535.4,319.3 L536.4,319.2 L537.4,320.5 L538.4,320.0 L539.4,319.8 L540.4,319.9 L541.4,317.8 L542.4,317.2 L543.4,318.1 L544.4,318.9 L545.4,318.5 L546.4,317.7 L547.4,317.5 L548.4,317.8 L549.4,318.4 L550.4,319.0 L551.4,319.4 L552.4,318.6 L553.4,317.9 L554.4,317.5 L555.4,317.0 L556.4,317.5 L557.4,315.0 L558.4,313.0 L559.4,314.4 L560.4,314.6 L561.4,312.6 L562.4,311.1 L563.4,311.7 L564.4,310.2 L565.4,307.2 L566.4,306.3 L567.4,306.0 L568.4,305.8 L569.4,305.2 L570.4,304.7 L571.4,304.1 L572.4,302.1 L573.4,300.8 L574.4,299.5 L575.4,298.6 L576.4,298.3 L577.4,296.7 L578.4,295.1 L579.4,293.5 L580.4,291.9 L581.4,291.7 L582.4,289.8 L583.4,288.2 L584.4,288.1 L585.4,286.0 L586.4,284.2 L587.4,283.8 L588.4,283.7 L589.4,282.5 L590.4,280.8 L591.4,281.3 L592.4,282.9 L593.4,284.5 L594.4,285.8 L595.4,287.3 L596.4,288.2 L597.4,289.7 L598.4,291.1 L599.4,291.6 L600.4,293.4 L601.4,295.4 L602.4,296.0 L603.4,297.4 L604.4,299.2 L605.4,300.3 L606.4,302.6 L607.4,304.1 L608.4,305.3 L609.4,306.8 L610.4,309.3 L611.4,310.6 L612.4,309.4 L613.4,309.6 L614.4,310.7 L615.4,312.5 L616.4,313.9 L617.4,315.2 L618.4,316.0 L619.4,315.9 L620.4,316.5 L621.4,316.7 L622.4,317.0 L623.4,318.0 L624.4,318.7 L625.4,317.9 L626.4,316.2 L627.4,316.2 L628.4,317.9 L629.4,316.7 L630.4,316.3 L631.4,318.5 L632.4,318.6 L633.4,317.4 L634.4,319.2 L635.4,321.2 L636.4,319.7 L637.4,319.7 L638.4,320.9 L639.4,319.0 L640.4,320.1 L641.4,320.3 L642.4,318.1 L643.4,318.0 L644.4,318.2 L645.4,318.1 L646.4,318.0 L647.4,319.8 L648.4,320.0 L649.4,319.0 L650.4,320.0 L651.4,319.5 L652.4,319.1 L653.4,319.6 L654.4,319.0 L655.4,319.3 L656.4,319.2 L657.4,319.1 L658.4,318.5 L659.4,318.1 L660.4,319.0 L661.4,319.3 L662.4,318.1 L663.4,317.7 L664.4,318.1 L665.4,318.6 L666.4,319.2 L667.4,319.3 L668.4,318.7 L669.4,318.6 L670.4,318.1 L671.4,315.9 L672.4,316.9" fill="none" stroke="#ff7f00" stroke-width="1.3" stroke-linejoin="round" />
<path d="M404.4,377.9 L405.4,377.9 L406.4,377.8 L407.4,377.8 L408.4,377.8 L409.4,377.7 L410.4,377.7 L411.4,377.6 L412.4,377.6 L413.4,377.5 L414.4,377.4 L415.4,377.3 L416.4,377.2 L417.4,377.0 L418.4,376.9 L419.4,376.7 L420.4,376.5 L421.4,376.3 L422.4,376.0 L423.4,375.7 L424.4,375.4 L425.4,375.0 L426.4,374.6 L427.4,374.1 L428.4,373.6 L429.4,373.1 L430.4,372.5 L431.4,371.8 L432.4,371.1 L433.4,370.4 L434.4,369.6 L435.4,368.8 L436.4,367.9 L437.4,366.9 L438.4,366.0 L439.4,365.0 L440.4,364.0 L441.4,362.9 L442.4,361.9 L443.4,360.9 L444.4,359.8 L445.4,358.8 L446.4,357.8 L447.4,356.9 L448.4,356.0 L449.4,355.2 L450.4,354.4 L451.4,353.7 L452.4,353.2 L453.4,352.7 L454.4,352.3 L455.4,352.1 L456.4,351.9 L457.4,351.9 L458.4,352.0 L459.4,352.2 L460.4,352.6 L461.4,353.1 L462.4,353.6 L463.4,354.3 L464.4,355.0 L465.4,355.8 L466.4,356.7 L467.4,357.6 L468.4,358.6 L469.4,359.6 L470.4,360.6 L471.4,361.7 L472.4,362.7 L473.4,363.8 L474.4,364.8 L475.4,365.8 L476.4,366.8 L477.4,367.7 L478.4,368.6 L479.4,369.4 L480.4,370.2 L481.4,371.0 L482.4,371.7 L483.4,372.4 L484.4,373.0 L485.4,373.5 L486.4,374.0 L487.4,374.5 L488.4,374.9 L489.4,375.3 L490.4,375.6 L491.4,375.9 L492.4,376.2 L493.4,376.5 L494.4,376.7 L495.4,376.8 L496.4,377.0 L497.4,377.1 L498.4,377.3 L499.4,377.4 L500.4,377.5 L501.4,377.5 L502.4,377.6 L503.4,377.7 L504.4,377.7 L505.4,377.8 L506.4,377.8 L507.4,377.8 L508.4,377.9 L509.4,377.9 L510.4,377.9 L510.4,378.2 L404.4,378.2 Z" fill="url(#gG)"/>
<path d="M534.4,377.9 L535.4,377.9 L536.4,377.9 L537.4,377.8 L538.4,377.8 L539.4,377.8 L540.4,377.8 L541.4,377.7 L542.4,377.7 L543.4,377.6 L544.4,377.6 L545.4,377.5 L546.4,377.4 L547.4,377.4 L548.4,377.3 L549.4,377.1 L550.4,377.0 L551.4,376.8 L552.4,376.6 L553.4,376.4 L554.4,376.1 L555.4,375.8 L556.4,375.4 L557.4,375.0 L558.4,374.6 L559.4,374.0 L560.4,373.5 L561.4,372.8 L562.4,372.1 L563.4,371.3 L564.4,370.4 L565.4,369.5 L566.4,368.4 L567.4,367.3 L568.4,366.1 L569.4,364.9 L570.4,363.6 L571.4,362.2 L572.4,360.7 L573.4,359.3 L574.4,357.8 L575.4,356.2 L576.4,354.7 L577.4,353.2 L578.4,351.7 L579.4,350.3 L580.4,349.0 L581.4,347.7 L582.4,346.5 L583.4,345.5 L584.4,344.6 L585.4,343.8 L586.4,343.2 L587.4,342.8 L588.4,342.6 L589.4,342.6 L590.4,342.8 L591.4,343.1 L592.4,343.7 L593.4,344.4 L594.4,345.3 L595.4,346.3 L596.4,347.4 L597.4,348.7 L598.4,350.0 L599.4,351.4 L600.4,352.9 L601.4,354.4 L602.4,355.9 L603.4,357.5 L604.4,359.0 L605.4,360.5 L606.4,361.9 L607.4,363.3 L608.4,364.6 L609.4,365.9 L610.4,367.1 L611.4,368.2 L612.4,369.3 L613.4,370.2 L614.4,371.1 L615.4,371.9 L616.4,372.7 L617.4,373.3 L618.4,373.9 L619.4,374.5 L620.4,374.9 L621.4,375.4 L622.4,375.7 L623.4,376.0 L624.4,376.3 L625.4,376.6 L626.4,376.8 L627.4,376.9 L628.4,377.1 L629.4,377.2 L630.4,377.3 L631.4,377.4 L632.4,377.5 L633.4,377.6 L634.4,377.6 L635.4,377.7 L636.4,377.7 L637.4,377.8 L638.4,377.8 L639.4,377.8 L640.4,377.8 L641.4,377.9 L642.4,377.9 L643.4,377.9 L643.4,378.2 L534.4,378.2 Z" fill="url(#gR)"/>
<path d="M410.4,378.8 L411.4,378.8 L412.4,378.8 L413.4,378.8 L414.4,378.8 L415.4,378.8 L416.4,378.8 L417.4,378.8 L418.4,378.8 L419.4,378.8 L420.4,378.8 L421.4,378.8 L422.4,378.8 L423.4,378.8 L424.4,378.8 L425.4,378.8 L426.4,378.8 L427.4,378.8 L428.4,378.8 L429.4,378.8 L430.4,378.8 L431.4,378.8 L432.4,378.8 L433.4,378.8 L434.4,378.8 L435.4,378.8 L436.4,378.8 L437.4,378.8 L438.4,378.8 L439.4,378.8 L440.4,378.8 L441.4,378.8 L442.4,378.8 L443.4,378.8 L444.4,378.8 L445.4,378.8 L446.4,378.8 L447.4,378.8 L448.4,378.8 L449.4,378.8 L450.4,378.8 L451.4,378.8 L452.4,378.8 L453.4,378.8 L454.4,378.8 L455.4,378.8 L456.4,378.8 L457.4,378.8 L458.4,378.8 L459.4,378.8 L460.4,378.8 L461.4,378.8 L462.4,378.8 L463.4,378.8 L464.4,378.8 L465.4,378.8 L466.4,378.8 L467.4,378.8 L468.4,378.8 L469.4,378.8 L470.4,378.8 L471.4,378.8 L472.4,378.8 L473.4,378.8 L474.4,378.8 L475.4,378.8 L476.4,378.8 L477.4,378.8 L478.4,378.8 L479.4,378.8 L480.4,378.8 L481.4,378.8 L482.4,378.8 L483.4,378.8 L484.4,378.8 L485.4,378.8 L486.4,378.8 L487.4,378.8 L488.4,378.8 L489.4,378.8 L490.4,378.8 L491.4,378.8 L492.4,378.8 L493.4,378.8 L494.4,378.8 L495.4,378.8 L496.4,378.8 L497.4,378.8 L498.4,378.8 L499.4,378.8 L500.4,378.8 L501.4,378.8 L502.4,378.8 L503.4,378.8 L504.4,378.8 L505.4,378.8 L506.4,378.8 L507.4,378.8 L508.4,378.8 L509.4,378.8 L510.4,378.8 L511.4,378.8 L512.4,378.8 L513.4,378.8 L514.4,378.8 L515.4,378.8 L516.4,378.8 L517.4,378.8 L518.4,378.8 L519.4,378.8 L520.4,378.8 L521.4,378.8 L522.4,378.8 L523.4,378.8 L524.4,378.8 L525.4,378.8 L526.4,378.8 L527.4,378.8 L528.4,378.8 L529.4,378.8 L530.4,378.8 L531.4,378.8 L532.4,378.8 L533.4,378.8 L534.4,378.8 L535.4,378.8 L536.4,378.8 L537.4,378.8 L538.4,378.8 L539.4,378.8 L540.4,378.8 L541.4,378.8 L542.4,378.8 L543.4,378.8 L544.4,378.8 L545.4,378.8 L546.4,378.8 L547.4,378.8 L548.4,378.8 L549.4,378.8 L550.4,378.8 L551.4,378.8 L552.4,378.8 L553.4,378.8 L554.4,378.8 L555.4,378.8 L556.4,378.8 L557.4,378.8 L558.4,378.8 L559.4,378.8 L560.4,378.8 L561.4,378.8 L562.4,378.8 L563.4,378.8 L564.4,378.8 L565.4,378.8 L566.4,378.8 L567.4,378.8 L568.4,378.8 L569.4,378.8 L570.4,378.8 L571.4,378.8 L572.4,378.8 L573.4,378.8 L574.4,378.8 L575.4,378.8 L576.4,378.8 L577.4,378.8 L578.4,378.8 L579.4,378.8 L580.4,378.8 L581.4,378.8 L582.4,378.8 L583.4,378.8 L584.4,378.8 L585.4,378.8 L586.4,378.8 L587.4,378.8 L588.4,378.8 L589.4,378.8 L590.4,378.8 L591.4,378.8 L592.4,378.8 L593.4,378.8 L594.4,378.8 L595.4,378.8 L596.4,378.8 L597.4,378.8 L598.4,378.8 L599.4,378.8 L600.4,378.8 L601.4,378.8 L602.4,378.8 L603.4,378.8 L604.4,378.8 L605.4,378.8 L606.4,378.8 L607.4,378.8 L608.4,378.8 L609.4,378.8 L610.4,378.8 L611.4,378.8 L612.4,378.8 L613.4,378.8 L614.4,378.8 L615.4,378.8 L616.4,378.8 L617.4,378.8 L618.4,378.8 L619.4,378.8 L620.4,378.8 L621.4,378.8 L622.4,378.8 L623.4,378.8 L624.4,378.8 L625.4,378.8 L626.4,378.8 L627.4,378.8 L628.4,378.8 L629.4,378.8 L630.4,378.8 L631.4,378.8 L632.4,378.8" fill="none" stroke="#1aff1a" stroke-width="1.8" stroke-linejoin="round" />
<path d="M366.4,378.1 L367.4,378.1 L368.4,378.1 L369.4,378.1 L370.4,378.1 L371.4,378.1 L372.4,378.1 L373.4,378.1 L374.4,378.1 L375.4,378.1 L376.4,378.1 L377.4,378.1 L378.4,378.1 L379.4,378.0 L380.4,378.0 L381.4,378.0 L382.4,378.0 L383.4,378.0 L384.4,378.0 L385.4,378.0 L386.4,378.0 L387.4,378.0 L388.4,378.0 L389.4,378.0 L390.4,378.0 L391.4,378.0 L392.4,378.0 L393.4,378.0 L394.4,378.0 L395.4,378.0 L396.4,378.0 L397.4,378.0 L398.4,377.9 L399.4,377.9 L400.4,377.9 L401.4,377.9 L402.4,377.9 L403.4,377.9 L404.4,377.9 L405.4,377.8 L406.4,377.8 L407.4,377.8 L408.4,377.7 L409.4,377.7 L410.4,377.7 L411.4,377.6 L412.4,377.5 L413.4,377.5 L414.4,377.4 L415.4,377.3 L416.4,377.1 L417.4,377.0 L418.4,376.8 L419.4,376.7 L420.4,376.5 L421.4,376.2 L422.4,376.0 L423.4,375.7 L424.4,375.3 L425.4,375.0 L426.4,374.6 L427.4,374.1 L428.4,373.6 L429.4,373.0 L430.4,372.4 L431.4,371.8 L432.4,371.1 L433.4,370.4 L434.4,369.6 L435.4,368.7 L436.4,367.8 L437.4,366.9 L438.4,365.9 L439.4,364.9 L440.4,363.9 L441.4,362.9 L442.4,361.9 L443.4,360.8 L444.4,359.8 L445.4,358.8 L446.4,357.8 L447.4,356.8 L448.4,355.9 L449.4,355.1 L450.4,354.4 L451.4,353.7 L452.4,353.1 L453.4,352.6 L454.4,352.3 L455.4,352.0 L456.4,351.9 L457.4,351.9 L458.4,352.0 L459.4,352.2 L460.4,352.5 L461.4,353.0 L462.4,353.6 L463.4,354.2 L464.4,354.9 L465.4,355.8 L466.4,356.6 L467.4,357.6 L468.4,358.5 L469.4,359.6 L470.4,360.6 L471.4,361.6 L472.4,362.7 L473.4,363.7 L474.4,364.7 L475.4,365.7 L476.4,366.7 L477.4,367.6 L478.4,368.5 L479.4,369.4 L480.4,370.2 L481.4,370.9 L482.4,371.6 L483.4,372.3 L484.4,372.9 L485.4,373.4 L486.4,373.9 L487.4,374.4 L488.4,374.8 L489.4,375.2 L490.4,375.5 L491.4,375.8 L492.4,376.1 L493.4,376.4 L494.4,376.6 L495.4,376.7 L496.4,376.9 L497.4,377.0 L498.4,377.2 L499.4,377.3 L500.4,377.3 L501.4,377.4 L502.4,377.5 L503.4,377.5 L504.4,377.6 L505.4,377.6 L506.4,377.7 L507.4,377.7 L508.4,377.7 L509.4,377.7 L510.4,377.8 L511.4,377.8 L512.4,377.8 L513.4,377.8 L514.4,377.8 L515.4,377.8 L516.4,377.8 L517.4,377.8 L518.4,377.8 L519.4,377.8 L520.4,377.8 L521.4,377.8 L522.4,377.8 L523.4,377.8 L524.4,377.8 L525.4,377.8 L526.4,377.8 L527.4,377.8 L528.4,377.8 L529.4,377.8 L530.4,377.8 L531.4,377.8 L532.4,377.8 L533.4,377.8 L534.4,377.8 L535.4,377.8 L536.4,377.7 L537.4,377.7 L538.4,377.7 L539.4,377.7 L540.4,377.7 L541.4,377.6 L542.4,377.6 L543.4,377.5 L544.4,377.5 L545.4,377.4 L546.4,377.4 L547.4,377.3 L548.4,377.2 L549.4,377.0 L550.4,376.9 L551.4,376.7 L552.4,376.5 L553.4,376.3 L554.4,376.0 L555.4,375.7 L556.4,375.4 L557.4,375.0 L558.4,374.5 L559.4,374.0 L560.4,373.4 L561.4,372.7 L562.4,372.0 L563.4,371.2 L564.4,370.3 L565.4,369.4 L566.4,368.4 L567.4,367.3 L568.4,366.1 L569.4,364.8 L570.4,363.5 L571.4,362.1 L572.4,360.7 L573.4,359.2 L574.4,357.7 L575.4,356.2 L576.4,354.7 L577.4,353.2 L578.4,351.7 L579.4,350.3 L580.4,348.9 L581.4,347.6 L582.4,346.5 L583.4,345.4 L584.4,344.5 L585.4,343.8 L586.4,343.2 L587.4,342.8 L588.4,342.6 L589.4,342.6 L590.4,342.7 L591.4,343.1 L592.4,343.6 L593.4,344.4 L594.4,345.2 L595.4,346.3 L596.4,347.4 L597.4,348.6 L598.4,350.0 L599.4,351.4 L600.4,352.9 L601.4,354.4 L602.4,355.9 L603.4,357.4 L604.4,358.9 L605.4,360.4 L606.4,361.9 L607.4,363.3 L608.4,364.6 L609.4,365.9 L610.4,367.1 L611.4,368.2 L612.4,369.2 L613.4,370.2 L614.4,371.1 L615.4,371.9 L616.4,372.6 L617.4,373.3 L618.4,373.9 L619.4,374.4 L620.4,374.9 L621.4,375.3 L622.4,375.7 L623.4,376.0 L624.4,376.3 L625.4,376.5 L626.4,376.7 L627.4,376.9 L628.4,377.1 L629.4,377.2 L630.4,377.3 L631.4,377.4 L632.4,377.5 L633.4,377.6 L634.4,377.6 L635.4,377.7 L636.4,377.7 L637.4,377.7 L638.4,377.8 L639.4,377.8 L640.4,377.8 L641.4,377.8 L642.4,377.9 L643.4,377.9 L644.4,377.9 L645.4,377.9 L646.4,377.9 L647.4,377.9 L648.4,377.9 L649.4,377.9 L650.4,377.9 L651.4,377.9 L652.4,378.0 L653.4,378.0 L654.4,378.0 L655.4,378.0 L656.4,378.0 L657.4,378.0 L658.4,378.0 L659.4,378.0 L660.4,378.0 L661.4,378.0 L662.4,378.0 L663.4,378.0 L664.4,378.0 L665.4,378.0 L666.4,378.0 L667.4,378.0 L668.4,378.0 L669.4,378.0 L670.4,378.0 L671.4,378.0 L672.4,378.1" fill="none" stroke="#bf9500" stroke-width="1.4" stroke-linejoin="round" />
<path d="M366.4,376.9 L367.4,376.2 L368.4,376.5 L369.4,377.7 L370.4,377.7 L371.4,377.4 L372.4,378.0 L373.4,376.8 L374.4,376.0 L375.4,377.3 L376.4,378.7 L377.4,379.0 L378.4,380.0 L379.4,379.7 L380.4,378.5 L381.4,378.2 L382.4,378.1 L383.4,377.9 L384.4,377.1 L385.4,378.9 L386.4,378.1 L387.4,376.8 L388.4,378.6 L389.4,378.5 L390.4,377.4 L391.4,377.2 L392.4,377.5 L393.4,376.9 L394.4,377.2 L395.4,377.6 L396.4,377.3 L397.4,378.1 L398.4,377.7 L399.4,377.5 L400.4,377.8 L401.4,377.8 L402.4,378.3 L403.4,378.1 L404.4,377.3 L405.4,376.5 L406.4,376.6 L407.4,377.3 L408.4,378.4 L409.4,379.1 L410.4,378.1 L411.4,377.3 L412.4,376.4 L413.4,374.6 L414.4,375.0 L415.4,376.1 L416.4,375.4 L417.4,374.4 L418.4,375.7 L419.4,376.2 L420.4,374.2 L421.4,376.2 L422.4,377.1 L423.4,374.7 L424.4,374.4 L425.4,373.4 L426.4,373.4 L427.4,372.0 L428.4,369.1 L429.4,369.3 L430.4,368.8 L431.4,369.2 L432.4,367.7 L433.4,365.4 L434.4,366.0 L435.4,366.3 L436.4,366.2 L437.4,364.9 L438.4,364.7 L439.4,363.8 L440.4,362.3 L441.4,362.1 L442.4,361.1 L443.4,359.8 L444.4,358.9 L445.4,357.9 L446.4,356.8 L447.4,356.0 L448.4,355.0 L449.4,354.6 L450.4,353.8 L451.4,353.8 L452.4,354.5 L453.4,353.6 L454.4,352.3 L455.4,350.7 L456.4,349.5 L457.4,348.2 L458.4,347.9 L459.4,349.2 L460.4,351.4 L461.4,352.7 L462.4,353.2 L463.4,353.6 L464.4,354.0 L465.4,355.7 L466.4,356.6 L467.4,357.2 L468.4,358.6 L469.4,359.8 L470.4,361.0 L471.4,361.1 L472.4,361.9 L473.4,364.1 L474.4,364.3 L475.4,364.6 L476.4,366.5 L477.4,367.4 L478.4,367.2 L479.4,369.2 L480.4,370.3 L481.4,370.9 L482.4,371.2 L483.4,371.8 L484.4,373.8 L485.4,374.4 L486.4,372.5 L487.4,373.2 L488.4,375.3 L489.4,374.5 L490.4,375.8 L491.4,375.5 L492.4,376.1 L493.4,377.2 L494.4,377.2 L495.4,377.8 L496.4,375.8 L497.4,376.0 L498.4,377.4 L499.4,377.8 L500.4,378.5 L501.4,377.5 L502.4,377.1 L503.4,378.4 L504.4,377.9 L505.4,376.6 L506.4,376.2 L507.4,377.5 L508.4,378.8 L509.4,377.6 L510.4,376.1 L511.4,377.6 L512.4,377.5 L513.4,376.7 L514.4,377.2 L515.4,375.8 L516.4,376.5 L517.4,377.7 L518.4,378.7 L519.4,380.5 L520.4,379.3 L521.4,378.4 L522.4,379.3 L523.4,378.1 L524.4,376.7 L525.4,378.3 L526.4,378.7 L527.4,377.4 L528.4,377.5 L529.4,377.4 L530.4,377.2 L531.4,377.8 L532.4,379.2 L533.4,378.3 L534.4,376.4 L535.4,376.7 L536.4,376.6 L537.4,376.0 L538.4,378.1 L539.4,380.2 L540.4,379.6 L541.4,377.0 L542.4,377.3 L543.4,376.4 L544.4,375.2 L545.4,377.9 L546.4,378.9 L547.4,376.7 L548.4,374.7 L549.4,376.2 L550.4,377.2 L551.4,375.9 L552.4,375.9 L553.4,375.5 L554.4,373.3 L555.4,373.8 L556.4,374.1 L557.4,372.1 L558.4,370.8 L559.4,370.8 L560.4,370.3 L561.4,369.6 L562.4,369.0 L563.4,368.4 L564.4,367.3 L565.4,365.0 L566.4,362.9 L567.4,361.7 L568.4,362.7 L569.4,363.5 L570.4,361.8 L571.4,359.2 L572.4,358.7 L573.4,358.2 L574.4,356.6 L575.4,355.1 L576.4,353.5 L577.4,352.0 L578.4,351.6 L579.4,351.0 L580.4,349.3 L581.4,347.3 L582.4,346.4 L583.4,345.9 L584.4,345.1 L585.4,343.6 L586.4,342.8 L587.4,342.2 L588.4,339.6 L589.4,335.8 L590.4,334.9 L591.4,337.4 L592.4,341.0 L593.4,343.7 L594.4,344.8 L595.4,345.8 L596.4,346.8 L597.4,347.9 L598.4,349.4 L599.4,351.0 L600.4,353.1 L601.4,354.3 L602.4,355.4 L603.4,357.1 L604.4,359.2 L605.4,361.0 L606.4,361.8 L607.4,363.4 L608.4,364.9 L609.4,365.5 L610.4,367.8 L611.4,369.8 L612.4,371.0 L613.4,372.3 L614.4,372.5 L615.4,372.5 L616.4,371.9 L617.4,373.0 L618.4,374.4 L619.4,374.9 L620.4,375.3 L621.4,374.7 L622.4,374.4 L623.4,375.7 L624.4,377.7 L625.4,377.2 L626.4,376.8 L627.4,378.2 L628.4,377.4 L629.4,376.3 L630.4,376.2 L631.4,377.4 L632.4,378.5 L633.4,377.3 L634.4,376.0 L635.4,376.2 L636.4,378.2 L637.4,378.2 L638.4,377.2 L639.4,377.9 L640.4,377.3 L641.4,376.9 L642.4,378.3 L643.4,377.7 L644.4,376.6 L645.4,377.4 L646.4,378.0 L647.4,377.6 L648.4,377.8 L649.4,378.2 L650.4,377.4 L651.4,376.7 L652.4,377.7 L653.4,379.1 L654.4,379.8 L655.4,378.3 L656.4,378.1 L657.4,379.3 L658.4,378.5 L659.4,378.3 L660.4,378.9 L661.4,379.9 L662.4,378.5 L663.4,377.6 L664.4,378.3 L665.4,377.7 L666.4,378.7 L667.4,379.4 L668.4,377.8 L669.4,377.0 L670.4,378.0 L671.4,377.1 L672.4,377.6" fill="none" stroke="#bf9500" stroke-width="1.3" stroke-linejoin="round" />
<line x1="365.80" y1="332.00" x2="673.00" y2="332.00" stroke="#000" stroke-width="1.6" />
<path d="M405.4,432.7 L406.4,432.7 L407.4,432.6 L408.4,432.6 L409.4,432.6 L410.4,432.5 L411.4,432.5 L412.4,432.4 L413.4,432.3 L414.4,432.2 L415.4,432.2 L416.4,432.1 L417.4,431.9 L418.4,431.8 L419.4,431.7 L420.4,431.5 L421.4,431.3 L422.4,431.1 L423.4,430.9 L424.4,430.6 L425.4,430.4 L426.4,430.0 L427.4,429.7 L428.4,429.3 L429.4,428.9 L430.4,428.5 L431.4,428.0 L432.4,427.5 L433.4,427.0 L434.4,426.4 L435.4,425.8 L436.4,425.2 L437.4,424.6 L438.4,423.9 L439.4,423.2 L440.4,422.4 L441.4,421.7 L442.4,420.9 L443.4,420.2 L444.4,419.4 L445.4,418.6 L446.4,417.9 L447.4,417.1 L448.4,416.4 L449.4,415.7 L450.4,415.0 L451.4,414.4 L452.4,413.8 L453.4,413.3 L454.4,412.8 L455.4,412.4 L456.4,412.1 L457.4,411.9 L458.4,411.7 L459.4,411.6 L460.4,411.6 L461.4,411.7 L462.4,411.8 L463.4,412.1 L464.4,412.4 L465.4,412.8 L466.4,413.2 L467.4,413.7 L468.4,414.3 L469.4,414.9 L470.4,415.5 L471.4,416.2 L472.4,417.0 L473.4,417.7 L474.4,418.5 L475.4,419.2 L476.4,420.0 L477.4,420.8 L478.4,421.5 L479.4,422.3 L480.4,423.0 L481.4,423.7 L482.4,424.4 L483.4,425.1 L484.4,425.7 L485.4,426.3 L486.4,426.9 L487.4,427.4 L488.4,427.9 L489.4,428.4 L490.4,428.9 L491.4,429.3 L492.4,429.6 L493.4,430.0 L494.4,430.3 L495.4,430.6 L496.4,430.8 L497.4,431.1 L498.4,431.3 L499.4,431.5 L500.4,431.6 L501.4,431.8 L502.4,431.9 L503.4,432.0 L504.4,432.1 L505.4,432.2 L506.4,432.3 L507.4,432.4 L508.4,432.4 L509.4,432.5 L510.4,432.5 L511.4,432.6 L512.4,432.6 L513.4,432.6 L514.4,432.7 L515.4,432.7 L515.4,433.0 L405.4,433.0 Z" fill="url(#gG)"/>
<path d="M535.4,432.7 L536.4,432.7 L537.4,432.7 L538.4,432.6 L539.4,432.6 L540.4,432.6 L541.4,432.6 L542.4,432.5 L543.4,432.5 L544.4,432.4 L545.4,432.4 L546.4,432.3 L547.4,432.2 L548.4,432.1 L549.4,432.0 L550.4,431.9 L551.4,431.8 L552.4,431.6 L553.4,431.4 L554.4,431.2 L555.4,430.9 L556.4,430.7 L557.4,430.3 L558.4,430.0 L559.4,429.6 L560.4,429.1 L561.4,428.6 L562.4,428.0 L563.4,427.4 L564.4,426.7 L565.4,426.0 L566.4,425.2 L567.4,424.3 L568.4,423.4 L569.4,422.4 L570.4,421.4 L571.4,420.3 L572.4,419.1 L573.4,417.9 L574.4,416.7 L575.4,415.4 L576.4,414.1 L577.4,412.8 L578.4,411.5 L579.4,410.2 L580.4,408.9 L581.4,407.7 L582.4,406.5 L583.4,405.4 L584.4,404.3 L585.4,403.4 L586.4,402.5 L587.4,401.8 L588.4,401.2 L589.4,400.7 L590.4,400.4 L591.4,400.2 L592.4,400.2 L593.4,400.4 L594.4,400.6 L595.4,401.1 L596.4,401.7 L597.4,402.4 L598.4,403.2 L599.4,404.1 L600.4,405.1 L601.4,406.3 L602.4,407.4 L603.4,408.7 L604.4,409.9 L605.4,411.2 L606.4,412.5 L607.4,413.8 L608.4,415.1 L609.4,416.4 L610.4,417.7 L611.4,418.9 L612.4,420.0 L613.4,421.2 L614.4,422.2 L615.4,423.2 L616.4,424.2 L617.4,425.0 L618.4,425.9 L619.4,426.6 L620.4,427.3 L621.4,427.9 L622.4,428.5 L623.4,429.0 L624.4,429.5 L625.4,429.9 L626.4,430.3 L627.4,430.6 L628.4,430.9 L629.4,431.1 L630.4,431.4 L631.4,431.6 L632.4,431.7 L633.4,431.9 L634.4,432.0 L635.4,432.1 L636.4,432.2 L637.4,432.3 L638.4,432.4 L639.4,432.4 L640.4,432.5 L641.4,432.5 L642.4,432.5 L643.4,432.6 L644.4,432.6 L645.4,432.6 L646.4,432.7 L647.4,432.7 L648.4,432.7 L648.4,433.0 L535.4,433.0 Z" fill="url(#gR)"/>
<path d="M410.4,433.6 L411.4,433.6 L412.4,433.6 L413.4,433.6 L414.4,433.6 L415.4,433.6 L416.4,433.6 L417.4,433.6 L418.4,433.6 L419.4,433.6 L420.4,433.6 L421.4,433.6 L422.4,433.6 L423.4,433.6 L424.4,433.6 L425.4,433.6 L426.4,433.6 L427.4,433.6 L428.4,433.6 L429.4,433.6 L430.4,433.6 L431.4,433.6 L432.4,433.6 L433.4,433.6 L434.4,433.6 L435.4,433.6 L436.4,433.6 L437.4,433.6 L438.4,433.6 L439.4,433.6 L440.4,433.6 L441.4,433.6 L442.4,433.6 L443.4,433.6 L444.4,433.6 L445.4,433.6 L446.4,433.6 L447.4,433.6 L448.4,433.6 L449.4,433.6 L450.4,433.6 L451.4,433.6 L452.4,433.6 L453.4,433.6 L454.4,433.6 L455.4,433.6 L456.4,433.6 L457.4,433.6 L458.4,433.6 L459.4,433.6 L460.4,433.6 L461.4,433.6 L462.4,433.6 L463.4,433.6 L464.4,433.6 L465.4,433.6 L466.4,433.6 L467.4,433.6 L468.4,433.6 L469.4,433.6 L470.4,433.6 L471.4,433.6 L472.4,433.6 L473.4,433.6 L474.4,433.6 L475.4,433.6 L476.4,433.6 L477.4,433.6 L478.4,433.6 L479.4,433.6 L480.4,433.6 L481.4,433.6 L482.4,433.6 L483.4,433.6 L484.4,433.6 L485.4,433.6 L486.4,433.6 L487.4,433.6 L488.4,433.6 L489.4,433.6 L490.4,433.6 L491.4,433.6 L492.4,433.6 L493.4,433.6 L494.4,433.6 L495.4,433.6 L496.4,433.6 L497.4,433.6 L498.4,433.6 L499.4,433.6 L500.4,433.6 L501.4,433.6 L502.4,433.6 L503.4,433.6 L504.4,433.6 L505.4,433.6 L506.4,433.6 L507.4,433.6 L508.4,433.6 L509.4,433.6 L510.4,433.6 L511.4,433.6 L512.4,433.6 L513.4,433.6 L514.4,433.6 L515.4,433.6 L516.4,433.6 L517.4,433.6 L518.4,433.6 L519.4,433.6 L520.4,433.6 L521.4,433.6 L522.4,433.6 L523.4,433.6 L524.4,433.6 L525.4,433.6 L526.4,433.6 L527.4,433.6 L528.4,433.6 L529.4,433.6 L530.4,433.6 L531.4,433.6 L532.4,433.6 L533.4,433.6 L534.4,433.6 L535.4,433.6 L536.4,433.6 L537.4,433.6 L538.4,433.6 L539.4,433.6 L540.4,433.6 L541.4,433.6 L542.4,433.6 L543.4,433.6 L544.4,433.6 L545.4,433.6 L546.4,433.6 L547.4,433.6 L548.4,433.6 L549.4,433.6 L550.4,433.6 L551.4,433.6 L552.4,433.6 L553.4,433.6 L554.4,433.6 L555.4,433.6 L556.4,433.6 L557.4,433.6 L558.4,433.6 L559.4,433.6 L560.4,433.6 L561.4,433.6 L562.4,433.6 L563.4,433.6 L564.4,433.6 L565.4,433.6 L566.4,433.6 L567.4,433.6 L568.4,433.6 L569.4,433.6 L570.4,433.6 L571.4,433.6 L572.4,433.6 L573.4,433.6 L574.4,433.6 L575.4,433.6 L576.4,433.6 L577.4,433.6 L578.4,433.6 L579.4,433.6 L580.4,433.6 L581.4,433.6 L582.4,433.6 L583.4,433.6 L584.4,433.6 L585.4,433.6 L586.4,433.6 L587.4,433.6 L588.4,433.6 L589.4,433.6 L590.4,433.6 L591.4,433.6 L592.4,433.6 L593.4,433.6 L594.4,433.6 L595.4,433.6 L596.4,433.6 L597.4,433.6 L598.4,433.6 L599.4,433.6 L600.4,433.6 L601.4,433.6 L602.4,433.6 L603.4,433.6 L604.4,433.6 L605.4,433.6 L606.4,433.6 L607.4,433.6 L608.4,433.6 L609.4,433.6 L610.4,433.6 L611.4,433.6 L612.4,433.6 L613.4,433.6 L614.4,433.6 L615.4,433.6 L616.4,433.6 L617.4,433.6 L618.4,433.6 L619.4,433.6 L620.4,433.6 L621.4,433.6 L622.4,433.6 L623.4,433.6 L624.4,433.6 L625.4,433.6 L626.4,433.6 L627.4,433.6 L628.4,433.6 L629.4,433.6 L630.4,433.6 L631.4,433.6 L632.4,433.6" fill="none" stroke="#1aff1a" stroke-width="1.8" stroke-linejoin="round" />
<path d="M366.4,432.9 L367.4,432.9 L368.4,432.9 L369.4,432.9 L370.4,432.9 L371.4,432.9 L372.4,432.9 L373.4,432.9 L374.4,432.9 L375.4,432.9 L376.4,432.9 L377.4,432.9 L378.4,432.9 L379.4,432.9 L380.4,432.9 L381.4,432.9 L382.4,432.9 L383.4,432.8 L384.4,432.8 L385.4,432.8 L386.4,432.8 L387.4,432.8 L388.4,432.8 L389.4,432.8 L390.4,432.8 L391.4,432.8 L392.4,432.8 L393.4,432.8 L394.4,432.8 L395.4,432.8 L396.4,432.8 L397.4,432.8 L398.4,432.8 L399.4,432.8 L400.4,432.7 L401.4,432.7 L402.4,432.7 L403.4,432.7 L404.4,432.7 L405.4,432.7 L406.4,432.6 L407.4,432.6 L408.4,432.6 L409.4,432.5 L410.4,432.5 L411.4,432.4 L412.4,432.4 L413.4,432.3 L414.4,432.2 L415.4,432.1 L416.4,432.0 L417.4,431.9 L418.4,431.8 L419.4,431.6 L420.4,431.5 L421.4,431.3 L422.4,431.1 L423.4,430.8 L424.4,430.6 L425.4,430.3 L426.4,430.0 L427.4,429.7 L428.4,429.3 L429.4,428.9 L430.4,428.5 L431.4,428.0 L432.4,427.5 L433.4,427.0 L434.4,426.4 L435.4,425.8 L436.4,425.2 L437.4,424.5 L438.4,423.8 L439.4,423.1 L440.4,422.4 L441.4,421.6 L442.4,420.9 L443.4,420.1 L444.4,419.3 L445.4,418.6 L446.4,417.8 L447.4,417.1 L448.4,416.3 L449.4,415.6 L450.4,415.0 L451.4,414.3 L452.4,413.8 L453.4,413.3 L454.4,412.8 L455.4,412.4 L456.4,412.1 L457.4,411.8 L458.4,411.6 L459.4,411.6 L460.4,411.5 L461.4,411.6 L462.4,411.8 L463.4,412.0 L464.4,412.3 L465.4,412.7 L466.4,413.1 L467.4,413.7 L468.4,414.2 L469.4,414.8 L470.4,415.5 L471.4,416.2 L472.4,416.9 L473.4,417.6 L474.4,418.4 L475.4,419.2 L476.4,419.9 L477.4,420.7 L478.4,421.5 L479.4,422.2 L480.4,422.9 L481.4,423.6 L482.4,424.3 L483.4,425.0 L484.4,425.6 L485.4,426.2 L486.4,426.8 L487.4,427.3 L488.4,427.8 L489.4,428.3 L490.4,428.8 L491.4,429.2 L492.4,429.5 L493.4,429.9 L494.4,430.2 L495.4,430.5 L496.4,430.7 L497.4,431.0 L498.4,431.2 L499.4,431.4 L500.4,431.5 L501.4,431.7 L502.4,431.8 L503.4,431.9 L504.4,432.0 L505.4,432.1 L506.4,432.2 L507.4,432.2 L508.4,432.3 L509.4,432.4 L510.4,432.4 L511.4,432.4 L512.4,432.5 L513.4,432.5 L514.4,432.5 L515.4,432.5 L516.4,432.5 L517.4,432.6 L518.4,432.6 L519.4,432.6 L520.4,432.6 L521.4,432.6 L522.4,432.6 L523.4,432.6 L524.4,432.6 L525.4,432.6 L526.4,432.6 L527.4,432.6 L528.4,432.6 L529.4,432.6 L530.4,432.6 L531.4,432.6 L532.4,432.6 L533.4,432.6 L534.4,432.6 L535.4,432.6 L536.4,432.5 L537.4,432.5 L538.4,432.5 L539.4,432.5 L540.4,432.5 L541.4,432.4 L542.4,432.4 L543.4,432.4 L544.4,432.3 L545.4,432.3 L546.4,432.2 L547.4,432.1 L548.4,432.0 L549.4,431.9 L550.4,431.8 L551.4,431.7 L552.4,431.5 L553.4,431.3 L554.4,431.1 L555.4,430.9 L556.4,430.6 L557.4,430.3 L558.4,429.9 L559.4,429.5 L560.4,429.0 L561.4,428.5 L562.4,428.0 L563.4,427.4 L564.4,426.7 L565.4,425.9 L566.4,425.1 L567.4,424.3 L568.4,423.3 L569.4,422.4 L570.4,421.3 L571.4,420.2 L572.4,419.1 L573.4,417.9 L574.4,416.6 L575.4,415.3 L576.4,414.0 L577.4,412.7 L578.4,411.4 L579.4,410.1 L580.4,408.9 L581.4,407.6 L582.4,406.4 L583.4,405.3 L584.4,404.3 L585.4,403.3 L586.4,402.5 L587.4,401.7 L588.4,401.1 L589.4,400.7 L590.4,400.4 L591.4,400.2 L592.4,400.2 L593.4,400.3 L594.4,400.6 L595.4,401.0 L596.4,401.6 L597.4,402.3 L598.4,403.1 L599.4,404.1 L600.4,405.1 L601.4,406.2 L602.4,407.4 L603.4,408.6 L604.4,409.9 L605.4,411.2 L606.4,412.5 L607.4,413.8 L608.4,415.1 L609.4,416.4 L610.4,417.6 L611.4,418.8 L612.4,420.0 L613.4,421.1 L614.4,422.2 L615.4,423.2 L616.4,424.1 L617.4,425.0 L618.4,425.8 L619.4,426.6 L620.4,427.3 L621.4,427.9 L622.4,428.5 L623.4,429.0 L624.4,429.5 L625.4,429.9 L626.4,430.2 L627.4,430.6 L628.4,430.9 L629.4,431.1 L630.4,431.3 L631.4,431.5 L632.4,431.7 L633.4,431.9 L634.4,432.0 L635.4,432.1 L636.4,432.2 L637.4,432.3 L638.4,432.3 L639.4,432.4 L640.4,432.4 L641.4,432.5 L642.4,432.5 L643.4,432.6 L644.4,432.6 L645.4,432.6 L646.4,432.6 L647.4,432.6 L648.4,432.7 L649.4,432.7 L650.4,432.7 L651.4,432.7 L652.4,432.7 L653.4,432.7 L654.4,432.7 L655.4,432.7 L656.4,432.8 L657.4,432.8 L658.4,432.8 L659.4,432.8 L660.4,432.8 L661.4,432.8 L662.4,432.8 L663.4,432.8 L664.4,432.8 L665.4,432.8 L666.4,432.8 L667.4,432.8 L668.4,432.8 L669.4,432.8 L670.4,432.8 L671.4,432.8 L672.4,432.8" fill="none" stroke="#a8003a" stroke-width="1.4" stroke-linejoin="round" />
<path d="M366.4,432.8 L367.4,432.9 L368.4,433.2 L369.4,434.4 L370.4,434.2 L371.4,432.6 L372.4,433.9 L373.4,433.7 L374.4,432.1 L375.4,431.4 L376.4,432.6 L377.4,433.8 L378.4,433.4 L379.4,433.3 L380.4,432.8 L381.4,432.1 L382.4,431.6 L383.4,432.5 L384.4,433.2 L385.4,434.1 L386.4,433.4 L387.4,431.9 L388.4,431.7 L389.4,433.0 L390.4,432.9 L391.4,432.4 L392.4,434.4 L393.4,433.7 L394.4,433.2 L395.4,431.7 L396.4,430.9 L397.4,431.2 L398.4,431.6 L399.4,432.8 L400.4,432.1 L401.4,432.8 L402.4,433.6 L403.4,432.5 L404.4,431.9 L405.4,431.1 L406.4,431.4 L407.4,434.0 L408.4,433.6 L409.4,432.3 L410.4,432.3 L411.4,432.6 L412.4,433.2 L413.4,432.4 L414.4,430.7 L415.4,430.4 L416.4,432.5 L417.4,432.6 L418.4,432.0 L419.4,431.6 L420.4,429.6 L421.4,430.0 L422.4,431.3 L423.4,430.3 L424.4,429.4 L425.4,429.5 L426.4,428.9 L427.4,428.3 L428.4,427.9 L429.4,425.2 L430.4,424.5 L431.4,425.0 L432.4,423.7 L433.4,423.7 L434.4,423.2 L435.4,422.6 L436.4,423.2 L437.4,422.3 L438.4,419.8 L439.4,418.7 L440.4,420.0 L441.4,419.7 L442.4,418.7 L443.4,418.3 L444.4,418.3 L445.4,417.9 L446.4,417.4 L447.4,416.4 L448.4,415.5 L449.4,415.2 L450.4,414.7 L451.4,413.4 L452.4,412.8 L453.4,412.6 L454.4,412.8 L455.4,413.5 L456.4,413.2 L457.4,412.5 L458.4,411.0 L459.4,409.7 L460.4,408.6 L461.4,408.4 L462.4,409.4 L463.4,410.5 L464.4,412.0 L465.4,413.5 L466.4,413.8 L467.4,414.5 L468.4,416.1 L469.4,415.4 L470.4,415.0 L471.4,415.8 L472.4,416.5 L473.4,417.4 L474.4,418.2 L475.4,419.5 L476.4,420.6 L477.4,421.1 L478.4,421.5 L479.4,422.2 L480.4,423.1 L481.4,424.1 L482.4,424.7 L483.4,425.4 L484.4,425.0 L485.4,425.8 L486.4,428.7 L487.4,428.8 L488.4,426.9 L489.4,428.3 L490.4,429.5 L491.4,426.7 L492.4,427.1 L493.4,430.1 L494.4,430.9 L495.4,431.7 L496.4,432.1 L497.4,431.5 L498.4,429.8 L499.4,429.0 L500.4,430.8 L501.4,432.3 L502.4,431.5 L503.4,430.7 L504.4,431.9 L505.4,431.0 L506.4,429.3 L507.4,430.6 L508.4,432.3 L509.4,432.2 L510.4,430.3 L511.4,430.7 L512.4,431.5 L513.4,432.0 L514.4,432.9 L515.4,432.6 L516.4,433.2 L517.4,432.6 L518.4,432.8 L519.4,434.1 L520.4,433.8 L521.4,433.9 L522.4,433.1 L523.4,432.8 L524.4,433.5 L525.4,432.1 L526.4,431.8 L527.4,432.1 L528.4,431.8 L529.4,432.2 L530.4,433.4 L531.4,433.1 L532.4,432.4 L533.4,431.6 L534.4,431.5 L535.4,433.5 L536.4,434.0 L537.4,433.5 L538.4,432.5 L539.4,431.4 L540.4,431.7 L541.4,431.4 L542.4,430.5 L543.4,432.1 L544.4,432.3 L545.4,432.9 L546.4,432.5 L547.4,431.4 L548.4,431.5 L549.4,431.1 L550.4,431.1 L551.4,430.8 L552.4,431.3 L553.4,430.7 L554.4,430.9 L555.4,432.0 L556.4,430.7 L557.4,429.7 L558.4,429.6 L559.4,428.3 L560.4,429.1 L561.4,426.6 L562.4,423.6 L563.4,422.9 L564.4,422.2 L565.4,422.3 L566.4,424.4 L567.4,423.9 L568.4,421.4 L569.4,421.2 L570.4,418.7 L571.4,417.2 L572.4,417.2 L573.4,416.2 L574.4,414.8 L575.4,414.0 L576.4,412.4 L577.4,410.8 L578.4,410.5 L579.4,409.9 L580.4,408.3 L581.4,406.9 L582.4,406.1 L583.4,405.1 L584.4,404.4 L585.4,403.6 L586.4,402.5 L587.4,401.2 L588.4,400.2 L589.4,400.2 L590.4,398.9 L591.4,397.0 L592.4,395.0 L593.4,393.8 L594.4,395.9 L595.4,398.8 L596.4,400.3 L597.4,401.6 L598.4,402.9 L599.4,405.1 L600.4,405.3 L601.4,405.4 L602.4,407.3 L603.4,408.9 L604.4,410.1 L605.4,410.1 L606.4,412.1 L607.4,413.9 L608.4,414.7 L609.4,415.8 L610.4,416.7 L611.4,418.2 L612.4,420.2 L613.4,422.4 L614.4,422.3 L615.4,423.1 L616.4,424.2 L617.4,424.8 L618.4,426.0 L619.4,427.1 L620.4,427.2 L621.4,427.3 L622.4,428.5 L623.4,429.2 L624.4,428.9 L625.4,430.5 L626.4,431.1 L627.4,430.8 L628.4,431.5 L629.4,432.1 L630.4,430.6 L631.4,431.4 L632.4,433.0 L633.4,430.7 L634.4,431.1 L635.4,433.8 L636.4,434.2 L637.4,431.7 L638.4,431.0 L639.4,433.0 L640.4,432.3 L641.4,431.3 L642.4,432.1 L643.4,433.9 L644.4,433.9 L645.4,433.3 L646.4,433.1 L647.4,431.5 L648.4,432.8 L649.4,433.8 L650.4,431.8 L651.4,431.8 L652.4,433.6 L653.4,432.7 L654.4,432.4 L655.4,433.1 L656.4,432.5 L657.4,431.9 L658.4,431.8 L659.4,432.0 L660.4,431.5 L661.4,431.7 L662.4,431.6 L663.4,431.7 L664.4,432.7 L665.4,431.9 L666.4,432.6 L667.4,434.8 L668.4,435.2 L669.4,432.7 L670.4,432.7 L671.4,433.9 L672.4,432.9" fill="none" stroke="#a8003a" stroke-width="1.3" stroke-linejoin="round" />
<line x1="365.80" y1="387.00" x2="673.00" y2="387.00" stroke="#000" stroke-width="1.6" />
<path d="M400.4,483.2 L401.4,483.2 L402.4,483.2 L403.4,483.1 L404.4,483.1 L405.4,483.1 L406.4,483.0 L407.4,483.0 L408.4,483.0 L409.4,482.9 L410.4,482.8 L411.4,482.8 L412.4,482.7 L413.4,482.6 L414.4,482.5 L415.4,482.4 L416.4,482.3 L417.4,482.2 L418.4,482.0 L419.4,481.8 L420.4,481.6 L421.4,481.4 L422.4,481.2 L423.4,481.0 L424.4,480.7 L425.4,480.4 L426.4,480.1 L427.4,479.7 L428.4,479.3 L429.4,478.9 L430.4,478.5 L431.4,478.0 L432.4,477.5 L433.4,476.9 L434.4,476.4 L435.4,475.8 L436.4,475.1 L437.4,474.5 L438.4,473.8 L439.4,473.1 L440.4,472.4 L441.4,471.6 L442.4,470.9 L443.4,470.1 L444.4,469.3 L445.4,468.5 L446.4,467.8 L447.4,467.0 L448.4,466.2 L449.4,465.5 L450.4,464.8 L451.4,464.1 L452.4,463.4 L453.4,462.8 L454.4,462.2 L455.4,461.7 L456.4,461.3 L457.4,460.9 L458.4,460.5 L459.4,460.3 L460.4,460.1 L461.4,459.9 L462.4,459.9 L463.4,459.9 L464.4,460.0 L465.4,460.2 L466.4,460.5 L467.4,460.8 L468.4,461.2 L469.4,461.6 L470.4,462.1 L471.4,462.7 L472.4,463.3 L473.4,464.0 L474.4,464.6 L475.4,465.3 L476.4,466.1 L477.4,466.8 L478.4,467.6 L479.4,468.4 L480.4,469.2 L481.4,469.9 L482.4,470.7 L483.4,471.5 L484.4,472.2 L485.4,473.0 L486.4,473.7 L487.4,474.4 L488.4,475.0 L489.4,475.6 L490.4,476.2 L491.4,476.8 L492.4,477.4 L493.4,477.9 L494.4,478.4 L495.4,478.8 L496.4,479.2 L497.4,479.6 L498.4,480.0 L499.4,480.3 L500.4,480.6 L501.4,480.9 L502.4,481.2 L503.4,481.4 L504.4,481.6 L505.4,481.8 L506.4,482.0 L507.4,482.1 L508.4,482.3 L509.4,482.4 L510.4,482.5 L511.4,482.6 L512.4,482.7 L513.4,482.8 L514.4,482.8 L515.4,482.9 L516.4,482.9 L517.4,483.0 L518.4,483.0 L519.4,483.1 L520.4,483.1 L521.4,483.1 L522.4,483.2 L523.4,483.2 L524.4,483.2 L524.4,483.5 L400.4,483.5 Z" fill="url(#gG)"/>
<path d="M524.4,483.2 L525.4,483.2 L526.4,483.2 L527.4,483.2 L528.4,483.1 L529.4,483.1 L530.4,483.1 L531.4,483.1 L532.4,483.0 L533.4,483.0 L534.4,483.0 L535.4,483.0 L536.4,482.9 L537.4,482.9 L538.4,482.8 L539.4,482.7 L540.4,482.7 L541.4,482.6 L542.4,482.5 L543.4,482.4 L544.4,482.3 L545.4,482.1 L546.4,482.0 L547.4,481.8 L548.4,481.6 L549.4,481.4 L550.4,481.2 L551.4,481.0 L552.4,480.7 L553.4,480.3 L554.4,480.0 L555.4,479.6 L556.4,479.2 L557.4,478.7 L558.4,478.3 L559.4,477.7 L560.4,477.1 L561.4,476.5 L562.4,475.8 L563.4,475.1 L564.4,474.4 L565.4,473.6 L566.4,472.7 L567.4,471.8 L568.4,470.9 L569.4,469.9 L570.4,468.9 L571.4,467.9 L572.4,466.8 L573.4,465.8 L574.4,464.6 L575.4,463.5 L576.4,462.4 L577.4,461.3 L578.4,460.1 L579.4,459.0 L580.4,457.9 L581.4,456.9 L582.4,455.9 L583.4,454.9 L584.4,454.0 L585.4,453.1 L586.4,452.3 L587.4,451.6 L588.4,451.0 L589.4,450.4 L590.4,450.0 L591.4,449.7 L592.4,449.4 L593.4,449.3 L594.4,449.3 L595.4,449.4 L596.4,449.6 L597.4,449.9 L598.4,450.3 L599.4,450.9 L600.4,451.5 L601.4,452.2 L602.4,452.9 L603.4,453.8 L604.4,454.7 L605.4,455.7 L606.4,456.7 L607.4,457.7 L608.4,458.8 L609.4,459.9 L610.4,461.0 L611.4,462.2 L612.4,463.3 L613.4,464.4 L614.4,465.5 L615.4,466.6 L616.4,467.7 L617.4,468.7 L618.4,469.7 L619.4,470.7 L620.4,471.7 L621.4,472.6 L622.4,473.4 L623.4,474.2 L624.4,475.0 L625.4,475.7 L626.4,476.4 L627.4,477.0 L628.4,477.6 L629.4,478.1 L630.4,478.7 L631.4,479.1 L632.4,479.5 L633.4,479.9 L634.4,480.3 L635.4,480.6 L636.4,480.9 L637.4,481.2 L638.4,481.4 L639.4,481.6 L640.4,481.8 L641.4,482.0 L642.4,482.1 L643.4,482.3 L644.4,482.4 L645.4,482.5 L646.4,482.6 L647.4,482.7 L648.4,482.7 L649.4,482.8 L650.4,482.8 L651.4,482.9 L652.4,482.9 L653.4,483.0 L654.4,483.0 L655.4,483.0 L656.4,483.1 L657.4,483.1 L658.4,483.1 L659.4,483.1 L660.4,483.1 L661.4,483.2 L662.4,483.2 L663.4,483.2 L663.4,483.5 L524.4,483.5 Z" fill="url(#gR)"/>
<path d="M410.4,484.1 L411.4,484.1 L412.4,484.1 L413.4,484.1 L414.4,484.1 L415.4,484.1 L416.4,484.1 L417.4,484.1 L418.4,484.1 L419.4,484.1 L420.4,484.1 L421.4,484.1 L422.4,484.1 L423.4,484.1 L424.4,484.1 L425.4,484.1 L426.4,484.1 L427.4,484.1 L428.4,484.1 L429.4,484.1 L430.4,484.1 L431.4,484.1 L432.4,484.1 L433.4,484.1 L434.4,484.1 L435.4,484.1 L436.4,484.1 L437.4,484.1 L438.4,484.1 L439.4,484.1 L440.4,484.1 L441.4,484.1 L442.4,484.1 L443.4,484.1 L444.4,484.1 L445.4,484.1 L446.4,484.1 L447.4,484.1 L448.4,484.1 L449.4,484.1 L450.4,484.1 L451.4,484.1 L452.4,484.1 L453.4,484.1 L454.4,484.1 L455.4,484.1 L456.4,484.1 L457.4,484.1 L458.4,484.1 L459.4,484.1 L460.4,484.1 L461.4,484.1 L462.4,484.1 L463.4,484.1 L464.4,484.1 L465.4,484.1 L466.4,484.1 L467.4,484.1 L468.4,484.1 L469.4,484.1 L470.4,484.1 L471.4,484.1 L472.4,484.1 L473.4,484.1 L474.4,484.1 L475.4,484.1 L476.4,484.1 L477.4,484.1 L478.4,484.1 L479.4,484.1 L480.4,484.1 L481.4,484.1 L482.4,484.1 L483.4,484.1 L484.4,484.1 L485.4,484.1 L486.4,484.1 L487.4,484.1 L488.4,484.1 L489.4,484.1 L490.4,484.1 L491.4,484.1 L492.4,484.1 L493.4,484.1 L494.4,484.1 L495.4,484.1 L496.4,484.1 L497.4,484.1 L498.4,484.1 L499.4,484.1 L500.4,484.1 L501.4,484.1 L502.4,484.1 L503.4,484.1 L504.4,484.1 L505.4,484.1 L506.4,484.1 L507.4,484.1 L508.4,484.1 L509.4,484.1 L510.4,484.1 L511.4,484.1 L512.4,484.1 L513.4,484.1 L514.4,484.1 L515.4,484.1 L516.4,484.1 L517.4,484.1 L518.4,484.1 L519.4,484.1 L520.4,484.1 L521.4,484.1 L522.4,484.1 L523.4,484.1 L524.4,484.1 L525.4,484.1 L526.4,484.1 L527.4,484.1 L528.4,484.1 L529.4,484.1 L530.4,484.1 L531.4,484.1 L532.4,484.1 L533.4,484.1 L534.4,484.1 L535.4,484.1 L536.4,484.1 L537.4,484.1 L538.4,484.1 L539.4,484.1 L540.4,484.1 L541.4,484.1 L542.4,484.1 L543.4,484.1 L544.4,484.1 L545.4,484.1 L546.4,484.1 L547.4,484.1 L548.4,484.1 L549.4,484.1 L550.4,484.1 L551.4,484.1 L552.4,484.1 L553.4,484.1 L554.4,484.1 L555.4,484.1 L556.4,484.1 L557.4,484.1 L558.4,484.1 L559.4,484.1 L560.4,484.1 L561.4,484.1 L562.4,484.1 L563.4,484.1 L564.4,484.1 L565.4,484.1 L566.4,484.1 L567.4,484.1 L568.4,484.1 L569.4,484.1 L570.4,484.1 L571.4,484.1 L572.4,484.1 L573.4,484.1 L574.4,484.1 L575.4,484.1 L576.4,484.1 L577.4,484.1 L578.4,484.1 L579.4,484.1 L580.4,484.1 L581.4,484.1 L582.4,484.1 L583.4,484.1 L584.4,484.1 L585.4,484.1 L586.4,484.1 L587.4,484.1 L588.4,484.1 L589.4,484.1 L590.4,484.1 L591.4,484.1 L592.4,484.1 L593.4,484.1 L594.4,484.1 L595.4,484.1 L596.4,484.1 L597.4,484.1 L598.4,484.1 L599.4,484.1 L600.4,484.1 L601.4,484.1 L602.4,484.1 L603.4,484.1 L604.4,484.1 L605.4,484.1 L606.4,484.1 L607.4,484.1 L608.4,484.1 L609.4,484.1 L610.4,484.1 L611.4,484.1 L612.4,484.1 L613.4,484.1 L614.4,484.1 L615.4,484.1 L616.4,484.1 L617.4,484.1 L618.4,484.1 L619.4,484.1 L620.4,484.1 L621.4,484.1 L622.4,484.1 L623.4,484.1 L624.4,484.1 L625.4,484.1 L626.4,484.1 L627.4,484.1 L628.4,484.1 L629.4,484.1 L630.4,484.1 L631.4,484.1 L632.4,484.1" fill="none" stroke="#1aff1a" stroke-width="1.8" stroke-linejoin="round" />
<path d="M366.4,483.4 L367.4,483.4 L368.4,483.4 L369.4,483.4 L370.4,483.4 L371.4,483.3 L372.4,483.3 L373.4,483.3 L374.4,483.3 L375.4,483.3 L376.4,483.3 L377.4,483.3 L378.4,483.3 L379.4,483.3 L380.4,483.3 L381.4,483.3 L382.4,483.3 L383.4,483.3 L384.4,483.3 L385.4,483.3 L386.4,483.3 L387.4,483.3 L388.4,483.3 L389.4,483.3 L390.4,483.3 L391.4,483.3 L392.4,483.3 L393.4,483.2 L394.4,483.2 L395.4,483.2 L396.4,483.2 L397.4,483.2 L398.4,483.2 L399.4,483.2 L400.4,483.2 L401.4,483.1 L402.4,483.1 L403.4,483.1 L404.4,483.1 L405.4,483.0 L406.4,483.0 L407.4,483.0 L408.4,482.9 L409.4,482.9 L410.4,482.8 L411.4,482.7 L412.4,482.7 L413.4,482.6 L414.4,482.5 L415.4,482.4 L416.4,482.2 L417.4,482.1 L418.4,482.0 L419.4,481.8 L420.4,481.6 L421.4,481.4 L422.4,481.2 L423.4,480.9 L424.4,480.6 L425.4,480.3 L426.4,480.0 L427.4,479.6 L428.4,479.3 L429.4,478.8 L430.4,478.4 L431.4,477.9 L432.4,477.4 L433.4,476.9 L434.4,476.3 L435.4,475.7 L436.4,475.1 L437.4,474.4 L438.4,473.7 L439.4,473.0 L440.4,472.3 L441.4,471.6 L442.4,470.8 L443.4,470.0 L444.4,469.3 L445.4,468.5 L446.4,467.7 L447.4,466.9 L448.4,466.2 L449.4,465.4 L450.4,464.7 L451.4,464.0 L452.4,463.4 L453.4,462.7 L454.4,462.2 L455.4,461.6 L456.4,461.2 L457.4,460.8 L458.4,460.4 L459.4,460.2 L460.4,460.0 L461.4,459.9 L462.4,459.8 L463.4,459.8 L464.4,459.9 L465.4,460.1 L466.4,460.4 L467.4,460.7 L468.4,461.1 L469.4,461.5 L470.4,462.0 L471.4,462.6 L472.4,463.2 L473.4,463.8 L474.4,464.5 L475.4,465.2 L476.4,466.0 L477.4,466.7 L478.4,467.5 L479.4,468.3 L480.4,469.1 L481.4,469.8 L482.4,470.6 L483.4,471.4 L484.4,472.1 L485.4,472.8 L486.4,473.5 L487.4,474.2 L488.4,474.9 L489.4,475.5 L490.4,476.1 L491.4,476.7 L492.4,477.2 L493.4,477.7 L494.4,478.2 L495.4,478.7 L496.4,479.1 L497.4,479.5 L498.4,479.8 L499.4,480.2 L500.4,480.5 L501.4,480.7 L502.4,481.0 L503.4,481.2 L504.4,481.4 L505.4,481.6 L506.4,481.8 L507.4,481.9 L508.4,482.1 L509.4,482.2 L510.4,482.3 L511.4,482.4 L512.4,482.5 L513.4,482.5 L514.4,482.6 L515.4,482.7 L516.4,482.7 L517.4,482.7 L518.4,482.8 L519.4,482.8 L520.4,482.8 L521.4,482.9 L522.4,482.9 L523.4,482.9 L524.4,482.9 L525.4,482.9 L526.4,482.9 L527.4,482.9 L528.4,482.9 L529.4,482.9 L530.4,482.9 L531.4,482.9 L532.4,482.8 L533.4,482.8 L534.4,482.8 L535.4,482.8 L536.4,482.7 L537.4,482.7 L538.4,482.6 L539.4,482.6 L540.4,482.5 L541.4,482.4 L542.4,482.3 L543.4,482.2 L544.4,482.1 L545.4,482.0 L546.4,481.9 L547.4,481.7 L548.4,481.5 L549.4,481.3 L550.4,481.1 L551.4,480.8 L552.4,480.5 L553.4,480.2 L554.4,479.9 L555.4,479.5 L556.4,479.1 L557.4,478.6 L558.4,478.1 L559.4,477.6 L560.4,477.0 L561.4,476.4 L562.4,475.7 L563.4,475.0 L564.4,474.3 L565.4,473.5 L566.4,472.6 L567.4,471.8 L568.4,470.8 L569.4,469.9 L570.4,468.9 L571.4,467.8 L572.4,466.8 L573.4,465.7 L574.4,464.6 L575.4,463.4 L576.4,462.3 L577.4,461.2 L578.4,460.1 L579.4,459.0 L580.4,457.9 L581.4,456.8 L582.4,455.8 L583.4,454.8 L584.4,453.9 L585.4,453.0 L586.4,452.2 L587.4,451.5 L588.4,450.9 L589.4,450.4 L590.4,449.9 L591.4,449.6 L592.4,449.4 L593.4,449.3 L594.4,449.2 L595.4,449.3 L596.4,449.6 L597.4,449.9 L598.4,450.3 L599.4,450.8 L600.4,451.4 L601.4,452.1 L602.4,452.9 L603.4,453.7 L604.4,454.6 L605.4,455.6 L606.4,456.6 L607.4,457.7 L608.4,458.8 L609.4,459.9 L610.4,461.0 L611.4,462.1 L612.4,463.2 L613.4,464.4 L614.4,465.5 L615.4,466.6 L616.4,467.7 L617.4,468.7 L618.4,469.7 L619.4,470.7 L620.4,471.6 L621.4,472.5 L622.4,473.4 L623.4,474.2 L624.4,474.9 L625.4,475.7 L626.4,476.3 L627.4,477.0 L628.4,477.6 L629.4,478.1 L630.4,478.6 L631.4,479.1 L632.4,479.5 L633.4,479.9 L634.4,480.2 L635.4,480.6 L636.4,480.9 L637.4,481.1 L638.4,481.4 L639.4,481.6 L640.4,481.8 L641.4,481.9 L642.4,482.1 L643.4,482.2 L644.4,482.3 L645.4,482.4 L646.4,482.5 L647.4,482.6 L648.4,482.7 L649.4,482.8 L650.4,482.8 L651.4,482.9 L652.4,482.9 L653.4,483.0 L654.4,483.0 L655.4,483.0 L656.4,483.0 L657.4,483.1 L658.4,483.1 L659.4,483.1 L660.4,483.1 L661.4,483.1 L662.4,483.2 L663.4,483.2 L664.4,483.2 L665.4,483.2 L666.4,483.2 L667.4,483.2 L668.4,483.2 L669.4,483.2 L670.4,483.2 L671.4,483.2 L672.4,483.2" fill="none" stroke="#0565ab" stroke-width="1.4" stroke-linejoin="round" />
<path d="M366.4,482.9 L367.4,482.9 L368.4,484.3 L369.4,484.7 L370.4,483.4 L371.4,482.5 L372.4,482.5 L373.4,483.4 L374.4,485.1 L375.4,483.9 L376.4,482.5 L377.4,483.0 L378.4,482.4 L379.4,483.0 L380.4,484.0 L381.4,482.6 L382.4,481.4 L383.4,483.4 L384.4,484.4 L385.4,483.9 L386.4,483.3 L387.4,482.6 L388.4,483.3 L389.4,483.2 L390.4,482.0 L391.4,482.4 L392.4,483.9 L393.4,483.1 L394.4,483.2 L395.4,484.5 L396.4,483.0 L397.4,482.5 L398.4,483.1 L399.4,483.6 L400.4,484.1 L401.4,482.6 L402.4,481.1 L403.4,482.8 L404.4,483.9 L405.4,483.4 L406.4,483.5 L407.4,484.3 L408.4,483.1 L409.4,482.7 L410.4,482.9 L411.4,482.6 L412.4,484.1 L413.4,482.5 L414.4,481.7 L415.4,482.4 L416.4,481.8 L417.4,481.9 L418.4,481.1 L419.4,480.2 L420.4,481.3 L421.4,482.4 L422.4,481.2 L423.4,479.2 L424.4,481.0 L425.4,482.5 L426.4,480.6 L427.4,478.5 L428.4,477.2 L429.4,477.5 L430.4,476.5 L431.4,476.8 L432.4,476.7 L433.4,475.0 L434.4,473.2 L435.4,471.4 L436.4,470.8 L437.4,470.8 L438.4,470.5 L439.4,469.4 L440.4,469.2 L441.4,469.1 L442.4,469.4 L443.4,468.2 L444.4,466.8 L445.4,466.4 L446.4,466.9 L447.4,466.2 L448.4,465.1 L449.4,464.7 L450.4,464.2 L451.4,463.9 L452.4,462.9 L453.4,462.2 L454.4,462.3 L455.4,462.3 L456.4,461.9 L457.4,461.4 L458.4,460.6 L459.4,459.8 L460.4,459.8 L461.4,458.9 L462.4,457.9 L463.4,457.7 L464.4,458.1 L465.4,459.3 L466.4,459.5 L467.4,460.4 L468.4,461.0 L469.4,461.1 L470.4,461.8 L471.4,462.2 L472.4,463.4 L473.4,464.2 L474.4,464.4 L475.4,464.8 L476.4,465.3 L477.4,466.4 L478.4,467.2 L479.4,467.9 L480.4,468.9 L481.4,470.4 L482.4,471.1 L483.4,471.1 L484.4,471.7 L485.4,474.4 L486.4,476.5 L487.4,475.8 L488.4,475.8 L489.4,475.5 L490.4,475.4 L491.4,476.7 L492.4,477.4 L493.4,477.1 L494.4,477.0 L495.4,478.4 L496.4,479.6 L497.4,478.1 L498.4,478.3 L499.4,481.1 L500.4,480.9 L501.4,480.4 L502.4,480.0 L503.4,480.7 L504.4,481.2 L505.4,479.8 L506.4,480.6 L507.4,483.4 L508.4,483.3 L509.4,480.8 L510.4,481.7 L511.4,482.8 L512.4,483.8 L513.4,482.8 L514.4,480.5 L515.4,481.2 L516.4,482.7 L517.4,483.2 L518.4,483.8 L519.4,482.5 L520.4,481.1 L521.4,482.1 L522.4,483.3 L523.4,483.8 L524.4,482.9 L525.4,481.8 L526.4,482.7 L527.4,484.2 L528.4,485.5 L529.4,484.7 L530.4,483.9 L531.4,483.1 L532.4,481.5 L533.4,481.9 L534.4,481.9 L535.4,481.7 L536.4,481.6 L537.4,482.2 L538.4,482.2 L539.4,482.7 L540.4,482.9 L541.4,482.3 L542.4,483.4 L543.4,483.5 L544.4,482.4 L545.4,482.1 L546.4,481.8 L547.4,482.1 L548.4,481.3 L549.4,481.5 L550.4,483.0 L551.4,482.8 L552.4,480.9 L553.4,478.6 L554.4,478.2 L555.4,479.1 L556.4,479.5 L557.4,478.7 L558.4,477.2 L559.4,477.7 L560.4,476.6 L561.4,475.4 L562.4,475.6 L563.4,472.8 L564.4,471.2 L565.4,470.6 L566.4,468.6 L567.4,466.5 L568.4,464.9 L569.4,465.5 L570.4,465.3 L571.4,464.3 L572.4,462.9 L573.4,461.6 L574.4,461.6 L575.4,460.4 L576.4,459.1 L577.4,459.1 L578.4,458.9 L579.4,457.6 L580.4,456.7 L581.4,456.4 L582.4,456.3 L583.4,454.8 L584.4,453.6 L585.4,453.9 L586.4,452.9 L587.4,452.0 L588.4,450.4 L589.4,449.9 L590.4,450.4 L591.4,448.9 L592.4,449.0 L593.4,449.9 L594.4,450.1 L595.4,450.2 L596.4,449.8 L597.4,448.7 L598.4,447.4 L599.4,446.0 L600.4,446.0 L601.4,447.9 L602.4,450.6 L603.4,453.4 L604.4,454.9 L605.4,456.5 L606.4,458.2 L607.4,458.0 L608.4,458.1 L609.4,459.2 L610.4,460.1 L611.4,461.9 L612.4,463.1 L613.4,463.6 L614.4,464.5 L615.4,466.9 L616.4,467.9 L617.4,468.1 L618.4,470.1 L619.4,471.7 L620.4,472.3 L621.4,473.5 L622.4,473.3 L623.4,473.6 L624.4,474.6 L625.4,475.9 L626.4,477.7 L627.4,476.8 L628.4,477.7 L629.4,478.2 L630.4,478.6 L631.4,480.0 L632.4,479.0 L633.4,478.4 L634.4,479.2 L635.4,480.3 L636.4,480.3 L637.4,481.0 L638.4,480.7 L639.4,480.5 L640.4,481.7 L641.4,480.5 L642.4,480.9 L643.4,481.5 L644.4,479.5 L645.4,480.1 L646.4,481.9 L647.4,483.1 L648.4,483.0 L649.4,483.4 L650.4,484.9 L651.4,484.7 L652.4,484.7 L653.4,484.1 L654.4,482.8 L655.4,483.0 L656.4,484.2 L657.4,483.9 L658.4,483.0 L659.4,481.7 L660.4,482.4 L661.4,483.9 L662.4,482.4 L663.4,482.2 L664.4,483.7 L665.4,483.6 L666.4,483.6 L667.4,484.3 L668.4,482.6 L669.4,481.9 L670.4,483.3 L671.4,484.2 L672.4,484.9" fill="none" stroke="#0565ab" stroke-width="1.3" stroke-linejoin="round" />
<line x1="365.80" y1="442.00" x2="673.00" y2="442.00" stroke="#000" stroke-width="1.6" />
<line x1="462.00" y1="277.00" x2="462.00" y2="497.00" stroke="#000" stroke-width="2.2" stroke-dasharray="2.3 2.0"/>
<line x1="592.80" y1="277.00" x2="592.80" y2="497.00" stroke="#000" stroke-width="2.2" stroke-dasharray="2.3 2.0"/>
<rect x="365.80" y="277.00" width="307.20" height="220.00" fill="none" stroke="#000" stroke-width="1.6"/>
<line x1="365.80" y1="497.00" x2="365.80" y2="493.00" stroke="#000" stroke-width="1.3" />
<text x="365.00" y="509.80" font-size="10.5" text-anchor="middle"  stroke="#000" stroke-width="0.22">378.0</text>
<line x1="396.52" y1="497.00" x2="396.52" y2="494.50" stroke="#000" stroke-width="1.1" />
<line x1="427.24" y1="497.00" x2="427.24" y2="493.00" stroke="#000" stroke-width="1.3" />
<text x="426.44" y="509.80" font-size="10.5" text-anchor="middle"  stroke="#000" stroke-width="0.22">375.2</text>
<line x1="457.96" y1="497.00" x2="457.96" y2="494.50" stroke="#000" stroke-width="1.1" />
<line x1="488.68" y1="497.00" x2="488.68" y2="493.00" stroke="#000" stroke-width="1.3" />
<text x="487.88" y="509.80" font-size="10.5" text-anchor="middle"  stroke="#000" stroke-width="0.22">372.4</text>
<line x1="519.40" y1="497.00" x2="519.40" y2="494.50" stroke="#000" stroke-width="1.1" />
<line x1="550.12" y1="497.00" x2="550.12" y2="493.00" stroke="#000" stroke-width="1.3" />
<text x="549.32" y="509.80" font-size="10.5" text-anchor="middle"  stroke="#000" stroke-width="0.22">369.6</text>
<line x1="580.84" y1="497.00" x2="580.84" y2="494.50" stroke="#000" stroke-width="1.1" />
<line x1="611.56" y1="497.00" x2="611.56" y2="493.00" stroke="#000" stroke-width="1.3" />
<text x="610.76" y="509.80" font-size="10.5" text-anchor="middle"  stroke="#000" stroke-width="0.22">366.8</text>
<line x1="642.28" y1="497.00" x2="642.28" y2="494.50" stroke="#000" stroke-width="1.1" />
<line x1="673.00" y1="497.00" x2="673.00" y2="493.00" stroke="#000" stroke-width="1.3" />
<text x="672.20" y="509.80" font-size="10.5" text-anchor="middle"  stroke="#000" stroke-width="0.22">364.0</text>
<text x="339.60" y="290.60" font-size="17" text-anchor="start" >d</text>
<text x="368.00" y="288.30" font-size="10.8" text-anchor="start"  stroke="#000" stroke-width="0.22">ZnO@Ag8%</text>
<text x="368.90" y="344.40" font-size="10.8" text-anchor="start"  stroke="#000" stroke-width="0.22">ZnO@Ag6%</text>
<text x="368.20" y="398.80" font-size="10.8" text-anchor="start"  stroke="#000" stroke-width="0.22">ZnO@Ag4%</text>
<text x="368.60" y="453.80" font-size="10.8" text-anchor="start"  stroke="#000" stroke-width="0.22">ZnO@Ag2%</text>
<text x="468.00" y="455.10" font-size="11" text-anchor="start"  stroke="#000" stroke-width="0.22">Ag 3d<tspan font-size="7.2" dy="3.4">3/2</tspan></text>
<text x="610.90" y="454.50" font-size="11" text-anchor="start"  stroke="#000" stroke-width="0.22">Ag 3d<tspan font-size="7.2" dy="3.4">5/2</tspan></text>
<text x="519.00" y="531.80" font-size="16.3" text-anchor="middle" >Binding Energy (eV)</text>
<text transform="translate(346.20,383.00) rotate(-90)" font-size="16.0" text-anchor="middle">Intensity (a.u.)</text>
</svg></body></html>
